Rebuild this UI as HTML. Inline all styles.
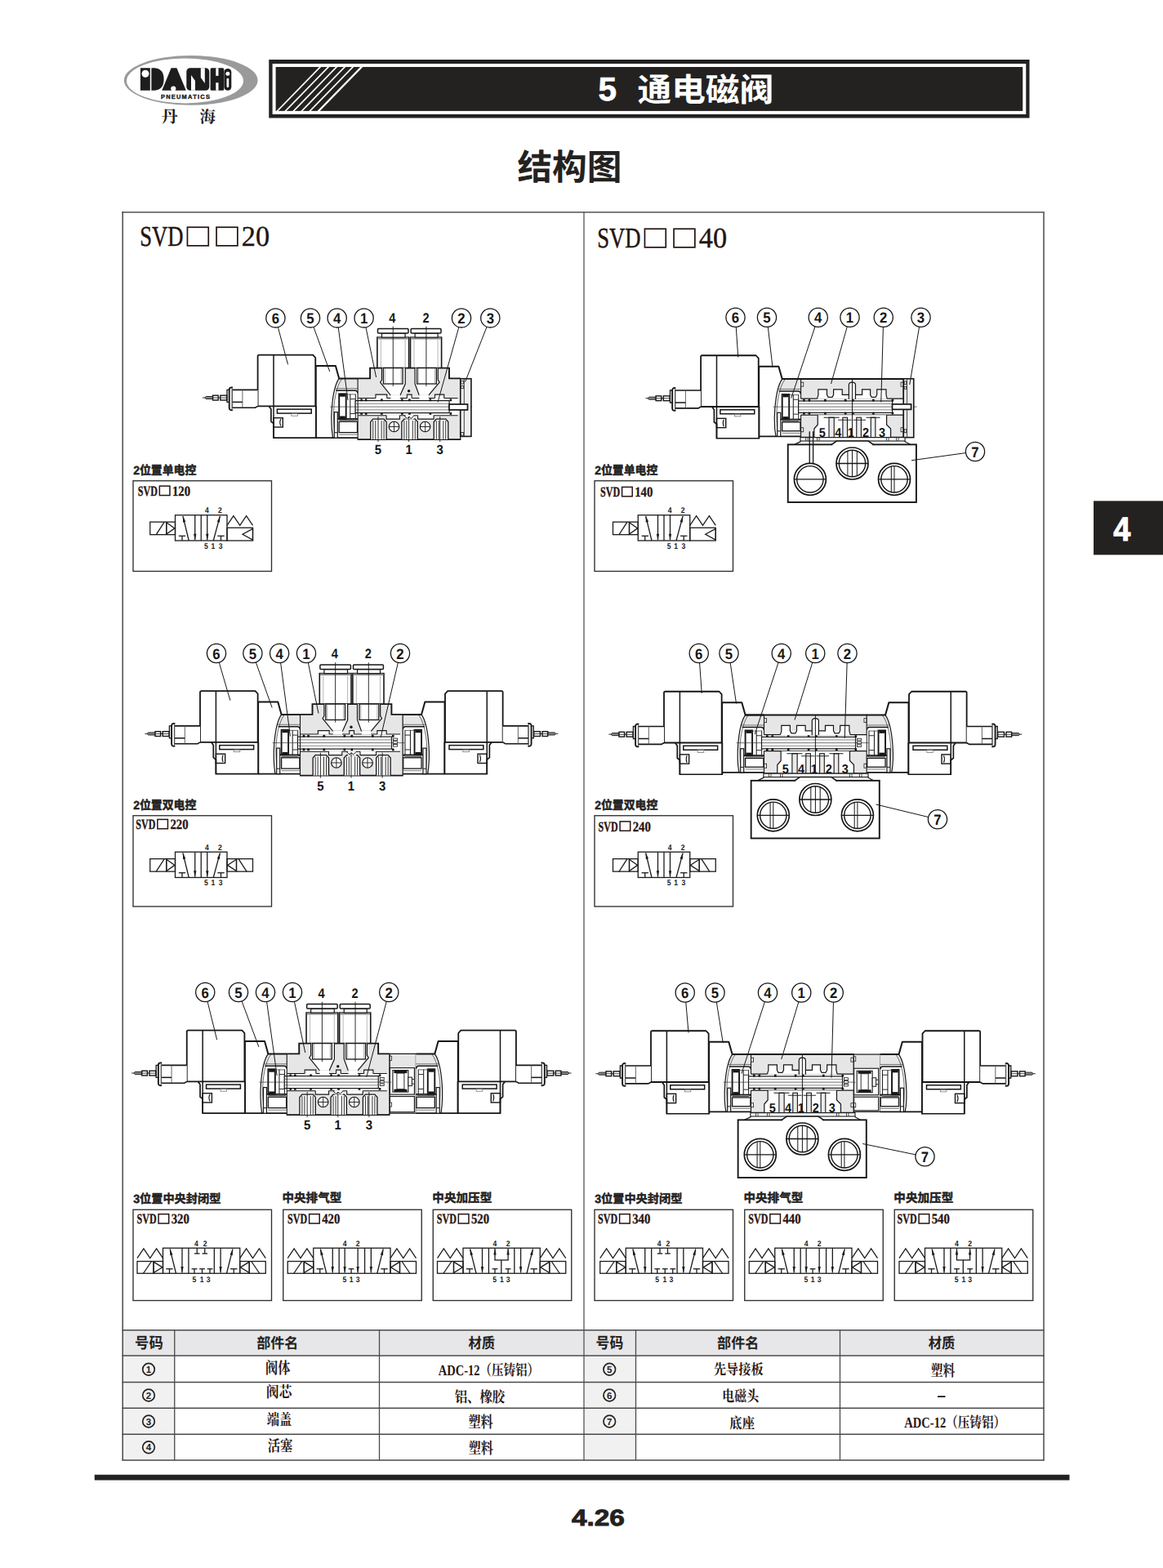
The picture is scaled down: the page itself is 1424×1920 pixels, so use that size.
<!DOCTYPE html>
<html lang="zh"><head><meta charset="utf-8"><title>5 通电磁阀 结构图</title>
<style>html,body{margin:0;padding:0;background:#fff}body{width:1424px;height:1920px;overflow:hidden;position:relative}svg{position:absolute;left:0;top:0;display:block}</style></head>
<body>
<svg width="1424" height="1920" viewBox="0 0 1424 1920" text-rendering="geometricPrecision">
<rect x="329.25" y="73" width="931.25" height="71.5" fill="#232221"/>
<clipPath id="hc"><rect x="337.6" y="82" width="914.6" height="53.9"/></clipPath>
<g clip-path="url(#hc)" stroke="#fff" fill="none">
<line x1="336.5" y1="139" x2="395" y2="79" stroke-width="1.7"/>
<line x1="346.5" y1="139" x2="405" y2="79" stroke-width="1.7"/>
<line x1="356.5" y1="139" x2="415" y2="79" stroke-width="1.7"/>
<line x1="366.5" y1="139" x2="425" y2="79" stroke-width="1.7"/>
<line x1="376.5" y1="139" x2="435" y2="79" stroke-width="1.7"/>
<line x1="387.1" y1="139" x2="445.6" y2="79" stroke-width="2.3"/>
</g>
<rect x="335.6" y="80" width="918.65" height="57.9" fill="none" stroke="#fff" stroke-width="4"/>
<text x="732.5" y="122.5" font-family="'Liberation Sans',sans-serif" font-size="40.5" font-weight="bold" text-anchor="start" fill="#fff" stroke="#fff" stroke-width="0.7">5</text>
<text transform="translate(780.54 123.57) scale(1.049 1)" font-family="'Liberation Sans','Noto Sans CJK SC',sans-serif" font-size="39.7" font-weight="bold" fill="#fff">通电磁阀</text>
<text transform="translate(633.41 219.61) scale(0.989 1)" font-family="'Liberation Sans','Noto Sans CJK SC',sans-serif" font-size="43.15" font-weight="bold" fill="#232221">结构图</text>
<ellipse cx="233.7" cy="98.4" rx="81.9" ry="30.4" fill="#9a9a9a"/>
<ellipse cx="226.5" cy="98.9" rx="71.5" ry="27.5" fill="#fff"/>
<g fill="#1d1d1d">
<rect x="171.9" y="83.25" width="11.9" height="27.5"/>
<path d="M185.4 83.25L189.5 83.25Q200.6 84.2 200.6 97Q200.6 109.8 189.5 110.75L185.4 110.75Z"/>
<path d="M198.3 110.75L209.6 83.25L216.4 83.25L227.8 110.75Z"/>
<rect x="228.3" y="83.25" width="28" height="27.5" rx="4.5"/>
<rect x="257.6" y="83.25" width="16.6" height="27.5" rx="1.5"/>
<rect x="274.4" y="84" width="8.9" height="26.75" rx="4.2"/>
</g>
<g fill="#fff">
<circle cx="178" cy="90.2" r="4.5"/>
<circle cx="212.3" cy="108.6" r="3.1"/>
<path d="M234 110.75L234 92L239 99L239 110.75Z"/>
<path d="M245.8 83.25L250.8 83.25L250.8 102L245.8 95Z"/>
<rect x="264.3" y="83.25" width="3.2" height="9.6"/>
<rect x="264.3" y="101.2" width="3.2" height="9.55"/>
<circle cx="278.85" cy="90.3" r="2.5"/>
<rect x="277.5" y="95.8" width="2.7" height="11.4" rx="1.35"/>
</g>
<text x="196.9" y="120.5" font-family="'Liberation Sans',sans-serif" font-weight="bold" font-size="7.4" textLength="60" lengthAdjust="spacing" fill="#1d1d1d" stroke="#1d1d1d" stroke-width="0.4">PNEUMATICS</text>
<text transform="translate(197.51 150.19) scale(0.987 1)" font-family="'Liberation Serif','Noto Serif CJK SC',serif" font-size="20.5" font-weight="bold" fill="#1d1d1d">丹</text>
<text transform="translate(244.51 150.2) scale(0.976 1)" font-family="'Liberation Serif','Noto Serif CJK SC',serif" font-size="20" font-weight="bold" fill="#1d1d1d">海</text>
<rect x="150" y="1628.75" width="1128" height="31.25" fill="#e7e6e8"/>
<rect x="150" y="1660" width="63.75" height="128" fill="#f1f1f2"/>
<rect x="715" y="1660" width="63.5" height="128" fill="#f1f1f2"/>
<line x1="149.5" y1="259.8" x2="1279" y2="259.8" stroke="#6a6a6a" stroke-width="1.7"/>
<line x1="150.2" y1="259" x2="150.2" y2="1788.5" stroke="#3c3c3c" stroke-width="1.4"/>
<line x1="1278" y1="259" x2="1278" y2="1788.5" stroke="#707070" stroke-width="1.9"/>
<line x1="715" y1="259" x2="715" y2="1788.5" stroke="#555" stroke-width="1.3"/>
<line x1="149.5" y1="1628.75" x2="1278.5" y2="1628.75" stroke="#4a4a4a" stroke-width="1.3"/>
<line x1="149.5" y1="1660" x2="1278.5" y2="1660" stroke="#4a4a4a" stroke-width="1.3"/>
<line x1="149.5" y1="1692.5" x2="1278.5" y2="1692.5" stroke="#4a4a4a" stroke-width="1.3"/>
<line x1="149.5" y1="1724.25" x2="1278.5" y2="1724.25" stroke="#4a4a4a" stroke-width="1.3"/>
<line x1="149.5" y1="1756.25" x2="1278.5" y2="1756.25" stroke="#4a4a4a" stroke-width="1.3"/>
<line x1="149.5" y1="1788" x2="1278.5" y2="1788" stroke="#4a4a4a" stroke-width="1.3"/>
<line x1="213.75" y1="1628.75" x2="213.75" y2="1788" stroke="#4a4a4a" stroke-width="1.3"/>
<line x1="464.5" y1="1628.75" x2="464.5" y2="1788" stroke="#4a4a4a" stroke-width="1.3"/>
<line x1="778.5" y1="1628.75" x2="778.5" y2="1788" stroke="#4a4a4a" stroke-width="1.3"/>
<line x1="1028.5" y1="1628.75" x2="1028.5" y2="1788" stroke="#4a4a4a" stroke-width="1.3"/>
<rect x="115.75" y="1805.75" width="1193.75" height="6.75" fill="#232221"/>
<text transform="translate(165.08 1651.36) scale(0.923 1)" font-family="'Liberation Sans','Noto Sans CJK SC',sans-serif" font-size="18.85" font-weight="bold" fill="#232221">号码</text>
<text transform="translate(314.28 1651.4) scale(0.949 1)" font-family="'Liberation Sans','Noto Sans CJK SC',sans-serif" font-size="17.95" font-weight="bold" fill="#232221">部件名</text>
<text transform="translate(573.49 1651.4) scale(0.9055 1)" font-family="'Liberation Sans','Noto Sans CJK SC',sans-serif" font-size="18" font-weight="bold" fill="#232221">材质</text>
<text transform="translate(729.61 1651.36) scale(0.895 1)" font-family="'Liberation Sans','Noto Sans CJK SC',sans-serif" font-size="18.85" font-weight="bold" fill="#232221">号码</text>
<text transform="translate(878.03 1651.4) scale(0.954 1)" font-family="'Liberation Sans','Noto Sans CJK SC',sans-serif" font-size="17.95" font-weight="bold" fill="#232221">部件名</text>
<text transform="translate(1136.74 1651.4) scale(0.9055 1)" font-family="'Liberation Sans','Noto Sans CJK SC',sans-serif" font-size="18" font-weight="bold" fill="#232221">材质</text>
<text transform="translate(325.04 1682) scale(0.7736 1)" font-family="'Liberation Serif','Noto Serif CJK SC',serif" font-size="19.8" font-weight="bold" fill="#2a1512">阀体</text>
<text transform="translate(326.02 1710.72) scale(0.827 1)" font-family="'Liberation Serif','Noto Serif CJK SC',serif" font-size="18.9" font-weight="bold" fill="#2a1512">阀芯</text>
<text transform="translate(326.72 1745.3) scale(0.805 1)" font-family="'Liberation Serif','Noto Serif CJK SC',serif" font-size="19.1" font-weight="bold" fill="#2a1512">端盖</text>
<text transform="translate(327.69 1776.69) scale(0.809 1)" font-family="'Liberation Serif','Noto Serif CJK SC',serif" font-size="18.9" font-weight="bold" fill="#2a1512">活塞</text>
<text transform="translate(536.8 1683.75) scale(0.7666 1)" font-family="'Liberation Serif','Noto Serif CJK SC',serif" font-size="18.4" font-weight="bold" fill="#2a1512" textLength="160.7" lengthAdjust="spacingAndGlyphs">ADC-12（压铸铝）</text>
<text transform="translate(556.69 1716.93) scale(0.827 1)" font-family="'Liberation Serif','Noto Serif CJK SC',serif" font-size="18.6" font-weight="bold" fill="#2a1512">铝、橡胶</text>
<text transform="translate(573.42 1747.65) scale(0.78 1)" font-family="'Liberation Serif','Noto Serif CJK SC',serif" font-size="19.45" font-weight="bold" fill="#2a1512">塑料</text>
<text transform="translate(573.67 1780.18) scale(0.7905 1)" font-family="'Liberation Serif','Noto Serif CJK SC',serif" font-size="19.2" font-weight="bold" fill="#2a1512">塑料</text>
<text transform="translate(873.92 1682.78) scale(0.854 1)" font-family="'Liberation Serif','Noto Serif CJK SC',serif" font-size="17.75" font-weight="bold" fill="#2a1512">先导接板</text>
<text transform="translate(884.3 1715.96) scale(0.803 1)" font-family="'Liberation Serif','Noto Serif CJK SC',serif" font-size="18.6" font-weight="bold" fill="#2a1512">电磁头</text>
<text transform="translate(893.37 1749.23) scale(0.8476 1)" font-family="'Liberation Serif','Noto Serif CJK SC',serif" font-size="18" font-weight="bold" fill="#2a1512">底座</text>
<text transform="translate(1139.67 1685.18) scale(0.771 1)" font-family="'Liberation Serif','Noto Serif CJK SC',serif" font-size="19.2" font-weight="bold" fill="#2a1512">塑料</text>
<rect x="1148" y="1709.2" width="9.5" height="1.8" fill="#2a1512"/>
<text transform="translate(1107.3 1748.25) scale(0.77 1)" font-family="'Liberation Serif','Noto Serif CJK SC',serif" font-size="18.4" font-weight="bold" fill="#2a1512" textLength="160.7" lengthAdjust="spacingAndGlyphs">ADC-12（压铸铝）</text>
<circle cx="182" cy="1676.75" r="7.3" fill="none" stroke="#232221" stroke-width="1.7"/>
<text x="182" y="1680.95" font-family="'Liberation Sans',sans-serif" font-size="11.5" font-weight="bold" text-anchor="middle" fill="#232221">1</text>
<circle cx="182" cy="1708.5" r="7.3" fill="none" stroke="#232221" stroke-width="1.7"/>
<text x="182" y="1712.7" font-family="'Liberation Sans',sans-serif" font-size="11.5" font-weight="bold" text-anchor="middle" fill="#232221">2</text>
<circle cx="182" cy="1740.5" r="7.3" fill="none" stroke="#232221" stroke-width="1.7"/>
<text x="182" y="1744.7" font-family="'Liberation Sans',sans-serif" font-size="11.5" font-weight="bold" text-anchor="middle" fill="#232221">3</text>
<circle cx="182" cy="1772.25" r="7.3" fill="none" stroke="#232221" stroke-width="1.7"/>
<text x="182" y="1776.45" font-family="'Liberation Sans',sans-serif" font-size="11.5" font-weight="bold" text-anchor="middle" fill="#232221">4</text>
<circle cx="746.25" cy="1676.75" r="7.3" fill="none" stroke="#232221" stroke-width="1.7"/>
<text x="746.25" y="1680.95" font-family="'Liberation Sans',sans-serif" font-size="11.5" font-weight="bold" text-anchor="middle" fill="#232221">5</text>
<circle cx="746.25" cy="1708.5" r="7.3" fill="none" stroke="#232221" stroke-width="1.7"/>
<text x="746.25" y="1712.7" font-family="'Liberation Sans',sans-serif" font-size="11.5" font-weight="bold" text-anchor="middle" fill="#232221">6</text>
<circle cx="746.25" cy="1740.5" r="7.3" fill="none" stroke="#232221" stroke-width="1.7"/>
<text x="746.25" y="1744.7" font-family="'Liberation Sans',sans-serif" font-size="11.5" font-weight="bold" text-anchor="middle" fill="#232221">7</text>
<rect x="1339" y="613.4" width="90" height="66" fill="#232221"/>
<text x="1373.8" y="661.8" font-family="'Liberation Sans',sans-serif" font-size="41" font-weight="bold" text-anchor="middle" fill="#fff" stroke="#fff" stroke-width="1" transform="translate(1373.8 0) scale(0.92 1) translate(-1373.8 0)">4</text>
<text x="0" y="0" transform="translate(700 1868) scale(1.19 1)" font-family="'Liberation Sans',sans-serif" font-weight="bold" font-size="28" fill="#232221" stroke="#232221" stroke-width="0.9">4.26</text>
<rect x="163" y="588.75" width="169.5" height="110.75" fill="none" stroke="#2e2e2e" stroke-width="1.35"/>
<rect x="163" y="998.75" width="169.5" height="111.25" fill="none" stroke="#2e2e2e" stroke-width="1.35"/>
<g transform="translate(214.5 630.75)">
<rect x="0" y="0" width="63.5" height="31.25" fill="none" stroke="#1c1c1c" stroke-width="1.3"/>
<line x1="31.75" y1="0" x2="31.75" y2="31.25" stroke="#1c1c1c" stroke-width="1.3"/>
<line x1="16.75" y1="31.25" x2="9.4" y2="1.2" stroke="#1c1c1c" stroke-width="1.3"/>
<path d="M9.4 1.2L12.83 8.08L9.53 8.89Z" fill="#1c1c1c"/>
<line x1="24.25" y1="0" x2="24.25" y2="30.45" stroke="#1c1c1c" stroke-width="1.3"/>
<path d="M24.25 30.45L22.55 22.95L25.95 22.95Z" fill="#1c1c1c"/>
<line x1="4.3" y1="25.5" x2="12.7" y2="25.5" stroke="#1c1c1c" stroke-width="1.3"/>
<line x1="8.5" y1="25.5" x2="8.5" y2="31.25" stroke="#1c1c1c" stroke-width="1.3"/>
<line x1="39.25" y1="0" x2="39.25" y2="30.45" stroke="#1c1c1c" stroke-width="1.3"/>
<path d="M39.25 30.45L37.55 22.95L40.95 22.95Z" fill="#1c1c1c"/>
<line x1="46.75" y1="31.25" x2="54.9" y2="1.2" stroke="#1c1c1c" stroke-width="1.3"/>
<path d="M54.9 1.2L54.58 8.88L51.3 7.99Z" fill="#1c1c1c"/>
<line x1="51.8" y1="25.5" x2="60.2" y2="25.5" stroke="#1c1c1c" stroke-width="1.3"/>
<line x1="56" y1="25.5" x2="56" y2="31.25" stroke="#1c1c1c" stroke-width="1.3"/>
<rect x="-30.75" y="8.4" width="30.75" height="15.5" fill="none" stroke="#1c1c1c" stroke-width="1.3"/>
<line x1="-23.25" y1="23.9" x2="-13.25" y2="8.4" stroke="#1c1c1c" stroke-width="1.3"/>
<line x1="-10.75" y1="8.4" x2="-10.75" y2="23.9" stroke="#1c1c1c" stroke-width="1.3"/>
<path d="M-10.75 9L-0.6 16.15L-10.75 23.3Z" fill="none" stroke="#1c1c1c" stroke-width="1.3"/>
<path d="M63.5 12.6L71.38 0.8L79.25 12.6L87.12 0.8L95 12.6" fill="none" stroke="#1c1c1c" stroke-width="1.3" stroke-linejoin="miter"/>
<rect x="63.5" y="15.5" width="31.5" height="15.75" fill="none" stroke="#1c1c1c" stroke-width="1.3"/>
<path d="M95 16.6L95 30.4L82.5 23.5Z" fill="none" stroke="#1c1c1c" stroke-width="1.3"/>
<text transform="translate(38.9 -2.6) scale(0.88 1)" font-family="'Liberation Sans',sans-serif" font-weight="bold" font-size="9.8" text-anchor="middle" fill="#1c1c1c">4</text>
<text transform="translate(55 -2.6) scale(0.88 1)" font-family="'Liberation Sans',sans-serif" font-weight="bold" font-size="9.8" text-anchor="middle" fill="#1c1c1c">2</text>
<text transform="translate(38 41.1) scale(0.88 1)" font-family="'Liberation Sans',sans-serif" font-weight="bold" font-size="9.8" text-anchor="middle" fill="#1c1c1c">5</text>
<text transform="translate(46.4 41.1) scale(0.88 1)" font-family="'Liberation Sans',sans-serif" font-weight="bold" font-size="9.8" text-anchor="middle" fill="#1c1c1c">1</text>
<text transform="translate(55.6 41.1) scale(0.88 1)" font-family="'Liberation Sans',sans-serif" font-weight="bold" font-size="9.8" text-anchor="middle" fill="#1c1c1c">3</text>
</g>
<g transform="translate(214.5 1043.25)">
<rect x="0" y="0" width="63.5" height="31.25" fill="none" stroke="#1c1c1c" stroke-width="1.3"/>
<line x1="31.75" y1="0" x2="31.75" y2="31.25" stroke="#1c1c1c" stroke-width="1.3"/>
<line x1="16.75" y1="31.25" x2="9.4" y2="1.2" stroke="#1c1c1c" stroke-width="1.3"/>
<path d="M9.4 1.2L12.83 8.08L9.53 8.89Z" fill="#1c1c1c"/>
<line x1="24.25" y1="0" x2="24.25" y2="30.45" stroke="#1c1c1c" stroke-width="1.3"/>
<path d="M24.25 30.45L22.55 22.95L25.95 22.95Z" fill="#1c1c1c"/>
<line x1="4.3" y1="25.5" x2="12.7" y2="25.5" stroke="#1c1c1c" stroke-width="1.3"/>
<line x1="8.5" y1="25.5" x2="8.5" y2="31.25" stroke="#1c1c1c" stroke-width="1.3"/>
<line x1="39.25" y1="0" x2="39.25" y2="30.45" stroke="#1c1c1c" stroke-width="1.3"/>
<path d="M39.25 30.45L37.55 22.95L40.95 22.95Z" fill="#1c1c1c"/>
<line x1="46.75" y1="31.25" x2="54.9" y2="1.2" stroke="#1c1c1c" stroke-width="1.3"/>
<path d="M54.9 1.2L54.58 8.88L51.3 7.99Z" fill="#1c1c1c"/>
<line x1="51.8" y1="25.5" x2="60.2" y2="25.5" stroke="#1c1c1c" stroke-width="1.3"/>
<line x1="56" y1="25.5" x2="56" y2="31.25" stroke="#1c1c1c" stroke-width="1.3"/>
<rect x="-30.75" y="8.4" width="30.75" height="15.5" fill="none" stroke="#1c1c1c" stroke-width="1.3"/>
<line x1="-23.25" y1="23.9" x2="-13.25" y2="8.4" stroke="#1c1c1c" stroke-width="1.3"/>
<line x1="-10.75" y1="8.4" x2="-10.75" y2="23.9" stroke="#1c1c1c" stroke-width="1.3"/>
<path d="M-10.75 9L-0.6 16.15L-10.75 23.3Z" fill="none" stroke="#1c1c1c" stroke-width="1.3"/>
<rect x="63.5" y="8.4" width="31.5" height="15.5" fill="none" stroke="#1c1c1c" stroke-width="1.3"/>
<line x1="87.5" y1="23.9" x2="77.5" y2="8.4" stroke="#1c1c1c" stroke-width="1.3"/>
<line x1="75" y1="8.4" x2="75" y2="23.9" stroke="#1c1c1c" stroke-width="1.3"/>
<path d="M75 9L64.1 16.15L75 23.3Z" fill="none" stroke="#1c1c1c" stroke-width="1.3"/>
<text transform="translate(38.9 -2.6) scale(0.88 1)" font-family="'Liberation Sans',sans-serif" font-weight="bold" font-size="9.8" text-anchor="middle" fill="#1c1c1c">4</text>
<text transform="translate(55 -2.6) scale(0.88 1)" font-family="'Liberation Sans',sans-serif" font-weight="bold" font-size="9.8" text-anchor="middle" fill="#1c1c1c">2</text>
<text transform="translate(38 41.1) scale(0.88 1)" font-family="'Liberation Sans',sans-serif" font-weight="bold" font-size="9.8" text-anchor="middle" fill="#1c1c1c">5</text>
<text transform="translate(46.4 41.1) scale(0.88 1)" font-family="'Liberation Sans',sans-serif" font-weight="bold" font-size="9.8" text-anchor="middle" fill="#1c1c1c">1</text>
<text transform="translate(55.6 41.1) scale(0.88 1)" font-family="'Liberation Sans',sans-serif" font-weight="bold" font-size="9.8" text-anchor="middle" fill="#1c1c1c">3</text>
</g>
<text transform="translate(163.14 581.11) scale(0.9404 1)" font-family="'Liberation Sans','Noto Sans CJK SC',sans-serif" font-size="14.8" font-weight="bold" fill="#232221" stroke="#232221" stroke-width="0.5" stroke-linejoin="round">2位置单电控</text>
<text transform="translate(163.14 991.1) scale(0.9404 1)" font-family="'Liberation Sans','Noto Sans CJK SC',sans-serif" font-size="14.8" font-weight="bold" fill="#232221" stroke="#232221" stroke-width="0.5" stroke-linejoin="round">2位置双电控</text>
<rect x="728" y="588.75" width="169.5" height="110.75" fill="none" stroke="#2e2e2e" stroke-width="1.35"/>
<rect x="728" y="998.75" width="169.5" height="111.25" fill="none" stroke="#2e2e2e" stroke-width="1.35"/>
<g transform="translate(781.25 630.75)">
<rect x="0" y="0" width="63.5" height="31.25" fill="none" stroke="#1c1c1c" stroke-width="1.3"/>
<line x1="31.75" y1="0" x2="31.75" y2="31.25" stroke="#1c1c1c" stroke-width="1.3"/>
<line x1="16.75" y1="31.25" x2="9.4" y2="1.2" stroke="#1c1c1c" stroke-width="1.3"/>
<path d="M9.4 1.2L12.83 8.08L9.53 8.89Z" fill="#1c1c1c"/>
<line x1="24.25" y1="0" x2="24.25" y2="30.45" stroke="#1c1c1c" stroke-width="1.3"/>
<path d="M24.25 30.45L22.55 22.95L25.95 22.95Z" fill="#1c1c1c"/>
<line x1="4.3" y1="25.5" x2="12.7" y2="25.5" stroke="#1c1c1c" stroke-width="1.3"/>
<line x1="8.5" y1="25.5" x2="8.5" y2="31.25" stroke="#1c1c1c" stroke-width="1.3"/>
<line x1="39.25" y1="0" x2="39.25" y2="30.45" stroke="#1c1c1c" stroke-width="1.3"/>
<path d="M39.25 30.45L37.55 22.95L40.95 22.95Z" fill="#1c1c1c"/>
<line x1="46.75" y1="31.25" x2="54.9" y2="1.2" stroke="#1c1c1c" stroke-width="1.3"/>
<path d="M54.9 1.2L54.58 8.88L51.3 7.99Z" fill="#1c1c1c"/>
<line x1="51.8" y1="25.5" x2="60.2" y2="25.5" stroke="#1c1c1c" stroke-width="1.3"/>
<line x1="56" y1="25.5" x2="56" y2="31.25" stroke="#1c1c1c" stroke-width="1.3"/>
<rect x="-30.75" y="8.4" width="30.75" height="15.5" fill="none" stroke="#1c1c1c" stroke-width="1.3"/>
<line x1="-23.25" y1="23.9" x2="-13.25" y2="8.4" stroke="#1c1c1c" stroke-width="1.3"/>
<line x1="-10.75" y1="8.4" x2="-10.75" y2="23.9" stroke="#1c1c1c" stroke-width="1.3"/>
<path d="M-10.75 9L-0.6 16.15L-10.75 23.3Z" fill="none" stroke="#1c1c1c" stroke-width="1.3"/>
<path d="M63.5 12.6L71.38 0.8L79.25 12.6L87.12 0.8L95 12.6" fill="none" stroke="#1c1c1c" stroke-width="1.3" stroke-linejoin="miter"/>
<rect x="63.5" y="15.5" width="31.5" height="15.75" fill="none" stroke="#1c1c1c" stroke-width="1.3"/>
<path d="M95 16.6L95 30.4L82.5 23.5Z" fill="none" stroke="#1c1c1c" stroke-width="1.3"/>
<text transform="translate(38.9 -2.6) scale(0.88 1)" font-family="'Liberation Sans',sans-serif" font-weight="bold" font-size="9.8" text-anchor="middle" fill="#1c1c1c">4</text>
<text transform="translate(55 -2.6) scale(0.88 1)" font-family="'Liberation Sans',sans-serif" font-weight="bold" font-size="9.8" text-anchor="middle" fill="#1c1c1c">2</text>
<text transform="translate(38 41.1) scale(0.88 1)" font-family="'Liberation Sans',sans-serif" font-weight="bold" font-size="9.8" text-anchor="middle" fill="#1c1c1c">5</text>
<text transform="translate(46.4 41.1) scale(0.88 1)" font-family="'Liberation Sans',sans-serif" font-weight="bold" font-size="9.8" text-anchor="middle" fill="#1c1c1c">1</text>
<text transform="translate(55.6 41.1) scale(0.88 1)" font-family="'Liberation Sans',sans-serif" font-weight="bold" font-size="9.8" text-anchor="middle" fill="#1c1c1c">3</text>
</g>
<g transform="translate(781.25 1043.25)">
<rect x="0" y="0" width="63.5" height="31.25" fill="none" stroke="#1c1c1c" stroke-width="1.3"/>
<line x1="31.75" y1="0" x2="31.75" y2="31.25" stroke="#1c1c1c" stroke-width="1.3"/>
<line x1="16.75" y1="31.25" x2="9.4" y2="1.2" stroke="#1c1c1c" stroke-width="1.3"/>
<path d="M9.4 1.2L12.83 8.08L9.53 8.89Z" fill="#1c1c1c"/>
<line x1="24.25" y1="0" x2="24.25" y2="30.45" stroke="#1c1c1c" stroke-width="1.3"/>
<path d="M24.25 30.45L22.55 22.95L25.95 22.95Z" fill="#1c1c1c"/>
<line x1="4.3" y1="25.5" x2="12.7" y2="25.5" stroke="#1c1c1c" stroke-width="1.3"/>
<line x1="8.5" y1="25.5" x2="8.5" y2="31.25" stroke="#1c1c1c" stroke-width="1.3"/>
<line x1="39.25" y1="0" x2="39.25" y2="30.45" stroke="#1c1c1c" stroke-width="1.3"/>
<path d="M39.25 30.45L37.55 22.95L40.95 22.95Z" fill="#1c1c1c"/>
<line x1="46.75" y1="31.25" x2="54.9" y2="1.2" stroke="#1c1c1c" stroke-width="1.3"/>
<path d="M54.9 1.2L54.58 8.88L51.3 7.99Z" fill="#1c1c1c"/>
<line x1="51.8" y1="25.5" x2="60.2" y2="25.5" stroke="#1c1c1c" stroke-width="1.3"/>
<line x1="56" y1="25.5" x2="56" y2="31.25" stroke="#1c1c1c" stroke-width="1.3"/>
<rect x="-30.75" y="8.4" width="30.75" height="15.5" fill="none" stroke="#1c1c1c" stroke-width="1.3"/>
<line x1="-23.25" y1="23.9" x2="-13.25" y2="8.4" stroke="#1c1c1c" stroke-width="1.3"/>
<line x1="-10.75" y1="8.4" x2="-10.75" y2="23.9" stroke="#1c1c1c" stroke-width="1.3"/>
<path d="M-10.75 9L-0.6 16.15L-10.75 23.3Z" fill="none" stroke="#1c1c1c" stroke-width="1.3"/>
<rect x="63.5" y="8.4" width="31.5" height="15.5" fill="none" stroke="#1c1c1c" stroke-width="1.3"/>
<line x1="87.5" y1="23.9" x2="77.5" y2="8.4" stroke="#1c1c1c" stroke-width="1.3"/>
<line x1="75" y1="8.4" x2="75" y2="23.9" stroke="#1c1c1c" stroke-width="1.3"/>
<path d="M75 9L64.1 16.15L75 23.3Z" fill="none" stroke="#1c1c1c" stroke-width="1.3"/>
<text transform="translate(38.9 -2.6) scale(0.88 1)" font-family="'Liberation Sans',sans-serif" font-weight="bold" font-size="9.8" text-anchor="middle" fill="#1c1c1c">4</text>
<text transform="translate(55 -2.6) scale(0.88 1)" font-family="'Liberation Sans',sans-serif" font-weight="bold" font-size="9.8" text-anchor="middle" fill="#1c1c1c">2</text>
<text transform="translate(38 41.1) scale(0.88 1)" font-family="'Liberation Sans',sans-serif" font-weight="bold" font-size="9.8" text-anchor="middle" fill="#1c1c1c">5</text>
<text transform="translate(46.4 41.1) scale(0.88 1)" font-family="'Liberation Sans',sans-serif" font-weight="bold" font-size="9.8" text-anchor="middle" fill="#1c1c1c">1</text>
<text transform="translate(55.6 41.1) scale(0.88 1)" font-family="'Liberation Sans',sans-serif" font-weight="bold" font-size="9.8" text-anchor="middle" fill="#1c1c1c">3</text>
</g>
<text transform="translate(728.14 581.11) scale(0.9404 1)" font-family="'Liberation Sans','Noto Sans CJK SC',sans-serif" font-size="14.8" font-weight="bold" fill="#232221" stroke="#232221" stroke-width="0.5" stroke-linejoin="round">2位置单电控</text>
<text transform="translate(728.14 991.1) scale(0.9404 1)" font-family="'Liberation Sans','Noto Sans CJK SC',sans-serif" font-size="14.8" font-weight="bold" fill="#232221" stroke="#232221" stroke-width="0.5" stroke-linejoin="round">2位置双电控</text>
<text transform="translate(168.75 606.75) scale(0.70 1)" font-family="'Liberation Serif',serif" font-weight="bold" font-size="17.2" fill="#2a1512" stroke="#2a1512" stroke-width="0.35">SVD</text>
<rect x="195.35" y="595.15" width="12.6" height="11.4" fill="none" stroke="#2a1512" stroke-width="1.5"/>
<text transform="translate(210.95 606.75) scale(0.86 1)" font-family="'Liberation Serif',serif" font-weight="bold" font-size="17.2" fill="#2a1512" stroke="#2a1512" stroke-width="0.3">120</text>
<text transform="translate(166.25 1015) scale(0.70 1)" font-family="'Liberation Serif',serif" font-weight="bold" font-size="17.2" fill="#2a1512" stroke="#2a1512" stroke-width="0.35">SVD</text>
<rect x="192.85" y="1003.4" width="12.6" height="11.4" fill="none" stroke="#2a1512" stroke-width="1.5"/>
<text transform="translate(208.45 1015) scale(0.86 1)" font-family="'Liberation Serif',serif" font-weight="bold" font-size="17.2" fill="#2a1512" stroke="#2a1512" stroke-width="0.3">220</text>
<text transform="translate(735 608) scale(0.70 1)" font-family="'Liberation Serif',serif" font-weight="bold" font-size="17.2" fill="#2a1512" stroke="#2a1512" stroke-width="0.35">SVD</text>
<rect x="761.6" y="596.4" width="12.6" height="11.4" fill="none" stroke="#2a1512" stroke-width="1.5"/>
<text transform="translate(777.2 608) scale(0.86 1)" font-family="'Liberation Serif',serif" font-weight="bold" font-size="17.2" fill="#2a1512" stroke="#2a1512" stroke-width="0.3">140</text>
<text transform="translate(732.5 1017.5) scale(0.70 1)" font-family="'Liberation Serif',serif" font-weight="bold" font-size="17.2" fill="#2a1512" stroke="#2a1512" stroke-width="0.35">SVD</text>
<rect x="759.1" y="1005.9" width="12.6" height="11.4" fill="none" stroke="#2a1512" stroke-width="1.5"/>
<text transform="translate(774.7 1017.5) scale(0.86 1)" font-family="'Liberation Serif',serif" font-weight="bold" font-size="17.2" fill="#2a1512" stroke="#2a1512" stroke-width="0.3">240</text>
<rect x="163" y="1481.25" width="169.5" height="111.25" fill="none" stroke="#2e2e2e" stroke-width="1.35"/>
<g transform="translate(199.5 1528.25)">
<rect x="0" y="0" width="94.25" height="31" fill="none" stroke="#1c1c1c" stroke-width="1.3"/>
<line x1="31.42" y1="0" x2="31.42" y2="31" stroke="#1c1c1c" stroke-width="1.3"/>
<line x1="62.83" y1="0" x2="62.83" y2="31" stroke="#1c1c1c" stroke-width="1.3"/>
<line x1="16" y1="31" x2="8.6" y2="1.2" stroke="#1c1c1c" stroke-width="1.3"/>
<path d="M8.6 1.2L12.06 8.07L8.76 8.89Z" fill="#1c1c1c"/>
<line x1="23.5" y1="0" x2="23.5" y2="30.2" stroke="#1c1c1c" stroke-width="1.3"/>
<path d="M23.5 30.2L21.8 22.7L25.2 22.7Z" fill="#1c1c1c"/>
<line x1="3.8" y1="25.5" x2="12.2" y2="25.5" stroke="#1c1c1c" stroke-width="1.3"/>
<line x1="8" y1="25.5" x2="8" y2="31" stroke="#1c1c1c" stroke-width="1.3"/>
<line x1="70.6" y1="0" x2="70.6" y2="30.2" stroke="#1c1c1c" stroke-width="1.3"/>
<path d="M70.6 30.2L68.9 22.7L72.3 22.7Z" fill="#1c1c1c"/>
<line x1="78" y1="31" x2="85.5" y2="1.2" stroke="#1c1c1c" stroke-width="1.3"/>
<path d="M85.5 1.2L85.32 8.89L82.02 8.06Z" fill="#1c1c1c"/>
<line x1="82.55" y1="25.5" x2="90.95" y2="25.5" stroke="#1c1c1c" stroke-width="1.3"/>
<line x1="86.75" y1="25.5" x2="86.75" y2="31" stroke="#1c1c1c" stroke-width="1.3"/>
<path d="M-31.5 12.4L-23.62 0.6L-15.75 12.4L-7.88 0.6L0 12.4" fill="none" stroke="#1c1c1c" stroke-width="1.3" stroke-linejoin="miter"/>
<rect x="-31.5" y="16.25" width="31.5" height="14.75" fill="none" stroke="#1c1c1c" stroke-width="1.3"/>
<line x1="-24" y1="31" x2="-14" y2="16.25" stroke="#1c1c1c" stroke-width="1.3"/>
<line x1="-11.5" y1="16.25" x2="-11.5" y2="31" stroke="#1c1c1c" stroke-width="1.3"/>
<path d="M-11.5 16.85L-0.6 23.62L-11.5 30.4Z" fill="none" stroke="#1c1c1c" stroke-width="1.3"/>
<path d="M94.25 12.4L102.12 0.6L110 12.4L117.88 0.6L125.75 12.4" fill="none" stroke="#1c1c1c" stroke-width="1.3" stroke-linejoin="miter"/>
<rect x="94.25" y="16.25" width="31.5" height="14.75" fill="none" stroke="#1c1c1c" stroke-width="1.3"/>
<line x1="118.25" y1="31" x2="108.25" y2="16.25" stroke="#1c1c1c" stroke-width="1.3"/>
<line x1="105.75" y1="16.25" x2="105.75" y2="31" stroke="#1c1c1c" stroke-width="1.3"/>
<path d="M105.75 16.85L94.85 23.62L105.75 30.4Z" fill="none" stroke="#1c1c1c" stroke-width="1.3"/>
<line x1="41.75" y1="0" x2="41.75" y2="6.75" stroke="#1c1c1c" stroke-width="1.3"/>
<line x1="38.45" y1="6.75" x2="45.05" y2="6.75" stroke="#1c1c1c" stroke-width="1.3"/>
<line x1="51.25" y1="0" x2="51.25" y2="6.75" stroke="#1c1c1c" stroke-width="1.3"/>
<line x1="47.95" y1="6.75" x2="54.55" y2="6.75" stroke="#1c1c1c" stroke-width="1.3"/>
<line x1="35.1" y1="25.5" x2="41.9" y2="25.5" stroke="#1c1c1c" stroke-width="1.3"/>
<line x1="38.5" y1="25.5" x2="38.5" y2="31" stroke="#1c1c1c" stroke-width="1.3"/>
<line x1="44.6" y1="25.5" x2="51.4" y2="25.5" stroke="#1c1c1c" stroke-width="1.3"/>
<line x1="48" y1="25.5" x2="48" y2="31" stroke="#1c1c1c" stroke-width="1.3"/>
<line x1="54.1" y1="25.5" x2="60.9" y2="25.5" stroke="#1c1c1c" stroke-width="1.3"/>
<line x1="57.5" y1="25.5" x2="57.5" y2="31" stroke="#1c1c1c" stroke-width="1.3"/>
<text transform="translate(41 -2) scale(0.88 1)" font-family="'Liberation Sans',sans-serif" font-weight="bold" font-size="9.8" text-anchor="middle" fill="#1c1c1c">4</text>
<text transform="translate(51.75 -2) scale(0.88 1)" font-family="'Liberation Sans',sans-serif" font-weight="bold" font-size="9.8" text-anchor="middle" fill="#1c1c1c">2</text>
<text transform="translate(38.5 41.6) scale(0.88 1)" font-family="'Liberation Sans',sans-serif" font-weight="bold" font-size="9.8" text-anchor="middle" fill="#1c1c1c">5</text>
<text transform="translate(47.6 41.6) scale(0.88 1)" font-family="'Liberation Sans',sans-serif" font-weight="bold" font-size="9.8" text-anchor="middle" fill="#1c1c1c">1</text>
<text transform="translate(55.6 41.6) scale(0.88 1)" font-family="'Liberation Sans',sans-serif" font-weight="bold" font-size="9.8" text-anchor="middle" fill="#1c1c1c">3</text>
</g>
<text transform="translate(167.5 1498.25) scale(0.70 1)" font-family="'Liberation Serif',serif" font-weight="bold" font-size="17.2" fill="#2a1512" stroke="#2a1512" stroke-width="0.35">SVD</text>
<rect x="194.1" y="1486.65" width="12.6" height="11.4" fill="none" stroke="#2a1512" stroke-width="1.5"/>
<text transform="translate(209.7 1498.25) scale(0.86 1)" font-family="'Liberation Serif',serif" font-weight="bold" font-size="17.2" fill="#2a1512" stroke="#2a1512" stroke-width="0.3">320</text>
<rect x="346.75" y="1481.25" width="169.5" height="111.25" fill="none" stroke="#2e2e2e" stroke-width="1.35"/>
<g transform="translate(383.75 1528.25)">
<rect x="0" y="0" width="94.25" height="31" fill="none" stroke="#1c1c1c" stroke-width="1.3"/>
<line x1="31.42" y1="0" x2="31.42" y2="31" stroke="#1c1c1c" stroke-width="1.3"/>
<line x1="62.83" y1="0" x2="62.83" y2="31" stroke="#1c1c1c" stroke-width="1.3"/>
<line x1="16" y1="31" x2="8.6" y2="1.2" stroke="#1c1c1c" stroke-width="1.3"/>
<path d="M8.6 1.2L12.06 8.07L8.76 8.89Z" fill="#1c1c1c"/>
<line x1="23.5" y1="0" x2="23.5" y2="30.2" stroke="#1c1c1c" stroke-width="1.3"/>
<path d="M23.5 30.2L21.8 22.7L25.2 22.7Z" fill="#1c1c1c"/>
<line x1="3.8" y1="25.5" x2="12.2" y2="25.5" stroke="#1c1c1c" stroke-width="1.3"/>
<line x1="8" y1="25.5" x2="8" y2="31" stroke="#1c1c1c" stroke-width="1.3"/>
<line x1="70.6" y1="0" x2="70.6" y2="30.2" stroke="#1c1c1c" stroke-width="1.3"/>
<path d="M70.6 30.2L68.9 22.7L72.3 22.7Z" fill="#1c1c1c"/>
<line x1="78" y1="31" x2="85.5" y2="1.2" stroke="#1c1c1c" stroke-width="1.3"/>
<path d="M85.5 1.2L85.32 8.89L82.02 8.06Z" fill="#1c1c1c"/>
<line x1="82.55" y1="25.5" x2="90.95" y2="25.5" stroke="#1c1c1c" stroke-width="1.3"/>
<line x1="86.75" y1="25.5" x2="86.75" y2="31" stroke="#1c1c1c" stroke-width="1.3"/>
<path d="M-31.5 12.4L-23.62 0.6L-15.75 12.4L-7.88 0.6L0 12.4" fill="none" stroke="#1c1c1c" stroke-width="1.3" stroke-linejoin="miter"/>
<rect x="-31.5" y="16.25" width="31.5" height="14.75" fill="none" stroke="#1c1c1c" stroke-width="1.3"/>
<line x1="-24" y1="31" x2="-14" y2="16.25" stroke="#1c1c1c" stroke-width="1.3"/>
<line x1="-11.5" y1="16.25" x2="-11.5" y2="31" stroke="#1c1c1c" stroke-width="1.3"/>
<path d="M-11.5 16.85L-0.6 23.62L-11.5 30.4Z" fill="none" stroke="#1c1c1c" stroke-width="1.3"/>
<path d="M94.25 12.4L102.12 0.6L110 12.4L117.88 0.6L125.75 12.4" fill="none" stroke="#1c1c1c" stroke-width="1.3" stroke-linejoin="miter"/>
<rect x="94.25" y="16.25" width="31.5" height="14.75" fill="none" stroke="#1c1c1c" stroke-width="1.3"/>
<line x1="118.25" y1="31" x2="108.25" y2="16.25" stroke="#1c1c1c" stroke-width="1.3"/>
<line x1="105.75" y1="16.25" x2="105.75" y2="31" stroke="#1c1c1c" stroke-width="1.3"/>
<path d="M105.75 16.85L94.85 23.62L105.75 30.4Z" fill="none" stroke="#1c1c1c" stroke-width="1.3"/>
<line x1="38.4" y1="0" x2="38.4" y2="30.2" stroke="#1c1c1c" stroke-width="1.3"/>
<path d="M38.4 30.2L36.7 22.7L40.1 22.7Z" fill="#1c1c1c"/>
<line x1="54.4" y1="0" x2="54.4" y2="30.2" stroke="#1c1c1c" stroke-width="1.3"/>
<path d="M54.4 30.2L52.7 22.7L56.1 22.7Z" fill="#1c1c1c"/>
<line x1="42.9" y1="25.5" x2="49.7" y2="25.5" stroke="#1c1c1c" stroke-width="1.3"/>
<line x1="46.3" y1="25.5" x2="46.3" y2="31" stroke="#1c1c1c" stroke-width="1.3"/>
<text transform="translate(38.3 -2) scale(0.88 1)" font-family="'Liberation Sans',sans-serif" font-weight="bold" font-size="9.8" text-anchor="middle" fill="#1c1c1c">4</text>
<text transform="translate(54.5 -2) scale(0.88 1)" font-family="'Liberation Sans',sans-serif" font-weight="bold" font-size="9.8" text-anchor="middle" fill="#1c1c1c">2</text>
<text transform="translate(38.2 41.6) scale(0.88 1)" font-family="'Liberation Sans',sans-serif" font-weight="bold" font-size="9.8" text-anchor="middle" fill="#1c1c1c">5</text>
<text transform="translate(46.3 41.6) scale(0.88 1)" font-family="'Liberation Sans',sans-serif" font-weight="bold" font-size="9.8" text-anchor="middle" fill="#1c1c1c">1</text>
<text transform="translate(54.4 41.6) scale(0.88 1)" font-family="'Liberation Sans',sans-serif" font-weight="bold" font-size="9.8" text-anchor="middle" fill="#1c1c1c">3</text>
</g>
<text transform="translate(352 1498.25) scale(0.70 1)" font-family="'Liberation Serif',serif" font-weight="bold" font-size="17.2" fill="#2a1512" stroke="#2a1512" stroke-width="0.35">SVD</text>
<rect x="378.6" y="1486.65" width="12.6" height="11.4" fill="none" stroke="#2a1512" stroke-width="1.5"/>
<text transform="translate(394.2 1498.25) scale(0.86 1)" font-family="'Liberation Serif',serif" font-weight="bold" font-size="17.2" fill="#2a1512" stroke="#2a1512" stroke-width="0.3">420</text>
<rect x="530.25" y="1481.25" width="169.5" height="111.25" fill="none" stroke="#2e2e2e" stroke-width="1.35"/>
<g transform="translate(567 1528.25)">
<rect x="0" y="0" width="94.25" height="31" fill="none" stroke="#1c1c1c" stroke-width="1.3"/>
<line x1="31.42" y1="0" x2="31.42" y2="31" stroke="#1c1c1c" stroke-width="1.3"/>
<line x1="62.83" y1="0" x2="62.83" y2="31" stroke="#1c1c1c" stroke-width="1.3"/>
<line x1="16" y1="31" x2="8.6" y2="1.2" stroke="#1c1c1c" stroke-width="1.3"/>
<path d="M8.6 1.2L12.06 8.07L8.76 8.89Z" fill="#1c1c1c"/>
<line x1="23.5" y1="0" x2="23.5" y2="30.2" stroke="#1c1c1c" stroke-width="1.3"/>
<path d="M23.5 30.2L21.8 22.7L25.2 22.7Z" fill="#1c1c1c"/>
<line x1="3.8" y1="25.5" x2="12.2" y2="25.5" stroke="#1c1c1c" stroke-width="1.3"/>
<line x1="8" y1="25.5" x2="8" y2="31" stroke="#1c1c1c" stroke-width="1.3"/>
<line x1="70.6" y1="0" x2="70.6" y2="30.2" stroke="#1c1c1c" stroke-width="1.3"/>
<path d="M70.6 30.2L68.9 22.7L72.3 22.7Z" fill="#1c1c1c"/>
<line x1="78" y1="31" x2="85.5" y2="1.2" stroke="#1c1c1c" stroke-width="1.3"/>
<path d="M85.5 1.2L85.32 8.89L82.02 8.06Z" fill="#1c1c1c"/>
<line x1="82.55" y1="25.5" x2="90.95" y2="25.5" stroke="#1c1c1c" stroke-width="1.3"/>
<line x1="86.75" y1="25.5" x2="86.75" y2="31" stroke="#1c1c1c" stroke-width="1.3"/>
<path d="M-31.5 12.4L-23.62 0.6L-15.75 12.4L-7.88 0.6L0 12.4" fill="none" stroke="#1c1c1c" stroke-width="1.3" stroke-linejoin="miter"/>
<rect x="-31.5" y="16.25" width="31.5" height="14.75" fill="none" stroke="#1c1c1c" stroke-width="1.3"/>
<line x1="-24" y1="31" x2="-14" y2="16.25" stroke="#1c1c1c" stroke-width="1.3"/>
<line x1="-11.5" y1="16.25" x2="-11.5" y2="31" stroke="#1c1c1c" stroke-width="1.3"/>
<path d="M-11.5 16.85L-0.6 23.62L-11.5 30.4Z" fill="none" stroke="#1c1c1c" stroke-width="1.3"/>
<path d="M94.25 12.4L102.12 0.6L110 12.4L117.88 0.6L125.75 12.4" fill="none" stroke="#1c1c1c" stroke-width="1.3" stroke-linejoin="miter"/>
<rect x="94.25" y="16.25" width="31.5" height="14.75" fill="none" stroke="#1c1c1c" stroke-width="1.3"/>
<line x1="118.25" y1="31" x2="108.25" y2="16.25" stroke="#1c1c1c" stroke-width="1.3"/>
<line x1="105.75" y1="16.25" x2="105.75" y2="31" stroke="#1c1c1c" stroke-width="1.3"/>
<path d="M105.75 16.85L94.85 23.62L105.75 30.4Z" fill="none" stroke="#1c1c1c" stroke-width="1.3"/>
<line x1="39" y1="14.7" x2="39" y2="0.8" stroke="#1c1c1c" stroke-width="1.3"/>
<path d="M39 0.8L40.7 8.3L37.3 8.3Z" fill="#1c1c1c"/>
<line x1="55.1" y1="14.7" x2="55.1" y2="0.8" stroke="#1c1c1c" stroke-width="1.3"/>
<path d="M55.1 0.8L56.8 8.3L53.4 8.3Z" fill="#1c1c1c"/>
<line x1="38.4" y1="14.7" x2="55.7" y2="14.7" stroke="#1c1c1c" stroke-width="1.3"/>
<line x1="46.8" y1="14.7" x2="46.8" y2="31" stroke="#1c1c1c" stroke-width="1.3"/>
<line x1="35.6" y1="25.5" x2="42.4" y2="25.5" stroke="#1c1c1c" stroke-width="1.3"/>
<line x1="39" y1="25.5" x2="39" y2="31" stroke="#1c1c1c" stroke-width="1.3"/>
<line x1="51.7" y1="25.5" x2="58.5" y2="25.5" stroke="#1c1c1c" stroke-width="1.3"/>
<line x1="55.1" y1="25.5" x2="55.1" y2="31" stroke="#1c1c1c" stroke-width="1.3"/>
<text transform="translate(39 -2) scale(0.88 1)" font-family="'Liberation Sans',sans-serif" font-weight="bold" font-size="9.8" text-anchor="middle" fill="#1c1c1c">4</text>
<text transform="translate(55.1 -2) scale(0.88 1)" font-family="'Liberation Sans',sans-serif" font-weight="bold" font-size="9.8" text-anchor="middle" fill="#1c1c1c">2</text>
<text transform="translate(38.7 41.6) scale(0.88 1)" font-family="'Liberation Sans',sans-serif" font-weight="bold" font-size="9.8" text-anchor="middle" fill="#1c1c1c">5</text>
<text transform="translate(47.4 41.6) scale(0.88 1)" font-family="'Liberation Sans',sans-serif" font-weight="bold" font-size="9.8" text-anchor="middle" fill="#1c1c1c">1</text>
<text transform="translate(55.1 41.6) scale(0.88 1)" font-family="'Liberation Sans',sans-serif" font-weight="bold" font-size="9.8" text-anchor="middle" fill="#1c1c1c">3</text>
</g>
<text transform="translate(534.75 1498.25) scale(0.70 1)" font-family="'Liberation Serif',serif" font-weight="bold" font-size="17.2" fill="#2a1512" stroke="#2a1512" stroke-width="0.35">SVD</text>
<rect x="561.35" y="1486.65" width="12.6" height="11.4" fill="none" stroke="#2a1512" stroke-width="1.5"/>
<text transform="translate(576.95 1498.25) scale(0.86 1)" font-family="'Liberation Serif',serif" font-weight="bold" font-size="17.2" fill="#2a1512" stroke="#2a1512" stroke-width="0.3">520</text>
<rect x="728" y="1481.25" width="169.5" height="111.25" fill="none" stroke="#2e2e2e" stroke-width="1.35"/>
<g transform="translate(766.25 1528.25)">
<rect x="0" y="0" width="94.25" height="31" fill="none" stroke="#1c1c1c" stroke-width="1.3"/>
<line x1="31.42" y1="0" x2="31.42" y2="31" stroke="#1c1c1c" stroke-width="1.3"/>
<line x1="62.83" y1="0" x2="62.83" y2="31" stroke="#1c1c1c" stroke-width="1.3"/>
<line x1="16" y1="31" x2="8.6" y2="1.2" stroke="#1c1c1c" stroke-width="1.3"/>
<path d="M8.6 1.2L12.06 8.07L8.76 8.89Z" fill="#1c1c1c"/>
<line x1="23.5" y1="0" x2="23.5" y2="30.2" stroke="#1c1c1c" stroke-width="1.3"/>
<path d="M23.5 30.2L21.8 22.7L25.2 22.7Z" fill="#1c1c1c"/>
<line x1="3.8" y1="25.5" x2="12.2" y2="25.5" stroke="#1c1c1c" stroke-width="1.3"/>
<line x1="8" y1="25.5" x2="8" y2="31" stroke="#1c1c1c" stroke-width="1.3"/>
<line x1="70.6" y1="0" x2="70.6" y2="30.2" stroke="#1c1c1c" stroke-width="1.3"/>
<path d="M70.6 30.2L68.9 22.7L72.3 22.7Z" fill="#1c1c1c"/>
<line x1="78" y1="31" x2="85.5" y2="1.2" stroke="#1c1c1c" stroke-width="1.3"/>
<path d="M85.5 1.2L85.32 8.89L82.02 8.06Z" fill="#1c1c1c"/>
<line x1="82.55" y1="25.5" x2="90.95" y2="25.5" stroke="#1c1c1c" stroke-width="1.3"/>
<line x1="86.75" y1="25.5" x2="86.75" y2="31" stroke="#1c1c1c" stroke-width="1.3"/>
<path d="M-31.5 12.4L-23.62 0.6L-15.75 12.4L-7.88 0.6L0 12.4" fill="none" stroke="#1c1c1c" stroke-width="1.3" stroke-linejoin="miter"/>
<rect x="-31.5" y="16.25" width="31.5" height="14.75" fill="none" stroke="#1c1c1c" stroke-width="1.3"/>
<line x1="-24" y1="31" x2="-14" y2="16.25" stroke="#1c1c1c" stroke-width="1.3"/>
<line x1="-11.5" y1="16.25" x2="-11.5" y2="31" stroke="#1c1c1c" stroke-width="1.3"/>
<path d="M-11.5 16.85L-0.6 23.62L-11.5 30.4Z" fill="none" stroke="#1c1c1c" stroke-width="1.3"/>
<path d="M94.25 12.4L102.12 0.6L110 12.4L117.88 0.6L125.75 12.4" fill="none" stroke="#1c1c1c" stroke-width="1.3" stroke-linejoin="miter"/>
<rect x="94.25" y="16.25" width="31.5" height="14.75" fill="none" stroke="#1c1c1c" stroke-width="1.3"/>
<line x1="118.25" y1="31" x2="108.25" y2="16.25" stroke="#1c1c1c" stroke-width="1.3"/>
<line x1="105.75" y1="16.25" x2="105.75" y2="31" stroke="#1c1c1c" stroke-width="1.3"/>
<path d="M105.75 16.85L94.85 23.62L105.75 30.4Z" fill="none" stroke="#1c1c1c" stroke-width="1.3"/>
<line x1="41.75" y1="0" x2="41.75" y2="6.75" stroke="#1c1c1c" stroke-width="1.3"/>
<line x1="38.45" y1="6.75" x2="45.05" y2="6.75" stroke="#1c1c1c" stroke-width="1.3"/>
<line x1="51.25" y1="0" x2="51.25" y2="6.75" stroke="#1c1c1c" stroke-width="1.3"/>
<line x1="47.95" y1="6.75" x2="54.55" y2="6.75" stroke="#1c1c1c" stroke-width="1.3"/>
<line x1="35.1" y1="25.5" x2="41.9" y2="25.5" stroke="#1c1c1c" stroke-width="1.3"/>
<line x1="38.5" y1="25.5" x2="38.5" y2="31" stroke="#1c1c1c" stroke-width="1.3"/>
<line x1="44.6" y1="25.5" x2="51.4" y2="25.5" stroke="#1c1c1c" stroke-width="1.3"/>
<line x1="48" y1="25.5" x2="48" y2="31" stroke="#1c1c1c" stroke-width="1.3"/>
<line x1="54.1" y1="25.5" x2="60.9" y2="25.5" stroke="#1c1c1c" stroke-width="1.3"/>
<line x1="57.5" y1="25.5" x2="57.5" y2="31" stroke="#1c1c1c" stroke-width="1.3"/>
<text transform="translate(41 -2) scale(0.88 1)" font-family="'Liberation Sans',sans-serif" font-weight="bold" font-size="9.8" text-anchor="middle" fill="#1c1c1c">4</text>
<text transform="translate(51.75 -2) scale(0.88 1)" font-family="'Liberation Sans',sans-serif" font-weight="bold" font-size="9.8" text-anchor="middle" fill="#1c1c1c">2</text>
<text transform="translate(38.5 41.6) scale(0.88 1)" font-family="'Liberation Sans',sans-serif" font-weight="bold" font-size="9.8" text-anchor="middle" fill="#1c1c1c">5</text>
<text transform="translate(47.6 41.6) scale(0.88 1)" font-family="'Liberation Sans',sans-serif" font-weight="bold" font-size="9.8" text-anchor="middle" fill="#1c1c1c">1</text>
<text transform="translate(55.6 41.6) scale(0.88 1)" font-family="'Liberation Sans',sans-serif" font-weight="bold" font-size="9.8" text-anchor="middle" fill="#1c1c1c">3</text>
</g>
<text transform="translate(732 1498.25) scale(0.70 1)" font-family="'Liberation Serif',serif" font-weight="bold" font-size="17.2" fill="#2a1512" stroke="#2a1512" stroke-width="0.35">SVD</text>
<rect x="758.6" y="1486.65" width="12.6" height="11.4" fill="none" stroke="#2a1512" stroke-width="1.5"/>
<text transform="translate(774.2 1498.25) scale(0.86 1)" font-family="'Liberation Serif',serif" font-weight="bold" font-size="17.2" fill="#2a1512" stroke="#2a1512" stroke-width="0.3">340</text>
<rect x="911.75" y="1481.25" width="169.5" height="111.25" fill="none" stroke="#2e2e2e" stroke-width="1.35"/>
<g transform="translate(948.75 1528.25)">
<rect x="0" y="0" width="94.25" height="31" fill="none" stroke="#1c1c1c" stroke-width="1.3"/>
<line x1="31.42" y1="0" x2="31.42" y2="31" stroke="#1c1c1c" stroke-width="1.3"/>
<line x1="62.83" y1="0" x2="62.83" y2="31" stroke="#1c1c1c" stroke-width="1.3"/>
<line x1="16" y1="31" x2="8.6" y2="1.2" stroke="#1c1c1c" stroke-width="1.3"/>
<path d="M8.6 1.2L12.06 8.07L8.76 8.89Z" fill="#1c1c1c"/>
<line x1="23.5" y1="0" x2="23.5" y2="30.2" stroke="#1c1c1c" stroke-width="1.3"/>
<path d="M23.5 30.2L21.8 22.7L25.2 22.7Z" fill="#1c1c1c"/>
<line x1="3.8" y1="25.5" x2="12.2" y2="25.5" stroke="#1c1c1c" stroke-width="1.3"/>
<line x1="8" y1="25.5" x2="8" y2="31" stroke="#1c1c1c" stroke-width="1.3"/>
<line x1="70.6" y1="0" x2="70.6" y2="30.2" stroke="#1c1c1c" stroke-width="1.3"/>
<path d="M70.6 30.2L68.9 22.7L72.3 22.7Z" fill="#1c1c1c"/>
<line x1="78" y1="31" x2="85.5" y2="1.2" stroke="#1c1c1c" stroke-width="1.3"/>
<path d="M85.5 1.2L85.32 8.89L82.02 8.06Z" fill="#1c1c1c"/>
<line x1="82.55" y1="25.5" x2="90.95" y2="25.5" stroke="#1c1c1c" stroke-width="1.3"/>
<line x1="86.75" y1="25.5" x2="86.75" y2="31" stroke="#1c1c1c" stroke-width="1.3"/>
<path d="M-31.5 12.4L-23.62 0.6L-15.75 12.4L-7.88 0.6L0 12.4" fill="none" stroke="#1c1c1c" stroke-width="1.3" stroke-linejoin="miter"/>
<rect x="-31.5" y="16.25" width="31.5" height="14.75" fill="none" stroke="#1c1c1c" stroke-width="1.3"/>
<line x1="-24" y1="31" x2="-14" y2="16.25" stroke="#1c1c1c" stroke-width="1.3"/>
<line x1="-11.5" y1="16.25" x2="-11.5" y2="31" stroke="#1c1c1c" stroke-width="1.3"/>
<path d="M-11.5 16.85L-0.6 23.62L-11.5 30.4Z" fill="none" stroke="#1c1c1c" stroke-width="1.3"/>
<path d="M94.25 12.4L102.12 0.6L110 12.4L117.88 0.6L125.75 12.4" fill="none" stroke="#1c1c1c" stroke-width="1.3" stroke-linejoin="miter"/>
<rect x="94.25" y="16.25" width="31.5" height="14.75" fill="none" stroke="#1c1c1c" stroke-width="1.3"/>
<line x1="118.25" y1="31" x2="108.25" y2="16.25" stroke="#1c1c1c" stroke-width="1.3"/>
<line x1="105.75" y1="16.25" x2="105.75" y2="31" stroke="#1c1c1c" stroke-width="1.3"/>
<path d="M105.75 16.85L94.85 23.62L105.75 30.4Z" fill="none" stroke="#1c1c1c" stroke-width="1.3"/>
<line x1="38.4" y1="0" x2="38.4" y2="30.2" stroke="#1c1c1c" stroke-width="1.3"/>
<path d="M38.4 30.2L36.7 22.7L40.1 22.7Z" fill="#1c1c1c"/>
<line x1="54.4" y1="0" x2="54.4" y2="30.2" stroke="#1c1c1c" stroke-width="1.3"/>
<path d="M54.4 30.2L52.7 22.7L56.1 22.7Z" fill="#1c1c1c"/>
<line x1="42.9" y1="25.5" x2="49.7" y2="25.5" stroke="#1c1c1c" stroke-width="1.3"/>
<line x1="46.3" y1="25.5" x2="46.3" y2="31" stroke="#1c1c1c" stroke-width="1.3"/>
<text transform="translate(38.3 -2) scale(0.88 1)" font-family="'Liberation Sans',sans-serif" font-weight="bold" font-size="9.8" text-anchor="middle" fill="#1c1c1c">4</text>
<text transform="translate(54.5 -2) scale(0.88 1)" font-family="'Liberation Sans',sans-serif" font-weight="bold" font-size="9.8" text-anchor="middle" fill="#1c1c1c">2</text>
<text transform="translate(38.2 41.6) scale(0.88 1)" font-family="'Liberation Sans',sans-serif" font-weight="bold" font-size="9.8" text-anchor="middle" fill="#1c1c1c">5</text>
<text transform="translate(46.3 41.6) scale(0.88 1)" font-family="'Liberation Sans',sans-serif" font-weight="bold" font-size="9.8" text-anchor="middle" fill="#1c1c1c">1</text>
<text transform="translate(54.4 41.6) scale(0.88 1)" font-family="'Liberation Sans',sans-serif" font-weight="bold" font-size="9.8" text-anchor="middle" fill="#1c1c1c">3</text>
</g>
<text transform="translate(916.25 1498.25) scale(0.70 1)" font-family="'Liberation Serif',serif" font-weight="bold" font-size="17.2" fill="#2a1512" stroke="#2a1512" stroke-width="0.35">SVD</text>
<rect x="942.85" y="1486.65" width="12.6" height="11.4" fill="none" stroke="#2a1512" stroke-width="1.5"/>
<text transform="translate(958.45 1498.25) scale(0.86 1)" font-family="'Liberation Serif',serif" font-weight="bold" font-size="17.2" fill="#2a1512" stroke="#2a1512" stroke-width="0.3">440</text>
<rect x="1095.25" y="1481.25" width="169.5" height="111.25" fill="none" stroke="#2e2e2e" stroke-width="1.35"/>
<g transform="translate(1132.5 1528.25)">
<rect x="0" y="0" width="94.25" height="31" fill="none" stroke="#1c1c1c" stroke-width="1.3"/>
<line x1="31.42" y1="0" x2="31.42" y2="31" stroke="#1c1c1c" stroke-width="1.3"/>
<line x1="62.83" y1="0" x2="62.83" y2="31" stroke="#1c1c1c" stroke-width="1.3"/>
<line x1="16" y1="31" x2="8.6" y2="1.2" stroke="#1c1c1c" stroke-width="1.3"/>
<path d="M8.6 1.2L12.06 8.07L8.76 8.89Z" fill="#1c1c1c"/>
<line x1="23.5" y1="0" x2="23.5" y2="30.2" stroke="#1c1c1c" stroke-width="1.3"/>
<path d="M23.5 30.2L21.8 22.7L25.2 22.7Z" fill="#1c1c1c"/>
<line x1="3.8" y1="25.5" x2="12.2" y2="25.5" stroke="#1c1c1c" stroke-width="1.3"/>
<line x1="8" y1="25.5" x2="8" y2="31" stroke="#1c1c1c" stroke-width="1.3"/>
<line x1="70.6" y1="0" x2="70.6" y2="30.2" stroke="#1c1c1c" stroke-width="1.3"/>
<path d="M70.6 30.2L68.9 22.7L72.3 22.7Z" fill="#1c1c1c"/>
<line x1="78" y1="31" x2="85.5" y2="1.2" stroke="#1c1c1c" stroke-width="1.3"/>
<path d="M85.5 1.2L85.32 8.89L82.02 8.06Z" fill="#1c1c1c"/>
<line x1="82.55" y1="25.5" x2="90.95" y2="25.5" stroke="#1c1c1c" stroke-width="1.3"/>
<line x1="86.75" y1="25.5" x2="86.75" y2="31" stroke="#1c1c1c" stroke-width="1.3"/>
<path d="M-31.5 12.4L-23.62 0.6L-15.75 12.4L-7.88 0.6L0 12.4" fill="none" stroke="#1c1c1c" stroke-width="1.3" stroke-linejoin="miter"/>
<rect x="-31.5" y="16.25" width="31.5" height="14.75" fill="none" stroke="#1c1c1c" stroke-width="1.3"/>
<line x1="-24" y1="31" x2="-14" y2="16.25" stroke="#1c1c1c" stroke-width="1.3"/>
<line x1="-11.5" y1="16.25" x2="-11.5" y2="31" stroke="#1c1c1c" stroke-width="1.3"/>
<path d="M-11.5 16.85L-0.6 23.62L-11.5 30.4Z" fill="none" stroke="#1c1c1c" stroke-width="1.3"/>
<path d="M94.25 12.4L102.12 0.6L110 12.4L117.88 0.6L125.75 12.4" fill="none" stroke="#1c1c1c" stroke-width="1.3" stroke-linejoin="miter"/>
<rect x="94.25" y="16.25" width="31.5" height="14.75" fill="none" stroke="#1c1c1c" stroke-width="1.3"/>
<line x1="118.25" y1="31" x2="108.25" y2="16.25" stroke="#1c1c1c" stroke-width="1.3"/>
<line x1="105.75" y1="16.25" x2="105.75" y2="31" stroke="#1c1c1c" stroke-width="1.3"/>
<path d="M105.75 16.85L94.85 23.62L105.75 30.4Z" fill="none" stroke="#1c1c1c" stroke-width="1.3"/>
<line x1="39" y1="14.7" x2="39" y2="0.8" stroke="#1c1c1c" stroke-width="1.3"/>
<path d="M39 0.8L40.7 8.3L37.3 8.3Z" fill="#1c1c1c"/>
<line x1="55.1" y1="14.7" x2="55.1" y2="0.8" stroke="#1c1c1c" stroke-width="1.3"/>
<path d="M55.1 0.8L56.8 8.3L53.4 8.3Z" fill="#1c1c1c"/>
<line x1="38.4" y1="14.7" x2="55.7" y2="14.7" stroke="#1c1c1c" stroke-width="1.3"/>
<line x1="46.8" y1="14.7" x2="46.8" y2="31" stroke="#1c1c1c" stroke-width="1.3"/>
<line x1="35.6" y1="25.5" x2="42.4" y2="25.5" stroke="#1c1c1c" stroke-width="1.3"/>
<line x1="39" y1="25.5" x2="39" y2="31" stroke="#1c1c1c" stroke-width="1.3"/>
<line x1="51.7" y1="25.5" x2="58.5" y2="25.5" stroke="#1c1c1c" stroke-width="1.3"/>
<line x1="55.1" y1="25.5" x2="55.1" y2="31" stroke="#1c1c1c" stroke-width="1.3"/>
<text transform="translate(39 -2) scale(0.88 1)" font-family="'Liberation Sans',sans-serif" font-weight="bold" font-size="9.8" text-anchor="middle" fill="#1c1c1c">4</text>
<text transform="translate(55.1 -2) scale(0.88 1)" font-family="'Liberation Sans',sans-serif" font-weight="bold" font-size="9.8" text-anchor="middle" fill="#1c1c1c">2</text>
<text transform="translate(38.7 41.6) scale(0.88 1)" font-family="'Liberation Sans',sans-serif" font-weight="bold" font-size="9.8" text-anchor="middle" fill="#1c1c1c">5</text>
<text transform="translate(47.4 41.6) scale(0.88 1)" font-family="'Liberation Sans',sans-serif" font-weight="bold" font-size="9.8" text-anchor="middle" fill="#1c1c1c">1</text>
<text transform="translate(55.1 41.6) scale(0.88 1)" font-family="'Liberation Sans',sans-serif" font-weight="bold" font-size="9.8" text-anchor="middle" fill="#1c1c1c">3</text>
</g>
<text transform="translate(1098.5 1498.25) scale(0.70 1)" font-family="'Liberation Serif',serif" font-weight="bold" font-size="17.2" fill="#2a1512" stroke="#2a1512" stroke-width="0.35">SVD</text>
<rect x="1125.1" y="1486.65" width="12.6" height="11.4" fill="none" stroke="#2a1512" stroke-width="1.5"/>
<text transform="translate(1140.7 1498.25) scale(0.86 1)" font-family="'Liberation Serif',serif" font-weight="bold" font-size="17.2" fill="#2a1512" stroke="#2a1512" stroke-width="0.3">540</text>
<text transform="translate(163.16 1472.5) scale(0.959 1)" font-family="'Liberation Sans','Noto Sans CJK SC',sans-serif" font-size="14.8" font-weight="bold" fill="#232221" stroke="#232221" stroke-width="0.5" stroke-linejoin="round">3位置中央封闭型</text>
<text transform="translate(345.54 1472.46) scale(0.969 1)" font-family="'Liberation Sans','Noto Sans CJK SC',sans-serif" font-size="15" font-weight="bold" fill="#232221" stroke="#232221" stroke-width="0.5" stroke-linejoin="round">中央排气型</text>
<text transform="translate(529.29 1472.4) scale(0.9726 1)" font-family="'Liberation Sans','Noto Sans CJK SC',sans-serif" font-size="15" font-weight="bold" fill="#232221" stroke="#232221" stroke-width="0.5" stroke-linejoin="round">中央加压型</text>
<text transform="translate(728.16 1472.5) scale(0.959 1)" font-family="'Liberation Sans','Noto Sans CJK SC',sans-serif" font-size="14.8" font-weight="bold" fill="#232221" stroke="#232221" stroke-width="0.5" stroke-linejoin="round">3位置中央封闭型</text>
<text transform="translate(910.54 1472.46) scale(0.969 1)" font-family="'Liberation Sans','Noto Sans CJK SC',sans-serif" font-size="15" font-weight="bold" fill="#232221" stroke="#232221" stroke-width="0.5" stroke-linejoin="round">中央排气型</text>
<text transform="translate(1094.29 1472.4) scale(0.9726 1)" font-family="'Liberation Sans','Noto Sans CJK SC',sans-serif" font-size="15" font-weight="bold" fill="#232221" stroke="#232221" stroke-width="0.5" stroke-linejoin="round">中央加压型</text>
<text transform="translate(171.25 301.25) scale(0.76 1)" font-family="'Liberation Serif',serif" font-size="35" fill="#241410" stroke="#241410" stroke-width="0.5">SVD</text>
<rect x="229.45" y="278.25" width="25.8" height="22.6" fill="none" stroke="#241410" stroke-width="1.7"/>
<rect x="265.05" y="278.25" width="25.8" height="22.6" fill="none" stroke="#241410" stroke-width="1.7"/>
<text transform="translate(295.75 301.25) scale(0.98 1)" font-family="'Liberation Serif',serif" font-size="35" fill="#241410" stroke="#241410" stroke-width="0.4">20</text>
<text transform="translate(731.25 303.25) scale(0.76 1)" font-family="'Liberation Serif',serif" font-size="35" fill="#241410" stroke="#241410" stroke-width="0.5">SVD</text>
<rect x="789.45" y="280.25" width="25.8" height="22.6" fill="none" stroke="#241410" stroke-width="1.7"/>
<rect x="825.05" y="280.25" width="25.8" height="22.6" fill="none" stroke="#241410" stroke-width="1.7"/>
<text transform="translate(855.75 303.25) scale(0.98 1)" font-family="'Liberation Serif',serif" font-size="35" fill="#241410" stroke="#241410" stroke-width="0.4">40</text>
<g transform="translate(438.1 463.1)">
<g transform="translate(-122.5 -28.5)">
<path d="M13.6 62.75L16.3 66.5L16.3 81.5L19.4 84L19.4 101.5L71.3 101.5L71.3 62.75" fill="#fff" stroke="#161616" stroke-width="1.7"/>
<path d="M1.6 0L67.5 0L70.65 3.4L70.65 62.75L0 62.75L0 1.6Q0 0 1.6 0Z" fill="#fff" stroke="#161616" stroke-width="1.8" stroke-linejoin="round"/>
<line x1="19.4" y1="0" x2="19.4" y2="101.5" stroke="#161616" stroke-width="1.5"/>
<line x1="71.3" y1="13" x2="71.3" y2="101.5" stroke="#161616" stroke-width="1.6"/>
<rect x="19.4" y="77.1" width="11.25" height="11.3" fill="none" stroke="#161616" stroke-width="1.4"/>
<path d="M28.2 78.5Q26.2 82.7 28.2 87" fill="none" stroke="#161616" stroke-width="1.2"/>
<rect x="23.8" y="66.5" width="41.85" height="5" fill="#fff" stroke="#161616" stroke-width="1.5"/>
<rect x="41.3" y="71.8" width="7.5" height="2.8" fill="none" stroke="#777" stroke-width="0.8"/>
<path d="M0 42.75L-31.6 42.75L-31.6 64.6L-3.1 64.6L0 62.75" fill="#fff" stroke="#161616" stroke-width="1.6"/>
<line x1="-18.7" y1="42.75" x2="-18.7" y2="64.6" stroke="#555" stroke-width="0.9"/>
<line x1="-31.6" y1="57.75" x2="-18.7" y2="57.75" stroke="#161616" stroke-width="1.5"/>
<path d="M-31.4 39.9Q-34.9 39.3 -34.9 43L-34.9 64.4Q-34.9 68.1 -31.4 67.5" fill="#fff" stroke="#161616" stroke-width="1.9" stroke-linecap="round"/>
<line x1="-31.6" y1="40" x2="-31.6" y2="67.4" stroke="#444" stroke-width="0.9"/>
<path d="M-34.6 42.75L-37.6 42.75L-37.6 57.75L-34.6 57.75" fill="none" stroke="#161616" stroke-width="1.3"/>
<line x1="-67.7" y1="52.4" x2="-63" y2="52.4" stroke="#555" stroke-width="1.2"/>
<path d="M-64.8 52.4L-63.6 50.9L-55 50.9L-55 53.9L-63.6 53.9Z" fill="#8a8a8a" stroke="#222" stroke-width="1"/>
<rect x="-55" y="49.6" width="6.6" height="5.8" fill="#fff" stroke="#161616" stroke-width="1.4"/>
<line x1="-55" y1="52.5" x2="-48.4" y2="52.5" stroke="#333" stroke-width="0.9"/>
<line x1="-48.4" y1="52.4" x2="-45.8" y2="52.4" stroke="#161616" stroke-width="1"/>
<rect x="-45.8" y="49.6" width="7.8" height="5.8" fill="#fff" stroke="#161616" stroke-width="1.4"/>
<line x1="-45.8" y1="52.5" x2="-38" y2="52.5" stroke="#333" stroke-width="0.9"/>
</g>
<path d="M-22.9 0.3C-27 6 -30.5 20 -31.8 36.9C-32.8 50 -32.2 62 -30.6 73.1 L0 73.1 L0 0.3Z" fill="#fff" stroke="none"/>
<path d="M-22.9 0.3C-25 3.5 -27.3 9 -28.6 14.6L0 14.6L0 0.3Z" fill="#e7e6e7" stroke="none"/>
<path d="M-22.9 0.3C-27 6 -30.5 20 -31.8 36.9C-32.8 50 -32.2 62 -30.6 73.1" fill="none" stroke="#161616" stroke-width="1.2"/>
<path d="M-19.5 0.8C-26.5 10 -30 30 -29.6 48C-29.4 56 -29 62 -28.4 67.1" fill="none" stroke="#444" stroke-width="0.8"/>
<path d="M-51.2 -15.1L-27.2 -15.1L-22.9 0.3L0 0.3" fill="none" stroke="#161616" stroke-width="2" stroke-linejoin="round"/>
<line x1="-51.2" y1="73.1" x2="0" y2="73.1" stroke="#161616" stroke-width="1.8"/>
<path d="M-26.8 15.2L-3 15.2Q-0.6 15.2 0 18.5" fill="none" stroke="#161616" stroke-width="1.5"/>
<line x1="-27.5" y1="12.7" x2="0" y2="12.7" stroke="#555" stroke-width="0.8"/>
<rect x="-22.9" y="19.2" width="8.5" height="30.4" fill="#fff" stroke="#161616" stroke-width="1.9"/>
<rect x="-22" y="19.8" width="6.7" height="2.8" fill="#161616" stroke="none" stroke-width="1"/>
<rect x="-22" y="46.4" width="6.7" height="2.8" fill="#161616" stroke="none" stroke-width="1"/>
<line x1="-9.3" y1="19.4" x2="-9.3" y2="49.6" stroke="#161616" stroke-width="1"/>
<line x1="-2.8" y1="19.4" x2="-2.8" y2="49.6" stroke="#161616" stroke-width="1"/>
<line x1="-14.4" y1="19.8" x2="-2.8" y2="19.8" stroke="#444" stroke-width="0.8"/>
<line x1="-9.3" y1="25.5" x2="-2.8" y2="25.5" stroke="#161616" stroke-width="0.9"/>
<line x1="-9.3" y1="43.4" x2="-2.8" y2="43.4" stroke="#161616" stroke-width="0.9"/>
<line x1="-26.5" y1="49.8" x2="0" y2="49.8" stroke="#161616" stroke-width="1.7"/>
<path d="M-22.9 51.6L-3.5 51.6Q-1 51.4 0 49.8" fill="none" stroke="#161616" stroke-width="0.9"/>
<rect x="-22.9" y="53.2" width="22.3" height="13.3" fill="#fff" stroke="#161616" stroke-width="1.3"/>
<line x1="-22.9" y1="69.1" x2="-0.6" y2="69.1" stroke="#555" stroke-width="0.8"/>
<rect x="-28.8" y="41.5" width="4" height="31.6" fill="#fff" stroke="#161616" stroke-width="1.2"/>
<line x1="-28.8" y1="66.6" x2="-24.8" y2="66.6" stroke="#161616" stroke-width="1"/>
<rect x="23.8" y="-50" width="38.7" height="38" fill="#fff" stroke="#161616" stroke-width="1.6"/>
<rect x="24.5" y="-50" width="37.3" height="2.4" fill="#8a8a8a" stroke="none" stroke-width="1"/>
<rect x="29.4" y="-55" width="28.6" height="5" fill="#fff" stroke="#161616" stroke-width="1.2"/>
<rect x="24.4" y="-60.6" width="37.5" height="5.6" fill="#fff" stroke="#161616" stroke-width="1.5" rx="1"/>
<line x1="28.3" y1="-47" x2="28.3" y2="-13" stroke="#888" stroke-width="0.6"/>
<line x1="58" y1="-47" x2="58" y2="-13" stroke="#888" stroke-width="0.6"/>
<rect x="64.4" y="-50" width="38.1" height="38" fill="#fff" stroke="#161616" stroke-width="1.6"/>
<rect x="65.1" y="-50" width="36.7" height="2.4" fill="#8a8a8a" stroke="none" stroke-width="1"/>
<rect x="70" y="-55" width="28" height="5" fill="#fff" stroke="#161616" stroke-width="1.2"/>
<rect x="65" y="-60.6" width="36.9" height="5.6" fill="#fff" stroke="#161616" stroke-width="1.5" rx="1"/>
<line x1="68.9" y1="-47" x2="68.9" y2="-13" stroke="#888" stroke-width="0.6"/>
<line x1="98" y1="-47" x2="98" y2="-13" stroke="#888" stroke-width="0.6"/>
<path d="M0 0L15 0L15 -12.5L111.9 -12.5L111.9 0L125.65 0L125.65 75L0 75Z" fill="#e7e6e7" stroke="none" stroke-width="1"/>
<path d="M0 0.3L15 0.3L15 -12.5L111.9 -12.5L111.9 0.3L125.65 0.3" fill="none" stroke="#161616" stroke-width="1.9"/>
<line x1="-0.5" y1="75" x2="126.2" y2="75" stroke="#161616" stroke-width="1.9"/>
<line x1="125.65" y1="0" x2="125.65" y2="75" stroke="#161616" stroke-width="1.2"/>
<path d="M29.4 -12.5L29.4 2L27.5 5L40 20.65L52 20.65L58.15 6.9L58.15 -12.5" fill="#fff" stroke="#161616" stroke-width="1.2"/>
<path d="M70 -12.5L70 6.9L75 20.65L87 20.65L100 5L98.15 2L98.15 -12.5" fill="#fff" stroke="#161616" stroke-width="1.2"/>
<rect x="31.3" y="-12.5" width="23.7" height="19.4" fill="#fff" stroke="#161616" stroke-width="1.3"/>
<rect x="72.5" y="-12.5" width="23.8" height="19.4" fill="#fff" stroke="#161616" stroke-width="1.3"/>
<line x1="33.2" y1="-12" x2="33.2" y2="6.5" stroke="#777" stroke-width="0.6"/>
<line x1="53.1" y1="-12" x2="53.1" y2="6.5" stroke="#777" stroke-width="0.6"/>
<line x1="74.4" y1="-12" x2="74.4" y2="6.5" stroke="#777" stroke-width="0.6"/>
<line x1="94.4" y1="-12" x2="94.4" y2="6.5" stroke="#777" stroke-width="0.6"/>
<circle cx="62.5" cy="15.65" r="1.7" fill="#161616"/>
<rect x="-0.5" y="24.4" width="123" height="21.25" fill="#fff" stroke="none" stroke-width="1"/>
<line x1="0" y1="24.4" x2="122.5" y2="24.4" stroke="#161616" stroke-width="1.1"/>
<line x1="0" y1="45.65" x2="122.5" y2="45.65" stroke="#161616" stroke-width="1.1"/>
<rect x="21.9" y="20" width="13.75" height="5" fill="#fff" stroke="none" stroke-width="1"/>
<path d="M21.9 24.4L21.9 20L35.65 20L35.65 24.4" fill="none" stroke="#161616" stroke-width="1.1"/>
<rect x="60.3" y="20" width="5.7" height="5" fill="#fff" stroke="none" stroke-width="1"/>
<path d="M60.3 24.4L60.3 20L66 20L66 24.4" fill="none" stroke="#161616" stroke-width="1.1"/>
<rect x="94.4" y="20" width="11.25" height="5" fill="#fff" stroke="none" stroke-width="1"/>
<path d="M94.4 24.4L94.4 20L105.65 20L105.65 24.4" fill="none" stroke="#161616" stroke-width="1.1"/>
<rect x="40.3" y="20" width="11.4" height="5" fill="#fff" stroke="none" stroke-width="1"/>
<rect x="75.3" y="20" width="11.4" height="5" fill="#fff" stroke="none" stroke-width="1"/>
<rect x="35" y="45" width="16.3" height="5" fill="#fff" stroke="none" stroke-width="1"/>
<path d="M35 45.65L35 50L51.3 50L51.3 45.65" fill="none" stroke="#161616" stroke-width="1.1"/>
<rect x="73.5" y="45" width="19.5" height="5" fill="#fff" stroke="none" stroke-width="1"/>
<path d="M73.5 45.65L73.5 50L93 50L93 45.65" fill="none" stroke="#161616" stroke-width="1.1"/>
<path d="M15.65 75L15.65 53.5L18.65 50L32 50L35 53.5L35 75" fill="#fff" stroke="#161616" stroke-width="1.3"/>
<line x1="18.65" y1="52" x2="18.65" y2="75" stroke="#161616" stroke-width="0.9"/>
<line x1="32" y1="52" x2="32" y2="75" stroke="#161616" stroke-width="0.9"/>
<line x1="21.65" y1="52" x2="21.65" y2="75" stroke="#161616" stroke-width="0.9"/>
<line x1="29" y1="52" x2="29" y2="75" stroke="#161616" stroke-width="0.9"/>
<path d="M53.8 75L53.8 53.5L56.8 50L70.15 50L73.15 53.5L73.15 75" fill="#fff" stroke="#161616" stroke-width="1.3"/>
<line x1="56.8" y1="52" x2="56.8" y2="75" stroke="#161616" stroke-width="0.9"/>
<line x1="70.15" y1="52" x2="70.15" y2="75" stroke="#161616" stroke-width="0.9"/>
<line x1="59.8" y1="52" x2="59.8" y2="75" stroke="#161616" stroke-width="0.9"/>
<line x1="67.15" y1="52" x2="67.15" y2="75" stroke="#161616" stroke-width="0.9"/>
<path d="M93.15 75L93.15 53.5L96.15 50L107.65 50L110.65 53.5L110.65 75" fill="#fff" stroke="#161616" stroke-width="1.3"/>
<line x1="96.15" y1="52" x2="96.15" y2="75" stroke="#161616" stroke-width="0.9"/>
<line x1="107.65" y1="52" x2="107.65" y2="75" stroke="#161616" stroke-width="0.9"/>
<line x1="99.15" y1="52" x2="99.15" y2="75" stroke="#161616" stroke-width="0.9"/>
<line x1="104.65" y1="52" x2="104.65" y2="75" stroke="#161616" stroke-width="0.9"/>
<rect x="58.5" y="45" width="10" height="5.5" fill="#fff" stroke="none" stroke-width="1"/>
<path d="M56.5 45.65L60.5 49.5L62 47.5L63.5 47.5L65 49.5L69 45.65" fill="none" stroke="#161616" stroke-width="1"/>
<circle cx="44.4" cy="59.4" r="6.25" fill="#fff" stroke="#161616" stroke-width="1.2"/>
<line x1="38.15" y1="59.4" x2="50.65" y2="59.4" stroke="#161616" stroke-width="0.9"/>
<line x1="44.4" y1="53.2" x2="44.4" y2="65.6" stroke="#161616" stroke-width="0.9"/>
<circle cx="82.5" cy="59.4" r="6.25" fill="#fff" stroke="#161616" stroke-width="1.2"/>
<line x1="76.25" y1="59.4" x2="88.75" y2="59.4" stroke="#161616" stroke-width="0.9"/>
<line x1="82.5" y1="53.2" x2="82.5" y2="65.6" stroke="#161616" stroke-width="0.9"/>
<rect x="-3" y="27.5" width="115" height="15" fill="#fff" stroke="#161616" stroke-width="1.2"/>
<line x1="-3" y1="31.3" x2="112" y2="31.3" stroke="#555" stroke-width="0.7"/>
<line x1="-3" y1="38.7" x2="112" y2="38.7" stroke="#555" stroke-width="0.7"/>
<rect x="3.2" y="25.3" width="2.6" height="2.8" fill="#161616" stroke="none" stroke-width="1"/>
<rect x="3.2" y="41.9" width="2.6" height="2.8" fill="#161616" stroke="none" stroke-width="1"/>
<rect x="8.8" y="25.3" width="2.6" height="2.8" fill="#161616" stroke="none" stroke-width="1"/>
<rect x="8.8" y="41.9" width="2.6" height="2.8" fill="#161616" stroke="none" stroke-width="1"/>
<rect x="28" y="25.3" width="2.6" height="2.8" fill="#161616" stroke="none" stroke-width="1"/>
<rect x="28" y="41.9" width="2.6" height="2.8" fill="#161616" stroke="none" stroke-width="1"/>
<rect x="53" y="25.3" width="2.6" height="2.8" fill="#161616" stroke="none" stroke-width="1"/>
<rect x="53" y="41.9" width="2.6" height="2.8" fill="#161616" stroke="none" stroke-width="1"/>
<rect x="62" y="25.3" width="2.6" height="2.8" fill="#161616" stroke="none" stroke-width="1"/>
<rect x="62" y="41.9" width="2.6" height="2.8" fill="#161616" stroke="none" stroke-width="1"/>
<rect x="87.5" y="25.3" width="2.6" height="2.8" fill="#161616" stroke="none" stroke-width="1"/>
<rect x="87.5" y="41.9" width="2.6" height="2.8" fill="#161616" stroke="none" stroke-width="1"/>
<rect x="112.5" y="25.3" width="2.6" height="2.8" fill="#161616" stroke="none" stroke-width="1"/>
<rect x="112.5" y="41.9" width="2.6" height="2.8" fill="#161616" stroke="none" stroke-width="1"/>
<line x1="-34" y1="35" x2="140" y2="35" stroke="#333" stroke-width="0.7"/>
<line x1="0" y1="0" x2="0" y2="75" stroke="#161616" stroke-width="1.1"/>
<rect x="125.65" y="0.6" width="13.15" height="70.7" fill="#efefef" stroke="#161616" stroke-width="1.6"/>
<line x1="130.2" y1="1" x2="130.2" y2="71" stroke="#161616" stroke-width="0.8"/>
<rect x="126.6" y="3.2" width="2.8" height="3.7" fill="#fff" stroke="#161616" stroke-width="0.8"/>
<rect x="126.6" y="9.4" width="2.8" height="3.1" fill="#fff" stroke="#161616" stroke-width="0.8"/>
<rect x="126.6" y="66.3" width="2.8" height="3.7" fill="#fff" stroke="#161616" stroke-width="0.8"/>
<rect x="111.9" y="31.9" width="22.5" height="6.9" fill="#fff" stroke="#161616" stroke-width="1.7"/>
<line x1="43.15" y1="-63.4" x2="43.15" y2="10" stroke="#161616" stroke-width="0.9"/>
<line x1="83.8" y1="-63.4" x2="83.8" y2="10" stroke="#161616" stroke-width="0.9"/>
<line x1="24.9" y1="47" x2="24.9" y2="78" stroke="#161616" stroke-width="0.9"/>
<line x1="62.5" y1="47" x2="62.5" y2="78" stroke="#161616" stroke-width="0.9"/>
<line x1="100.65" y1="47" x2="100.65" y2="78" stroke="#161616" stroke-width="0.9"/>
<text transform="translate(42.2 -68.2) scale(0.87 1)" font-family="'Liberation Sans',sans-serif" font-weight="bold" font-size="16.8" text-anchor="middle" fill="#161616">4</text>
<text transform="translate(83.4 -68.2) scale(0.87 1)" font-family="'Liberation Sans',sans-serif" font-weight="bold" font-size="16.8" text-anchor="middle" fill="#161616">2</text>
<text transform="translate(24.9 93.3) scale(0.92 1)" font-family="'Liberation Sans',sans-serif" font-weight="bold" font-size="16.2" text-anchor="middle" fill="#161616">5</text>
<text transform="translate(62.5 93.3) scale(0.92 1)" font-family="'Liberation Sans',sans-serif" font-weight="bold" font-size="16.2" text-anchor="middle" fill="#161616">1</text>
<text transform="translate(100.65 93.3) scale(0.92 1)" font-family="'Liberation Sans',sans-serif" font-weight="bold" font-size="16.2" text-anchor="middle" fill="#161616">3</text>
</g>
<line x1="340.38" y1="400.61" x2="352.5" y2="446.25" stroke="#161616" stroke-width="1"/>
<circle cx="337.4" cy="389.4" r="11.6" fill="#fff" stroke="#161616" stroke-width="1.3"/>
<text transform="translate(337.4 395.9) scale(0.93 1)" font-family="'Liberation Sans',sans-serif" font-weight="bold" font-size="18" text-anchor="middle" fill="#161616">6</text>
<line x1="383.95" y1="400.31" x2="403.75" y2="455" stroke="#161616" stroke-width="1"/>
<circle cx="380" cy="389.4" r="11.6" fill="#fff" stroke="#161616" stroke-width="1.3"/>
<text transform="translate(380 395.9) scale(0.93 1)" font-family="'Liberation Sans',sans-serif" font-weight="bold" font-size="18" text-anchor="middle" fill="#161616">5</text>
<line x1="414.22" y1="400.9" x2="426" y2="490" stroke="#161616" stroke-width="1"/>
<circle cx="412.7" cy="389.4" r="11.6" fill="#fff" stroke="#161616" stroke-width="1.3"/>
<text transform="translate(412.7 395.9) scale(0.93 1)" font-family="'Liberation Sans',sans-serif" font-weight="bold" font-size="18" text-anchor="middle" fill="#161616">4</text>
<line x1="447.95" y1="400.76" x2="460.6" y2="462" stroke="#161616" stroke-width="1"/>
<circle cx="445.6" cy="389.4" r="11.6" fill="#fff" stroke="#161616" stroke-width="1.3"/>
<text transform="translate(445.6 395.9) scale(0.93 1)" font-family="'Liberation Sans',sans-serif" font-weight="bold" font-size="18" text-anchor="middle" fill="#161616">1</text>
<line x1="561.86" y1="400.57" x2="536" y2="492.5" stroke="#161616" stroke-width="1"/>
<circle cx="565" cy="389.4" r="11.6" fill="#fff" stroke="#161616" stroke-width="1.3"/>
<text transform="translate(565 395.9) scale(0.93 1)" font-family="'Liberation Sans',sans-serif" font-weight="bold" font-size="18" text-anchor="middle" fill="#161616">2</text>
<line x1="596.06" y1="400.2" x2="569.6" y2="467.5" stroke="#161616" stroke-width="1"/>
<circle cx="600.3" cy="389.4" r="11.6" fill="#fff" stroke="#161616" stroke-width="1.3"/>
<text transform="translate(600.3 395.9) scale(0.93 1)" font-family="'Liberation Sans',sans-serif" font-weight="bold" font-size="18" text-anchor="middle" fill="#161616">3</text>
<g transform="translate(367.5 874.6)">
<g transform="translate(-122.5 -28.5)">
<path d="M13.6 62.75L16.3 66.5L16.3 81.5L19.4 84L19.4 101.5L71.3 101.5L71.3 62.75" fill="#fff" stroke="#161616" stroke-width="1.7"/>
<path d="M1.6 0L67.5 0L70.65 3.4L70.65 62.75L0 62.75L0 1.6Q0 0 1.6 0Z" fill="#fff" stroke="#161616" stroke-width="1.8" stroke-linejoin="round"/>
<line x1="19.4" y1="0" x2="19.4" y2="101.5" stroke="#161616" stroke-width="1.5"/>
<line x1="71.3" y1="13" x2="71.3" y2="101.5" stroke="#161616" stroke-width="1.6"/>
<rect x="19.4" y="77.1" width="11.25" height="11.3" fill="none" stroke="#161616" stroke-width="1.4"/>
<path d="M28.2 78.5Q26.2 82.7 28.2 87" fill="none" stroke="#161616" stroke-width="1.2"/>
<rect x="23.8" y="66.5" width="41.85" height="5" fill="#fff" stroke="#161616" stroke-width="1.5"/>
<rect x="41.3" y="71.8" width="7.5" height="2.8" fill="none" stroke="#777" stroke-width="0.8"/>
<path d="M0 42.75L-31.6 42.75L-31.6 64.6L-3.1 64.6L0 62.75" fill="#fff" stroke="#161616" stroke-width="1.6"/>
<line x1="-18.7" y1="42.75" x2="-18.7" y2="64.6" stroke="#555" stroke-width="0.9"/>
<line x1="-31.6" y1="57.75" x2="-18.7" y2="57.75" stroke="#161616" stroke-width="1.5"/>
<path d="M-31.4 39.9Q-34.9 39.3 -34.9 43L-34.9 64.4Q-34.9 68.1 -31.4 67.5" fill="#fff" stroke="#161616" stroke-width="1.9" stroke-linecap="round"/>
<line x1="-31.6" y1="40" x2="-31.6" y2="67.4" stroke="#444" stroke-width="0.9"/>
<path d="M-34.6 42.75L-37.6 42.75L-37.6 57.75L-34.6 57.75" fill="none" stroke="#161616" stroke-width="1.3"/>
<line x1="-67.7" y1="52.4" x2="-63" y2="52.4" stroke="#555" stroke-width="1.2"/>
<path d="M-64.8 52.4L-63.6 50.9L-55 50.9L-55 53.9L-63.6 53.9Z" fill="#8a8a8a" stroke="#222" stroke-width="1"/>
<rect x="-55" y="49.6" width="6.6" height="5.8" fill="#fff" stroke="#161616" stroke-width="1.4"/>
<line x1="-55" y1="52.5" x2="-48.4" y2="52.5" stroke="#333" stroke-width="0.9"/>
<line x1="-48.4" y1="52.4" x2="-45.8" y2="52.4" stroke="#161616" stroke-width="1"/>
<rect x="-45.8" y="49.6" width="7.8" height="5.8" fill="#fff" stroke="#161616" stroke-width="1.4"/>
<line x1="-45.8" y1="52.5" x2="-38" y2="52.5" stroke="#333" stroke-width="0.9"/>
</g>
<path d="M-22.9 0.3C-27 6 -30.5 20 -31.8 36.9C-32.8 50 -32.2 62 -30.6 73.1 L0 73.1 L0 0.3Z" fill="#fff" stroke="none"/>
<path d="M-22.9 0.3C-25 3.5 -27.3 9 -28.6 14.6L0 14.6L0 0.3Z" fill="#e7e6e7" stroke="none"/>
<path d="M-22.9 0.3C-27 6 -30.5 20 -31.8 36.9C-32.8 50 -32.2 62 -30.6 73.1" fill="none" stroke="#161616" stroke-width="1.2"/>
<path d="M-19.5 0.8C-26.5 10 -30 30 -29.6 48C-29.4 56 -29 62 -28.4 67.1" fill="none" stroke="#444" stroke-width="0.8"/>
<path d="M-51.2 -15.1L-27.2 -15.1L-22.9 0.3L0 0.3" fill="none" stroke="#161616" stroke-width="2" stroke-linejoin="round"/>
<line x1="-51.2" y1="73.1" x2="0" y2="73.1" stroke="#161616" stroke-width="1.8"/>
<path d="M-26.8 15.2L-3 15.2Q-0.6 15.2 0 18.5" fill="none" stroke="#161616" stroke-width="1.5"/>
<line x1="-27.5" y1="12.7" x2="0" y2="12.7" stroke="#555" stroke-width="0.8"/>
<rect x="-22.9" y="19.2" width="8.5" height="30.4" fill="#fff" stroke="#161616" stroke-width="1.9"/>
<rect x="-22" y="19.8" width="6.7" height="2.8" fill="#161616" stroke="none" stroke-width="1"/>
<rect x="-22" y="46.4" width="6.7" height="2.8" fill="#161616" stroke="none" stroke-width="1"/>
<line x1="-9.3" y1="19.4" x2="-9.3" y2="49.6" stroke="#161616" stroke-width="1"/>
<line x1="-2.8" y1="19.4" x2="-2.8" y2="49.6" stroke="#161616" stroke-width="1"/>
<line x1="-14.4" y1="19.8" x2="-2.8" y2="19.8" stroke="#444" stroke-width="0.8"/>
<line x1="-9.3" y1="25.5" x2="-2.8" y2="25.5" stroke="#161616" stroke-width="0.9"/>
<line x1="-9.3" y1="43.4" x2="-2.8" y2="43.4" stroke="#161616" stroke-width="0.9"/>
<line x1="-26.5" y1="49.8" x2="0" y2="49.8" stroke="#161616" stroke-width="1.7"/>
<path d="M-22.9 51.6L-3.5 51.6Q-1 51.4 0 49.8" fill="none" stroke="#161616" stroke-width="0.9"/>
<rect x="-22.9" y="53.2" width="22.3" height="13.3" fill="#fff" stroke="#161616" stroke-width="1.3"/>
<line x1="-22.9" y1="69.1" x2="-0.6" y2="69.1" stroke="#555" stroke-width="0.8"/>
<rect x="-28.8" y="41.5" width="4" height="31.6" fill="#fff" stroke="#161616" stroke-width="1.2"/>
<line x1="-28.8" y1="66.6" x2="-24.8" y2="66.6" stroke="#161616" stroke-width="1"/>
<g transform="translate(125.65 0)">
<g transform="scale(-1 1)">
<g transform="translate(-122.5 -28.5)">
<path d="M13.6 62.75L16.3 66.5L16.3 81.5L19.4 84L19.4 101.5L71.3 101.5L71.3 62.75" fill="#fff" stroke="#161616" stroke-width="1.7"/>
<path d="M1.6 0L67.5 0L70.65 3.4L70.65 62.75L0 62.75L0 1.6Q0 0 1.6 0Z" fill="#fff" stroke="#161616" stroke-width="1.8" stroke-linejoin="round"/>
<line x1="19.4" y1="0" x2="19.4" y2="101.5" stroke="#161616" stroke-width="1.5"/>
<line x1="71.3" y1="13" x2="71.3" y2="101.5" stroke="#161616" stroke-width="1.6"/>
<rect x="19.4" y="77.1" width="11.25" height="11.3" fill="none" stroke="#161616" stroke-width="1.4"/>
<path d="M28.2 78.5Q26.2 82.7 28.2 87" fill="none" stroke="#161616" stroke-width="1.2"/>
<rect x="23.8" y="66.5" width="41.85" height="5" fill="#fff" stroke="#161616" stroke-width="1.5"/>
<rect x="41.3" y="71.8" width="7.5" height="2.8" fill="none" stroke="#777" stroke-width="0.8"/>
<path d="M0 42.75L-31.6 42.75L-31.6 64.6L-3.1 64.6L0 62.75" fill="#fff" stroke="#161616" stroke-width="1.6"/>
<line x1="-18.7" y1="42.75" x2="-18.7" y2="64.6" stroke="#555" stroke-width="0.9"/>
<line x1="-31.6" y1="57.75" x2="-18.7" y2="57.75" stroke="#161616" stroke-width="1.5"/>
<path d="M-31.4 39.9Q-34.9 39.3 -34.9 43L-34.9 64.4Q-34.9 68.1 -31.4 67.5" fill="#fff" stroke="#161616" stroke-width="1.9" stroke-linecap="round"/>
<line x1="-31.6" y1="40" x2="-31.6" y2="67.4" stroke="#444" stroke-width="0.9"/>
<path d="M-34.6 42.75L-37.6 42.75L-37.6 57.75L-34.6 57.75" fill="none" stroke="#161616" stroke-width="1.3"/>
<line x1="-67.7" y1="52.4" x2="-63" y2="52.4" stroke="#555" stroke-width="1.2"/>
<path d="M-64.8 52.4L-63.6 50.9L-55 50.9L-55 53.9L-63.6 53.9Z" fill="#8a8a8a" stroke="#222" stroke-width="1"/>
<rect x="-55" y="49.6" width="6.6" height="5.8" fill="#fff" stroke="#161616" stroke-width="1.4"/>
<line x1="-55" y1="52.5" x2="-48.4" y2="52.5" stroke="#333" stroke-width="0.9"/>
<line x1="-48.4" y1="52.4" x2="-45.8" y2="52.4" stroke="#161616" stroke-width="1"/>
<rect x="-45.8" y="49.6" width="7.8" height="5.8" fill="#fff" stroke="#161616" stroke-width="1.4"/>
<line x1="-45.8" y1="52.5" x2="-38" y2="52.5" stroke="#333" stroke-width="0.9"/>
</g>
<path d="M-22.9 0.3C-27 6 -30.5 20 -31.8 36.9C-32.8 50 -32.2 62 -30.6 73.1 L0 73.1 L0 0.3Z" fill="#fff" stroke="none"/>
<path d="M-22.9 0.3C-25 3.5 -27.3 9 -28.6 14.6L0 14.6L0 0.3Z" fill="#e7e6e7" stroke="none"/>
<path d="M-22.9 0.3C-27 6 -30.5 20 -31.8 36.9C-32.8 50 -32.2 62 -30.6 73.1" fill="none" stroke="#161616" stroke-width="1.2"/>
<path d="M-19.5 0.8C-26.5 10 -30 30 -29.6 48C-29.4 56 -29 62 -28.4 67.1" fill="none" stroke="#444" stroke-width="0.8"/>
<path d="M-51.2 -15.1L-27.2 -15.1L-22.9 0.3L0 0.3" fill="none" stroke="#161616" stroke-width="2" stroke-linejoin="round"/>
<line x1="-51.2" y1="73.1" x2="0" y2="73.1" stroke="#161616" stroke-width="1.8"/>
<path d="M-26.8 15.2L-3 15.2Q-0.6 15.2 0 18.5" fill="none" stroke="#161616" stroke-width="1.5"/>
<line x1="-27.5" y1="12.7" x2="0" y2="12.7" stroke="#555" stroke-width="0.8"/>
<rect x="-22.9" y="19.2" width="8.5" height="30.4" fill="#fff" stroke="#161616" stroke-width="1.9"/>
<rect x="-22" y="19.8" width="6.7" height="2.8" fill="#161616" stroke="none" stroke-width="1"/>
<rect x="-22" y="46.4" width="6.7" height="2.8" fill="#161616" stroke="none" stroke-width="1"/>
<line x1="-9.3" y1="19.4" x2="-9.3" y2="49.6" stroke="#161616" stroke-width="1"/>
<line x1="-2.8" y1="19.4" x2="-2.8" y2="49.6" stroke="#161616" stroke-width="1"/>
<line x1="-14.4" y1="19.8" x2="-2.8" y2="19.8" stroke="#444" stroke-width="0.8"/>
<line x1="-9.3" y1="25.5" x2="-2.8" y2="25.5" stroke="#161616" stroke-width="0.9"/>
<line x1="-9.3" y1="43.4" x2="-2.8" y2="43.4" stroke="#161616" stroke-width="0.9"/>
<line x1="-26.5" y1="49.8" x2="0" y2="49.8" stroke="#161616" stroke-width="1.7"/>
<path d="M-22.9 51.6L-3.5 51.6Q-1 51.4 0 49.8" fill="none" stroke="#161616" stroke-width="0.9"/>
<rect x="-22.9" y="53.2" width="22.3" height="13.3" fill="#fff" stroke="#161616" stroke-width="1.3"/>
<line x1="-22.9" y1="69.1" x2="-0.6" y2="69.1" stroke="#555" stroke-width="0.8"/>
<rect x="-28.8" y="41.5" width="4" height="31.6" fill="#fff" stroke="#161616" stroke-width="1.2"/>
<line x1="-28.8" y1="66.6" x2="-24.8" y2="66.6" stroke="#161616" stroke-width="1"/>
</g>
</g>
<rect x="23.8" y="-50" width="38.7" height="38" fill="#fff" stroke="#161616" stroke-width="1.6"/>
<rect x="24.5" y="-50" width="37.3" height="2.4" fill="#8a8a8a" stroke="none" stroke-width="1"/>
<rect x="29.4" y="-55" width="28.6" height="5" fill="#fff" stroke="#161616" stroke-width="1.2"/>
<rect x="24.4" y="-60.6" width="37.5" height="5.6" fill="#fff" stroke="#161616" stroke-width="1.5" rx="1"/>
<line x1="28.3" y1="-47" x2="28.3" y2="-13" stroke="#888" stroke-width="0.6"/>
<line x1="58" y1="-47" x2="58" y2="-13" stroke="#888" stroke-width="0.6"/>
<rect x="64.4" y="-50" width="38.1" height="38" fill="#fff" stroke="#161616" stroke-width="1.6"/>
<rect x="65.1" y="-50" width="36.7" height="2.4" fill="#8a8a8a" stroke="none" stroke-width="1"/>
<rect x="70" y="-55" width="28" height="5" fill="#fff" stroke="#161616" stroke-width="1.2"/>
<rect x="65" y="-60.6" width="36.9" height="5.6" fill="#fff" stroke="#161616" stroke-width="1.5" rx="1"/>
<line x1="68.9" y1="-47" x2="68.9" y2="-13" stroke="#888" stroke-width="0.6"/>
<line x1="98" y1="-47" x2="98" y2="-13" stroke="#888" stroke-width="0.6"/>
<path d="M0 0L15 0L15 -12.5L111.9 -12.5L111.9 0L125.65 0L125.65 75L0 75Z" fill="#e7e6e7" stroke="none" stroke-width="1"/>
<path d="M0 0.3L15 0.3L15 -12.5L111.9 -12.5L111.9 0.3L125.65 0.3" fill="none" stroke="#161616" stroke-width="1.9"/>
<line x1="-0.5" y1="75" x2="126.2" y2="75" stroke="#161616" stroke-width="1.9"/>
<line x1="125.65" y1="0" x2="125.65" y2="75" stroke="#161616" stroke-width="1.2"/>
<path d="M29.4 -12.5L29.4 2L27.5 5L40 20.65L52 20.65L58.15 6.9L58.15 -12.5" fill="#fff" stroke="#161616" stroke-width="1.2"/>
<path d="M70 -12.5L70 6.9L75 20.65L87 20.65L100 5L98.15 2L98.15 -12.5" fill="#fff" stroke="#161616" stroke-width="1.2"/>
<rect x="31.3" y="-12.5" width="23.7" height="19.4" fill="#fff" stroke="#161616" stroke-width="1.3"/>
<rect x="72.5" y="-12.5" width="23.8" height="19.4" fill="#fff" stroke="#161616" stroke-width="1.3"/>
<line x1="33.2" y1="-12" x2="33.2" y2="6.5" stroke="#777" stroke-width="0.6"/>
<line x1="53.1" y1="-12" x2="53.1" y2="6.5" stroke="#777" stroke-width="0.6"/>
<line x1="74.4" y1="-12" x2="74.4" y2="6.5" stroke="#777" stroke-width="0.6"/>
<line x1="94.4" y1="-12" x2="94.4" y2="6.5" stroke="#777" stroke-width="0.6"/>
<circle cx="62.5" cy="15.65" r="1.7" fill="#161616"/>
<rect x="-0.5" y="24.4" width="123" height="21.25" fill="#fff" stroke="none" stroke-width="1"/>
<line x1="0" y1="24.4" x2="122.5" y2="24.4" stroke="#161616" stroke-width="1.1"/>
<line x1="0" y1="45.65" x2="122.5" y2="45.65" stroke="#161616" stroke-width="1.1"/>
<rect x="21.9" y="20" width="13.75" height="5" fill="#fff" stroke="none" stroke-width="1"/>
<path d="M21.9 24.4L21.9 20L35.65 20L35.65 24.4" fill="none" stroke="#161616" stroke-width="1.1"/>
<rect x="60.3" y="20" width="5.7" height="5" fill="#fff" stroke="none" stroke-width="1"/>
<path d="M60.3 24.4L60.3 20L66 20L66 24.4" fill="none" stroke="#161616" stroke-width="1.1"/>
<rect x="94.4" y="20" width="11.25" height="5" fill="#fff" stroke="none" stroke-width="1"/>
<path d="M94.4 24.4L94.4 20L105.65 20L105.65 24.4" fill="none" stroke="#161616" stroke-width="1.1"/>
<rect x="40.3" y="20" width="11.4" height="5" fill="#fff" stroke="none" stroke-width="1"/>
<rect x="75.3" y="20" width="11.4" height="5" fill="#fff" stroke="none" stroke-width="1"/>
<rect x="35" y="45" width="16.3" height="5" fill="#fff" stroke="none" stroke-width="1"/>
<path d="M35 45.65L35 50L51.3 50L51.3 45.65" fill="none" stroke="#161616" stroke-width="1.1"/>
<rect x="73.5" y="45" width="19.5" height="5" fill="#fff" stroke="none" stroke-width="1"/>
<path d="M73.5 45.65L73.5 50L93 50L93 45.65" fill="none" stroke="#161616" stroke-width="1.1"/>
<path d="M15.65 75L15.65 53.5L18.65 50L32 50L35 53.5L35 75" fill="#fff" stroke="#161616" stroke-width="1.3"/>
<line x1="18.65" y1="52" x2="18.65" y2="75" stroke="#161616" stroke-width="0.9"/>
<line x1="32" y1="52" x2="32" y2="75" stroke="#161616" stroke-width="0.9"/>
<line x1="21.65" y1="52" x2="21.65" y2="75" stroke="#161616" stroke-width="0.9"/>
<line x1="29" y1="52" x2="29" y2="75" stroke="#161616" stroke-width="0.9"/>
<path d="M53.8 75L53.8 53.5L56.8 50L70.15 50L73.15 53.5L73.15 75" fill="#fff" stroke="#161616" stroke-width="1.3"/>
<line x1="56.8" y1="52" x2="56.8" y2="75" stroke="#161616" stroke-width="0.9"/>
<line x1="70.15" y1="52" x2="70.15" y2="75" stroke="#161616" stroke-width="0.9"/>
<line x1="59.8" y1="52" x2="59.8" y2="75" stroke="#161616" stroke-width="0.9"/>
<line x1="67.15" y1="52" x2="67.15" y2="75" stroke="#161616" stroke-width="0.9"/>
<path d="M93.15 75L93.15 53.5L96.15 50L107.65 50L110.65 53.5L110.65 75" fill="#fff" stroke="#161616" stroke-width="1.3"/>
<line x1="96.15" y1="52" x2="96.15" y2="75" stroke="#161616" stroke-width="0.9"/>
<line x1="107.65" y1="52" x2="107.65" y2="75" stroke="#161616" stroke-width="0.9"/>
<line x1="99.15" y1="52" x2="99.15" y2="75" stroke="#161616" stroke-width="0.9"/>
<line x1="104.65" y1="52" x2="104.65" y2="75" stroke="#161616" stroke-width="0.9"/>
<rect x="58.5" y="45" width="10" height="5.5" fill="#fff" stroke="none" stroke-width="1"/>
<path d="M56.5 45.65L60.5 49.5L62 47.5L63.5 47.5L65 49.5L69 45.65" fill="none" stroke="#161616" stroke-width="1"/>
<circle cx="44.4" cy="59.4" r="6.25" fill="#fff" stroke="#161616" stroke-width="1.2"/>
<line x1="38.15" y1="59.4" x2="50.65" y2="59.4" stroke="#161616" stroke-width="0.9"/>
<line x1="44.4" y1="53.2" x2="44.4" y2="65.6" stroke="#161616" stroke-width="0.9"/>
<circle cx="82.5" cy="59.4" r="6.25" fill="#fff" stroke="#161616" stroke-width="1.2"/>
<line x1="76.25" y1="59.4" x2="88.75" y2="59.4" stroke="#161616" stroke-width="0.9"/>
<line x1="82.5" y1="53.2" x2="82.5" y2="65.6" stroke="#161616" stroke-width="0.9"/>
<rect x="-3" y="27.5" width="115" height="15" fill="#fff" stroke="#161616" stroke-width="1.2"/>
<line x1="-3" y1="31.3" x2="112" y2="31.3" stroke="#555" stroke-width="0.7"/>
<line x1="-3" y1="38.7" x2="112" y2="38.7" stroke="#555" stroke-width="0.7"/>
<rect x="3.2" y="25.3" width="2.6" height="2.8" fill="#161616" stroke="none" stroke-width="1"/>
<rect x="3.2" y="41.9" width="2.6" height="2.8" fill="#161616" stroke="none" stroke-width="1"/>
<rect x="8.8" y="25.3" width="2.6" height="2.8" fill="#161616" stroke="none" stroke-width="1"/>
<rect x="8.8" y="41.9" width="2.6" height="2.8" fill="#161616" stroke="none" stroke-width="1"/>
<rect x="28" y="25.3" width="2.6" height="2.8" fill="#161616" stroke="none" stroke-width="1"/>
<rect x="28" y="41.9" width="2.6" height="2.8" fill="#161616" stroke="none" stroke-width="1"/>
<rect x="53" y="25.3" width="2.6" height="2.8" fill="#161616" stroke="none" stroke-width="1"/>
<rect x="53" y="41.9" width="2.6" height="2.8" fill="#161616" stroke="none" stroke-width="1"/>
<rect x="62" y="25.3" width="2.6" height="2.8" fill="#161616" stroke="none" stroke-width="1"/>
<rect x="62" y="41.9" width="2.6" height="2.8" fill="#161616" stroke="none" stroke-width="1"/>
<rect x="87.5" y="25.3" width="2.6" height="2.8" fill="#161616" stroke="none" stroke-width="1"/>
<rect x="87.5" y="41.9" width="2.6" height="2.8" fill="#161616" stroke="none" stroke-width="1"/>
<rect x="112.5" y="25.3" width="2.6" height="2.8" fill="#161616" stroke="none" stroke-width="1"/>
<rect x="112.5" y="41.9" width="2.6" height="2.8" fill="#161616" stroke="none" stroke-width="1"/>
<line x1="-34" y1="35" x2="128" y2="35" stroke="#333" stroke-width="0.7"/>
<line x1="0" y1="0" x2="0" y2="75" stroke="#161616" stroke-width="1.1"/>
<rect x="114" y="29.5" width="5" height="2.6" fill="#fff" stroke="#161616" stroke-width="0.8"/>
<rect x="114" y="33.2" width="5" height="2.6" fill="#fff" stroke="#161616" stroke-width="0.8"/>
<rect x="114" y="36.9" width="5" height="2.6" fill="#fff" stroke="#161616" stroke-width="0.8"/>
<line x1="43.15" y1="-63.4" x2="43.15" y2="10" stroke="#161616" stroke-width="0.9"/>
<line x1="83.8" y1="-63.4" x2="83.8" y2="10" stroke="#161616" stroke-width="0.9"/>
<line x1="24.9" y1="47" x2="24.9" y2="78" stroke="#161616" stroke-width="0.9"/>
<line x1="62.5" y1="47" x2="62.5" y2="78" stroke="#161616" stroke-width="0.9"/>
<line x1="100.65" y1="47" x2="100.65" y2="78" stroke="#161616" stroke-width="0.9"/>
<text transform="translate(42.2 -68.2) scale(0.87 1)" font-family="'Liberation Sans',sans-serif" font-weight="bold" font-size="16.8" text-anchor="middle" fill="#161616">4</text>
<text transform="translate(83.4 -68.2) scale(0.87 1)" font-family="'Liberation Sans',sans-serif" font-weight="bold" font-size="16.8" text-anchor="middle" fill="#161616">2</text>
<text transform="translate(24.9 93.3) scale(0.92 1)" font-family="'Liberation Sans',sans-serif" font-weight="bold" font-size="16.2" text-anchor="middle" fill="#161616">5</text>
<text transform="translate(62.5 93.3) scale(0.92 1)" font-family="'Liberation Sans',sans-serif" font-weight="bold" font-size="16.2" text-anchor="middle" fill="#161616">1</text>
<text transform="translate(100.65 93.3) scale(0.92 1)" font-family="'Liberation Sans',sans-serif" font-weight="bold" font-size="16.2" text-anchor="middle" fill="#161616">3</text>
</g>
<line x1="268.26" y1="811.13" x2="281.9" y2="857.75" stroke="#161616" stroke-width="1"/>
<circle cx="265" cy="800" r="11.6" fill="#fff" stroke="#161616" stroke-width="1.3"/>
<text transform="translate(265 806.5) scale(0.93 1)" font-family="'Liberation Sans',sans-serif" font-weight="bold" font-size="18" text-anchor="middle" fill="#161616">6</text>
<line x1="313.3" y1="810.92" x2="333.15" y2="866.5" stroke="#161616" stroke-width="1"/>
<circle cx="309.4" cy="800" r="11.6" fill="#fff" stroke="#161616" stroke-width="1.3"/>
<text transform="translate(309.4 806.5) scale(0.93 1)" font-family="'Liberation Sans',sans-serif" font-weight="bold" font-size="18" text-anchor="middle" fill="#161616">5</text>
<line x1="343.61" y1="811.5" x2="355.4" y2="901.5" stroke="#161616" stroke-width="1"/>
<circle cx="342.1" cy="800" r="11.6" fill="#fff" stroke="#161616" stroke-width="1.3"/>
<text transform="translate(342.1 806.5) scale(0.93 1)" font-family="'Liberation Sans',sans-serif" font-weight="bold" font-size="18" text-anchor="middle" fill="#161616">4</text>
<line x1="377.32" y1="811.37" x2="390" y2="873.5" stroke="#161616" stroke-width="1"/>
<circle cx="375" cy="800" r="11.6" fill="#fff" stroke="#161616" stroke-width="1.3"/>
<text transform="translate(375 806.5) scale(0.93 1)" font-family="'Liberation Sans',sans-serif" font-weight="bold" font-size="18" text-anchor="middle" fill="#161616">1</text>
<line x1="487.38" y1="811.3" x2="466.25" y2="902.5" stroke="#161616" stroke-width="1"/>
<circle cx="490" cy="800" r="11.6" fill="#fff" stroke="#161616" stroke-width="1.3"/>
<text transform="translate(490 806.5) scale(0.93 1)" font-family="'Liberation Sans',sans-serif" font-weight="bold" font-size="18" text-anchor="middle" fill="#161616">2</text>
<g transform="translate(351.25 1290.1)">
<g transform="translate(-122.5 -28.5)">
<path d="M13.6 62.75L16.3 66.5L16.3 81.5L19.4 84L19.4 101.5L71.3 101.5L71.3 62.75" fill="#fff" stroke="#161616" stroke-width="1.7"/>
<path d="M1.6 0L67.5 0L70.65 3.4L70.65 62.75L0 62.75L0 1.6Q0 0 1.6 0Z" fill="#fff" stroke="#161616" stroke-width="1.8" stroke-linejoin="round"/>
<line x1="19.4" y1="0" x2="19.4" y2="101.5" stroke="#161616" stroke-width="1.5"/>
<line x1="71.3" y1="13" x2="71.3" y2="101.5" stroke="#161616" stroke-width="1.6"/>
<rect x="19.4" y="77.1" width="11.25" height="11.3" fill="none" stroke="#161616" stroke-width="1.4"/>
<path d="M28.2 78.5Q26.2 82.7 28.2 87" fill="none" stroke="#161616" stroke-width="1.2"/>
<rect x="23.8" y="66.5" width="41.85" height="5" fill="#fff" stroke="#161616" stroke-width="1.5"/>
<rect x="41.3" y="71.8" width="7.5" height="2.8" fill="none" stroke="#777" stroke-width="0.8"/>
<path d="M0 42.75L-31.6 42.75L-31.6 64.6L-3.1 64.6L0 62.75" fill="#fff" stroke="#161616" stroke-width="1.6"/>
<line x1="-18.7" y1="42.75" x2="-18.7" y2="64.6" stroke="#555" stroke-width="0.9"/>
<line x1="-31.6" y1="57.75" x2="-18.7" y2="57.75" stroke="#161616" stroke-width="1.5"/>
<path d="M-31.4 39.9Q-34.9 39.3 -34.9 43L-34.9 64.4Q-34.9 68.1 -31.4 67.5" fill="#fff" stroke="#161616" stroke-width="1.9" stroke-linecap="round"/>
<line x1="-31.6" y1="40" x2="-31.6" y2="67.4" stroke="#444" stroke-width="0.9"/>
<path d="M-34.6 42.75L-37.6 42.75L-37.6 57.75L-34.6 57.75" fill="none" stroke="#161616" stroke-width="1.3"/>
<line x1="-67.7" y1="52.4" x2="-63" y2="52.4" stroke="#555" stroke-width="1.2"/>
<path d="M-64.8 52.4L-63.6 50.9L-55 50.9L-55 53.9L-63.6 53.9Z" fill="#8a8a8a" stroke="#222" stroke-width="1"/>
<rect x="-55" y="49.6" width="6.6" height="5.8" fill="#fff" stroke="#161616" stroke-width="1.4"/>
<line x1="-55" y1="52.5" x2="-48.4" y2="52.5" stroke="#333" stroke-width="0.9"/>
<line x1="-48.4" y1="52.4" x2="-45.8" y2="52.4" stroke="#161616" stroke-width="1"/>
<rect x="-45.8" y="49.6" width="7.8" height="5.8" fill="#fff" stroke="#161616" stroke-width="1.4"/>
<line x1="-45.8" y1="52.5" x2="-38" y2="52.5" stroke="#333" stroke-width="0.9"/>
</g>
<path d="M-22.9 0.3C-27 6 -30.5 20 -31.8 36.9C-32.8 50 -32.2 62 -30.6 73.1 L0 73.1 L0 0.3Z" fill="#fff" stroke="none"/>
<path d="M-22.9 0.3C-25 3.5 -27.3 9 -28.6 14.6L0 14.6L0 0.3Z" fill="#e7e6e7" stroke="none"/>
<path d="M-22.9 0.3C-27 6 -30.5 20 -31.8 36.9C-32.8 50 -32.2 62 -30.6 73.1" fill="none" stroke="#161616" stroke-width="1.2"/>
<path d="M-19.5 0.8C-26.5 10 -30 30 -29.6 48C-29.4 56 -29 62 -28.4 67.1" fill="none" stroke="#444" stroke-width="0.8"/>
<path d="M-51.2 -15.1L-27.2 -15.1L-22.9 0.3L0 0.3" fill="none" stroke="#161616" stroke-width="2" stroke-linejoin="round"/>
<line x1="-51.2" y1="73.1" x2="0" y2="73.1" stroke="#161616" stroke-width="1.8"/>
<path d="M-26.8 15.2L-3 15.2Q-0.6 15.2 0 18.5" fill="none" stroke="#161616" stroke-width="1.5"/>
<line x1="-27.5" y1="12.7" x2="0" y2="12.7" stroke="#555" stroke-width="0.8"/>
<rect x="-22.9" y="19.2" width="8.5" height="30.4" fill="#fff" stroke="#161616" stroke-width="1.9"/>
<rect x="-22" y="19.8" width="6.7" height="2.8" fill="#161616" stroke="none" stroke-width="1"/>
<rect x="-22" y="46.4" width="6.7" height="2.8" fill="#161616" stroke="none" stroke-width="1"/>
<line x1="-9.3" y1="19.4" x2="-9.3" y2="49.6" stroke="#161616" stroke-width="1"/>
<line x1="-2.8" y1="19.4" x2="-2.8" y2="49.6" stroke="#161616" stroke-width="1"/>
<line x1="-14.4" y1="19.8" x2="-2.8" y2="19.8" stroke="#444" stroke-width="0.8"/>
<line x1="-9.3" y1="25.5" x2="-2.8" y2="25.5" stroke="#161616" stroke-width="0.9"/>
<line x1="-9.3" y1="43.4" x2="-2.8" y2="43.4" stroke="#161616" stroke-width="0.9"/>
<line x1="-26.5" y1="49.8" x2="0" y2="49.8" stroke="#161616" stroke-width="1.7"/>
<path d="M-22.9 51.6L-3.5 51.6Q-1 51.4 0 49.8" fill="none" stroke="#161616" stroke-width="0.9"/>
<rect x="-22.9" y="53.2" width="22.3" height="13.3" fill="#fff" stroke="#161616" stroke-width="1.3"/>
<line x1="-22.9" y1="69.1" x2="-0.6" y2="69.1" stroke="#555" stroke-width="0.8"/>
<rect x="-28.8" y="41.5" width="4" height="31.6" fill="#fff" stroke="#161616" stroke-width="1.2"/>
<line x1="-28.8" y1="66.6" x2="-24.8" y2="66.6" stroke="#161616" stroke-width="1"/>
<g transform="translate(125.65 0)">
<rect x="0" y="0.3" width="32.5" height="72.8" fill="#e7e6e7" stroke="#161616" stroke-width="1.2"/>
<rect x="0.5" y="17.5" width="30" height="32.5" fill="#fff" stroke="#161616" stroke-width="1.1"/>
<rect x="4" y="20.5" width="19" height="26.5" fill="#fff" stroke="#161616" stroke-width="1.1"/>
<rect x="5.5" y="20.8" width="16" height="3.2" fill="#161616" stroke="none" stroke-width="1"/>
<rect x="5.5" y="43.6" width="16" height="3.2" fill="#161616" stroke="none" stroke-width="1"/>
<rect x="9" y="24" width="9" height="19.6" fill="#fff" stroke="#161616" stroke-width="0.9"/>
<rect x="23" y="29" width="4.5" height="10.5" fill="#fff" stroke="#161616" stroke-width="1"/>
<rect x="27.5" y="31.5" width="3" height="5.5" fill="#fff" stroke="#161616" stroke-width="0.9"/>
<rect x="0.5" y="52.5" width="30" height="19.1" fill="#fff" stroke="#161616" stroke-width="1.1"/>
<rect x="0.3" y="3" width="2.3" height="5.5" fill="#fff" stroke="#161616" stroke-width="0.8"/>
<rect x="0.3" y="60" width="2.3" height="5" fill="#fff" stroke="#161616" stroke-width="0.8"/>
</g>
<g transform="translate(158.15 0)">
<g transform="scale(-1 1)">
<g transform="translate(-122.5 -28.5)">
<path d="M13.6 62.75L16.3 66.5L16.3 81.5L19.4 84L19.4 101.5L71.3 101.5L71.3 62.75" fill="#fff" stroke="#161616" stroke-width="1.7"/>
<path d="M1.6 0L67.5 0L70.65 3.4L70.65 62.75L0 62.75L0 1.6Q0 0 1.6 0Z" fill="#fff" stroke="#161616" stroke-width="1.8" stroke-linejoin="round"/>
<line x1="19.4" y1="0" x2="19.4" y2="101.5" stroke="#161616" stroke-width="1.5"/>
<line x1="71.3" y1="13" x2="71.3" y2="101.5" stroke="#161616" stroke-width="1.6"/>
<rect x="19.4" y="77.1" width="11.25" height="11.3" fill="none" stroke="#161616" stroke-width="1.4"/>
<path d="M28.2 78.5Q26.2 82.7 28.2 87" fill="none" stroke="#161616" stroke-width="1.2"/>
<rect x="23.8" y="66.5" width="41.85" height="5" fill="#fff" stroke="#161616" stroke-width="1.5"/>
<rect x="41.3" y="71.8" width="7.5" height="2.8" fill="none" stroke="#777" stroke-width="0.8"/>
<path d="M0 42.75L-31.6 42.75L-31.6 64.6L-3.1 64.6L0 62.75" fill="#fff" stroke="#161616" stroke-width="1.6"/>
<line x1="-18.7" y1="42.75" x2="-18.7" y2="64.6" stroke="#555" stroke-width="0.9"/>
<line x1="-31.6" y1="57.75" x2="-18.7" y2="57.75" stroke="#161616" stroke-width="1.5"/>
<path d="M-31.4 39.9Q-34.9 39.3 -34.9 43L-34.9 64.4Q-34.9 68.1 -31.4 67.5" fill="#fff" stroke="#161616" stroke-width="1.9" stroke-linecap="round"/>
<line x1="-31.6" y1="40" x2="-31.6" y2="67.4" stroke="#444" stroke-width="0.9"/>
<path d="M-34.6 42.75L-37.6 42.75L-37.6 57.75L-34.6 57.75" fill="none" stroke="#161616" stroke-width="1.3"/>
<line x1="-67.7" y1="52.4" x2="-63" y2="52.4" stroke="#555" stroke-width="1.2"/>
<path d="M-64.8 52.4L-63.6 50.9L-55 50.9L-55 53.9L-63.6 53.9Z" fill="#8a8a8a" stroke="#222" stroke-width="1"/>
<rect x="-55" y="49.6" width="6.6" height="5.8" fill="#fff" stroke="#161616" stroke-width="1.4"/>
<line x1="-55" y1="52.5" x2="-48.4" y2="52.5" stroke="#333" stroke-width="0.9"/>
<line x1="-48.4" y1="52.4" x2="-45.8" y2="52.4" stroke="#161616" stroke-width="1"/>
<rect x="-45.8" y="49.6" width="7.8" height="5.8" fill="#fff" stroke="#161616" stroke-width="1.4"/>
<line x1="-45.8" y1="52.5" x2="-38" y2="52.5" stroke="#333" stroke-width="0.9"/>
</g>
<path d="M-22.9 0.3C-27 6 -30.5 20 -31.8 36.9C-32.8 50 -32.2 62 -30.6 73.1 L0 73.1 L0 0.3Z" fill="#fff" stroke="none"/>
<path d="M-22.9 0.3C-25 3.5 -27.3 9 -28.6 14.6L0 14.6L0 0.3Z" fill="#e7e6e7" stroke="none"/>
<path d="M-22.9 0.3C-27 6 -30.5 20 -31.8 36.9C-32.8 50 -32.2 62 -30.6 73.1" fill="none" stroke="#161616" stroke-width="1.2"/>
<path d="M-19.5 0.8C-26.5 10 -30 30 -29.6 48C-29.4 56 -29 62 -28.4 67.1" fill="none" stroke="#444" stroke-width="0.8"/>
<path d="M-51.2 -15.1L-27.2 -15.1L-22.9 0.3L0 0.3" fill="none" stroke="#161616" stroke-width="2" stroke-linejoin="round"/>
<line x1="-51.2" y1="73.1" x2="0" y2="73.1" stroke="#161616" stroke-width="1.8"/>
<path d="M-26.8 15.2L-3 15.2Q-0.6 15.2 0 18.5" fill="none" stroke="#161616" stroke-width="1.5"/>
<line x1="-27.5" y1="12.7" x2="0" y2="12.7" stroke="#555" stroke-width="0.8"/>
<rect x="-22.9" y="19.2" width="8.5" height="30.4" fill="#fff" stroke="#161616" stroke-width="1.9"/>
<rect x="-22" y="19.8" width="6.7" height="2.8" fill="#161616" stroke="none" stroke-width="1"/>
<rect x="-22" y="46.4" width="6.7" height="2.8" fill="#161616" stroke="none" stroke-width="1"/>
<line x1="-9.3" y1="19.4" x2="-9.3" y2="49.6" stroke="#161616" stroke-width="1"/>
<line x1="-2.8" y1="19.4" x2="-2.8" y2="49.6" stroke="#161616" stroke-width="1"/>
<line x1="-14.4" y1="19.8" x2="-2.8" y2="19.8" stroke="#444" stroke-width="0.8"/>
<line x1="-9.3" y1="25.5" x2="-2.8" y2="25.5" stroke="#161616" stroke-width="0.9"/>
<line x1="-9.3" y1="43.4" x2="-2.8" y2="43.4" stroke="#161616" stroke-width="0.9"/>
<line x1="-26.5" y1="49.8" x2="0" y2="49.8" stroke="#161616" stroke-width="1.7"/>
<path d="M-22.9 51.6L-3.5 51.6Q-1 51.4 0 49.8" fill="none" stroke="#161616" stroke-width="0.9"/>
<rect x="-22.9" y="53.2" width="22.3" height="13.3" fill="#fff" stroke="#161616" stroke-width="1.3"/>
<line x1="-22.9" y1="69.1" x2="-0.6" y2="69.1" stroke="#555" stroke-width="0.8"/>
<rect x="-28.8" y="41.5" width="4" height="31.6" fill="#fff" stroke="#161616" stroke-width="1.2"/>
<line x1="-28.8" y1="66.6" x2="-24.8" y2="66.6" stroke="#161616" stroke-width="1"/>
</g>
</g>
<rect x="23.8" y="-50" width="38.7" height="38" fill="#fff" stroke="#161616" stroke-width="1.6"/>
<rect x="24.5" y="-50" width="37.3" height="2.4" fill="#8a8a8a" stroke="none" stroke-width="1"/>
<rect x="29.4" y="-55" width="28.6" height="5" fill="#fff" stroke="#161616" stroke-width="1.2"/>
<rect x="24.4" y="-60.6" width="37.5" height="5.6" fill="#fff" stroke="#161616" stroke-width="1.5" rx="1"/>
<line x1="28.3" y1="-47" x2="28.3" y2="-13" stroke="#888" stroke-width="0.6"/>
<line x1="58" y1="-47" x2="58" y2="-13" stroke="#888" stroke-width="0.6"/>
<rect x="64.4" y="-50" width="38.1" height="38" fill="#fff" stroke="#161616" stroke-width="1.6"/>
<rect x="65.1" y="-50" width="36.7" height="2.4" fill="#8a8a8a" stroke="none" stroke-width="1"/>
<rect x="70" y="-55" width="28" height="5" fill="#fff" stroke="#161616" stroke-width="1.2"/>
<rect x="65" y="-60.6" width="36.9" height="5.6" fill="#fff" stroke="#161616" stroke-width="1.5" rx="1"/>
<line x1="68.9" y1="-47" x2="68.9" y2="-13" stroke="#888" stroke-width="0.6"/>
<line x1="98" y1="-47" x2="98" y2="-13" stroke="#888" stroke-width="0.6"/>
<path d="M0 0L15 0L15 -12.5L111.9 -12.5L111.9 0L125.65 0L125.65 75L0 75Z" fill="#e7e6e7" stroke="none" stroke-width="1"/>
<path d="M0 0.3L15 0.3L15 -12.5L111.9 -12.5L111.9 0.3L125.65 0.3" fill="none" stroke="#161616" stroke-width="1.9"/>
<line x1="-0.5" y1="75" x2="126.2" y2="75" stroke="#161616" stroke-width="1.9"/>
<line x1="125.65" y1="0" x2="125.65" y2="75" stroke="#161616" stroke-width="1.2"/>
<path d="M29.4 -12.5L29.4 2L27.5 5L40 20.65L52 20.65L58.15 6.9L58.15 -12.5" fill="#fff" stroke="#161616" stroke-width="1.2"/>
<path d="M70 -12.5L70 6.9L75 20.65L87 20.65L100 5L98.15 2L98.15 -12.5" fill="#fff" stroke="#161616" stroke-width="1.2"/>
<rect x="31.3" y="-12.5" width="23.7" height="19.4" fill="#fff" stroke="#161616" stroke-width="1.3"/>
<rect x="72.5" y="-12.5" width="23.8" height="19.4" fill="#fff" stroke="#161616" stroke-width="1.3"/>
<line x1="33.2" y1="-12" x2="33.2" y2="6.5" stroke="#777" stroke-width="0.6"/>
<line x1="53.1" y1="-12" x2="53.1" y2="6.5" stroke="#777" stroke-width="0.6"/>
<line x1="74.4" y1="-12" x2="74.4" y2="6.5" stroke="#777" stroke-width="0.6"/>
<line x1="94.4" y1="-12" x2="94.4" y2="6.5" stroke="#777" stroke-width="0.6"/>
<circle cx="62.5" cy="15.65" r="1.7" fill="#161616"/>
<rect x="-0.5" y="24.4" width="123" height="21.25" fill="#fff" stroke="none" stroke-width="1"/>
<line x1="0" y1="24.4" x2="122.5" y2="24.4" stroke="#161616" stroke-width="1.1"/>
<line x1="0" y1="45.65" x2="122.5" y2="45.65" stroke="#161616" stroke-width="1.1"/>
<rect x="21.9" y="20" width="13.75" height="5" fill="#fff" stroke="none" stroke-width="1"/>
<path d="M21.9 24.4L21.9 20L35.65 20L35.65 24.4" fill="none" stroke="#161616" stroke-width="1.1"/>
<rect x="60.3" y="20" width="5.7" height="5" fill="#fff" stroke="none" stroke-width="1"/>
<path d="M60.3 24.4L60.3 20L66 20L66 24.4" fill="none" stroke="#161616" stroke-width="1.1"/>
<rect x="94.4" y="20" width="11.25" height="5" fill="#fff" stroke="none" stroke-width="1"/>
<path d="M94.4 24.4L94.4 20L105.65 20L105.65 24.4" fill="none" stroke="#161616" stroke-width="1.1"/>
<rect x="40.3" y="20" width="11.4" height="5" fill="#fff" stroke="none" stroke-width="1"/>
<rect x="75.3" y="20" width="11.4" height="5" fill="#fff" stroke="none" stroke-width="1"/>
<rect x="35" y="45" width="16.3" height="5" fill="#fff" stroke="none" stroke-width="1"/>
<path d="M35 45.65L35 50L51.3 50L51.3 45.65" fill="none" stroke="#161616" stroke-width="1.1"/>
<rect x="73.5" y="45" width="19.5" height="5" fill="#fff" stroke="none" stroke-width="1"/>
<path d="M73.5 45.65L73.5 50L93 50L93 45.65" fill="none" stroke="#161616" stroke-width="1.1"/>
<path d="M15.65 75L15.65 53.5L18.65 50L32 50L35 53.5L35 75" fill="#fff" stroke="#161616" stroke-width="1.3"/>
<line x1="18.65" y1="52" x2="18.65" y2="75" stroke="#161616" stroke-width="0.9"/>
<line x1="32" y1="52" x2="32" y2="75" stroke="#161616" stroke-width="0.9"/>
<line x1="21.65" y1="52" x2="21.65" y2="75" stroke="#161616" stroke-width="0.9"/>
<line x1="29" y1="52" x2="29" y2="75" stroke="#161616" stroke-width="0.9"/>
<path d="M53.8 75L53.8 53.5L56.8 50L70.15 50L73.15 53.5L73.15 75" fill="#fff" stroke="#161616" stroke-width="1.3"/>
<line x1="56.8" y1="52" x2="56.8" y2="75" stroke="#161616" stroke-width="0.9"/>
<line x1="70.15" y1="52" x2="70.15" y2="75" stroke="#161616" stroke-width="0.9"/>
<line x1="59.8" y1="52" x2="59.8" y2="75" stroke="#161616" stroke-width="0.9"/>
<line x1="67.15" y1="52" x2="67.15" y2="75" stroke="#161616" stroke-width="0.9"/>
<path d="M93.15 75L93.15 53.5L96.15 50L107.65 50L110.65 53.5L110.65 75" fill="#fff" stroke="#161616" stroke-width="1.3"/>
<line x1="96.15" y1="52" x2="96.15" y2="75" stroke="#161616" stroke-width="0.9"/>
<line x1="107.65" y1="52" x2="107.65" y2="75" stroke="#161616" stroke-width="0.9"/>
<line x1="99.15" y1="52" x2="99.15" y2="75" stroke="#161616" stroke-width="0.9"/>
<line x1="104.65" y1="52" x2="104.65" y2="75" stroke="#161616" stroke-width="0.9"/>
<rect x="58.5" y="45" width="10" height="5.5" fill="#fff" stroke="none" stroke-width="1"/>
<path d="M56.5 45.65L60.5 49.5L62 47.5L63.5 47.5L65 49.5L69 45.65" fill="none" stroke="#161616" stroke-width="1"/>
<circle cx="44.4" cy="59.4" r="6.25" fill="#fff" stroke="#161616" stroke-width="1.2"/>
<line x1="38.15" y1="59.4" x2="50.65" y2="59.4" stroke="#161616" stroke-width="0.9"/>
<line x1="44.4" y1="53.2" x2="44.4" y2="65.6" stroke="#161616" stroke-width="0.9"/>
<circle cx="82.5" cy="59.4" r="6.25" fill="#fff" stroke="#161616" stroke-width="1.2"/>
<line x1="76.25" y1="59.4" x2="88.75" y2="59.4" stroke="#161616" stroke-width="0.9"/>
<line x1="82.5" y1="53.2" x2="82.5" y2="65.6" stroke="#161616" stroke-width="0.9"/>
<rect x="-3" y="27.5" width="115" height="15" fill="#fff" stroke="#161616" stroke-width="1.2"/>
<line x1="-3" y1="31.3" x2="112" y2="31.3" stroke="#555" stroke-width="0.7"/>
<line x1="-3" y1="38.7" x2="112" y2="38.7" stroke="#555" stroke-width="0.7"/>
<rect x="3.2" y="25.3" width="2.6" height="2.8" fill="#161616" stroke="none" stroke-width="1"/>
<rect x="3.2" y="41.9" width="2.6" height="2.8" fill="#161616" stroke="none" stroke-width="1"/>
<rect x="8.8" y="25.3" width="2.6" height="2.8" fill="#161616" stroke="none" stroke-width="1"/>
<rect x="8.8" y="41.9" width="2.6" height="2.8" fill="#161616" stroke="none" stroke-width="1"/>
<rect x="28" y="25.3" width="2.6" height="2.8" fill="#161616" stroke="none" stroke-width="1"/>
<rect x="28" y="41.9" width="2.6" height="2.8" fill="#161616" stroke="none" stroke-width="1"/>
<rect x="53" y="25.3" width="2.6" height="2.8" fill="#161616" stroke="none" stroke-width="1"/>
<rect x="53" y="41.9" width="2.6" height="2.8" fill="#161616" stroke="none" stroke-width="1"/>
<rect x="62" y="25.3" width="2.6" height="2.8" fill="#161616" stroke="none" stroke-width="1"/>
<rect x="62" y="41.9" width="2.6" height="2.8" fill="#161616" stroke="none" stroke-width="1"/>
<rect x="87.5" y="25.3" width="2.6" height="2.8" fill="#161616" stroke="none" stroke-width="1"/>
<rect x="87.5" y="41.9" width="2.6" height="2.8" fill="#161616" stroke="none" stroke-width="1"/>
<rect x="112.5" y="25.3" width="2.6" height="2.8" fill="#161616" stroke="none" stroke-width="1"/>
<rect x="112.5" y="41.9" width="2.6" height="2.8" fill="#161616" stroke="none" stroke-width="1"/>
<line x1="-34" y1="35" x2="128" y2="35" stroke="#333" stroke-width="0.7"/>
<line x1="0" y1="0" x2="0" y2="75" stroke="#161616" stroke-width="1.1"/>
<rect x="114" y="29.5" width="5" height="2.6" fill="#fff" stroke="#161616" stroke-width="0.8"/>
<rect x="114" y="33.2" width="5" height="2.6" fill="#fff" stroke="#161616" stroke-width="0.8"/>
<rect x="114" y="36.9" width="5" height="2.6" fill="#fff" stroke="#161616" stroke-width="0.8"/>
<line x1="43.15" y1="-63.4" x2="43.15" y2="10" stroke="#161616" stroke-width="0.9"/>
<line x1="83.8" y1="-63.4" x2="83.8" y2="10" stroke="#161616" stroke-width="0.9"/>
<line x1="24.9" y1="47" x2="24.9" y2="78" stroke="#161616" stroke-width="0.9"/>
<line x1="62.5" y1="47" x2="62.5" y2="78" stroke="#161616" stroke-width="0.9"/>
<line x1="100.65" y1="47" x2="100.65" y2="78" stroke="#161616" stroke-width="0.9"/>
<text transform="translate(42.2 -68.2) scale(0.87 1)" font-family="'Liberation Sans',sans-serif" font-weight="bold" font-size="16.8" text-anchor="middle" fill="#161616">4</text>
<text transform="translate(83.4 -68.2) scale(0.87 1)" font-family="'Liberation Sans',sans-serif" font-weight="bold" font-size="16.8" text-anchor="middle" fill="#161616">2</text>
<text transform="translate(24.9 93.3) scale(0.92 1)" font-family="'Liberation Sans',sans-serif" font-weight="bold" font-size="16.2" text-anchor="middle" fill="#161616">5</text>
<text transform="translate(62.5 93.3) scale(0.92 1)" font-family="'Liberation Sans',sans-serif" font-weight="bold" font-size="16.2" text-anchor="middle" fill="#161616">1</text>
<text transform="translate(100.65 93.3) scale(0.92 1)" font-family="'Liberation Sans',sans-serif" font-weight="bold" font-size="16.2" text-anchor="middle" fill="#161616">3</text>
</g>
<line x1="254.03" y1="1226.26" x2="265.65" y2="1273.25" stroke="#161616" stroke-width="1"/>
<circle cx="251.25" cy="1215" r="11.6" fill="#fff" stroke="#161616" stroke-width="1.3"/>
<text transform="translate(251.25 1221.5) scale(0.93 1)" font-family="'Liberation Sans',sans-serif" font-weight="bold" font-size="18" text-anchor="middle" fill="#161616">6</text>
<line x1="296.04" y1="1225.87" x2="316.9" y2="1282" stroke="#161616" stroke-width="1"/>
<circle cx="292" cy="1215" r="11.6" fill="#fff" stroke="#161616" stroke-width="1.3"/>
<text transform="translate(292 1221.5) scale(0.93 1)" font-family="'Liberation Sans',sans-serif" font-weight="bold" font-size="18" text-anchor="middle" fill="#161616">5</text>
<line x1="326.59" y1="1226.49" x2="339.15" y2="1317" stroke="#161616" stroke-width="1"/>
<circle cx="325" cy="1215" r="11.6" fill="#fff" stroke="#161616" stroke-width="1.3"/>
<text transform="translate(325 1221.5) scale(0.93 1)" font-family="'Liberation Sans',sans-serif" font-weight="bold" font-size="18" text-anchor="middle" fill="#161616">4</text>
<line x1="360.41" y1="1226.35" x2="373.75" y2="1289" stroke="#161616" stroke-width="1"/>
<circle cx="358" cy="1215" r="11.6" fill="#fff" stroke="#161616" stroke-width="1.3"/>
<text transform="translate(358 1221.5) scale(0.93 1)" font-family="'Liberation Sans',sans-serif" font-weight="bold" font-size="18" text-anchor="middle" fill="#161616">1</text>
<line x1="473.28" y1="1226.21" x2="448.75" y2="1318.75" stroke="#161616" stroke-width="1"/>
<circle cx="476.25" cy="1215" r="11.6" fill="#fff" stroke="#161616" stroke-width="1.3"/>
<text transform="translate(476.25 1221.5) scale(0.93 1)" font-family="'Liberation Sans',sans-serif" font-weight="bold" font-size="18" text-anchor="middle" fill="#161616">2</text>
<g transform="translate(980.6 463.75)">
<g transform="translate(-122.5 -28.5)">
<path d="M13.6 62.75L16.3 66.5L16.3 81.5L19.4 84L19.4 101.5L71.3 101.5L71.3 62.75" fill="#fff" stroke="#161616" stroke-width="1.7"/>
<path d="M1.6 0L67.5 0L70.65 3.4L70.65 62.75L0 62.75L0 1.6Q0 0 1.6 0Z" fill="#fff" stroke="#161616" stroke-width="1.8" stroke-linejoin="round"/>
<line x1="19.4" y1="0" x2="19.4" y2="101.5" stroke="#161616" stroke-width="1.5"/>
<line x1="71.3" y1="13" x2="71.3" y2="101.5" stroke="#161616" stroke-width="1.6"/>
<rect x="19.4" y="77.1" width="11.25" height="11.3" fill="none" stroke="#161616" stroke-width="1.4"/>
<path d="M28.2 78.5Q26.2 82.7 28.2 87" fill="none" stroke="#161616" stroke-width="1.2"/>
<rect x="23.8" y="66.5" width="41.85" height="5" fill="#fff" stroke="#161616" stroke-width="1.5"/>
<rect x="41.3" y="71.8" width="7.5" height="2.8" fill="none" stroke="#777" stroke-width="0.8"/>
<path d="M0 42.75L-31.6 42.75L-31.6 64.6L-3.1 64.6L0 62.75" fill="#fff" stroke="#161616" stroke-width="1.6"/>
<line x1="-18.7" y1="42.75" x2="-18.7" y2="64.6" stroke="#555" stroke-width="0.9"/>
<line x1="-31.6" y1="57.75" x2="-18.7" y2="57.75" stroke="#161616" stroke-width="1.5"/>
<path d="M-31.4 39.9Q-34.9 39.3 -34.9 43L-34.9 64.4Q-34.9 68.1 -31.4 67.5" fill="#fff" stroke="#161616" stroke-width="1.9" stroke-linecap="round"/>
<line x1="-31.6" y1="40" x2="-31.6" y2="67.4" stroke="#444" stroke-width="0.9"/>
<path d="M-34.6 42.75L-37.6 42.75L-37.6 57.75L-34.6 57.75" fill="none" stroke="#161616" stroke-width="1.3"/>
<line x1="-67.7" y1="52.4" x2="-63" y2="52.4" stroke="#555" stroke-width="1.2"/>
<path d="M-64.8 52.4L-63.6 50.9L-55 50.9L-55 53.9L-63.6 53.9Z" fill="#8a8a8a" stroke="#222" stroke-width="1"/>
<rect x="-55" y="49.6" width="6.6" height="5.8" fill="#fff" stroke="#161616" stroke-width="1.4"/>
<line x1="-55" y1="52.5" x2="-48.4" y2="52.5" stroke="#333" stroke-width="0.9"/>
<line x1="-48.4" y1="52.4" x2="-45.8" y2="52.4" stroke="#161616" stroke-width="1"/>
<rect x="-45.8" y="49.6" width="7.8" height="5.8" fill="#fff" stroke="#161616" stroke-width="1.4"/>
<line x1="-45.8" y1="52.5" x2="-38" y2="52.5" stroke="#333" stroke-width="0.9"/>
</g>
<path d="M-22.9 0.3C-27 6 -30.5 20 -31.8 36.9C-32.8 50 -32.2 62 -30.6 70.6 L0 70.6 L0 0.3Z" fill="#fff" stroke="none"/>
<path d="M-22.9 0.3C-25 3.5 -27.3 9 -28.6 14.6L0 14.6L0 0.3Z" fill="#e7e6e7" stroke="none"/>
<path d="M-22.9 0.3C-27 6 -30.5 20 -31.8 36.9C-32.8 50 -32.2 62 -30.6 70.6" fill="none" stroke="#161616" stroke-width="1.2"/>
<path d="M-19.5 0.8C-26.5 10 -30 30 -29.6 48C-29.4 56 -29 62 -28.4 64.6" fill="none" stroke="#444" stroke-width="0.8"/>
<path d="M-51.2 -15.1L-27.2 -15.1L-22.9 0.3L0 0.3" fill="none" stroke="#161616" stroke-width="2" stroke-linejoin="round"/>
<line x1="-51.2" y1="70.6" x2="0" y2="70.6" stroke="#161616" stroke-width="1.8"/>
<path d="M-26.8 15.2L-3 15.2Q-0.6 15.2 0 18.5" fill="none" stroke="#161616" stroke-width="1.5"/>
<line x1="-27.5" y1="12.7" x2="0" y2="12.7" stroke="#555" stroke-width="0.8"/>
<rect x="-22.9" y="19.2" width="8.5" height="30.4" fill="#fff" stroke="#161616" stroke-width="1.9"/>
<rect x="-22" y="19.8" width="6.7" height="2.8" fill="#161616" stroke="none" stroke-width="1"/>
<rect x="-22" y="46.4" width="6.7" height="2.8" fill="#161616" stroke="none" stroke-width="1"/>
<line x1="-9.3" y1="19.4" x2="-9.3" y2="49.6" stroke="#161616" stroke-width="1"/>
<line x1="-2.8" y1="19.4" x2="-2.8" y2="49.6" stroke="#161616" stroke-width="1"/>
<line x1="-14.4" y1="19.8" x2="-2.8" y2="19.8" stroke="#444" stroke-width="0.8"/>
<line x1="-9.3" y1="25.5" x2="-2.8" y2="25.5" stroke="#161616" stroke-width="0.9"/>
<line x1="-9.3" y1="43.4" x2="-2.8" y2="43.4" stroke="#161616" stroke-width="0.9"/>
<line x1="-26.5" y1="49.8" x2="0" y2="49.8" stroke="#161616" stroke-width="1.7"/>
<path d="M-22.9 51.6L-3.5 51.6Q-1 51.4 0 49.8" fill="none" stroke="#161616" stroke-width="0.9"/>
<rect x="-22.9" y="53.2" width="22.3" height="10.8" fill="#fff" stroke="#161616" stroke-width="1.3"/>
<line x1="-22.9" y1="66.6" x2="-0.6" y2="66.6" stroke="#555" stroke-width="0.8"/>
<rect x="-28.8" y="41.5" width="4" height="29.1" fill="#fff" stroke="#161616" stroke-width="1.2"/>
<line x1="-28.8" y1="64.1" x2="-24.8" y2="64.1" stroke="#161616" stroke-width="1"/>
<rect x="0" y="0" width="125.65" height="71.9" fill="#e7e6e7" stroke="none" stroke-width="1"/>
<line x1="-22.9" y1="0.3" x2="126.2" y2="0.3" stroke="#161616" stroke-width="1.9"/>
<line x1="-0.5" y1="71.9" x2="126.2" y2="71.9" stroke="#161616" stroke-width="1.7"/>
<line x1="0" y1="0" x2="0" y2="71.9" stroke="#161616" stroke-width="1.1"/>
<line x1="125.65" y1="0" x2="125.65" y2="71.9" stroke="#161616" stroke-width="1.1"/>
<rect x="-0.5" y="24.4" width="125.5" height="20" fill="#fff" stroke="none" stroke-width="1"/>
<line x1="0" y1="24.4" x2="125.65" y2="24.4" stroke="#161616" stroke-width="1.1"/>
<line x1="0" y1="44.4" x2="125.65" y2="44.4" stroke="#161616" stroke-width="1.1"/>
<rect x="20" y="19.6" width="38.8" height="5.4" fill="#fff" stroke="none" stroke-width="1"/>
<rect x="66.9" y="19.6" width="38.6" height="5.4" fill="#fff" stroke="none" stroke-width="1"/>
<path d="M20 24.4L21.3 19.6L21.3 13.1L31.9 13.1L31.9 19.6L33.5 22.6L38.4 22.6L40 19.6L40 13.1L50.65 13.1L50.65 19.6L58.8 19.6" fill="#fff" stroke="#161616" stroke-width="1.2"/>
<path d="M66.9 19.6L75 19.6L75 13.1L85 13.1L85 19.6L86.6 22.6L91.5 22.6L93.15 19.6L93.15 13.1L104.4 13.1L104.4 19.6L105.6 24.4" fill="#fff" stroke="#161616" stroke-width="1.2"/>
<path d="M58.8 25L58.8 7.6Q58.8 4.4 62.85 4.4Q66.9 4.4 66.9 7.6L66.9 25" fill="#fff" stroke="#161616" stroke-width="1.2"/>
<path d="M20.65 44.4L20.65 56.25L16.3 61.25L16.3 71.9L110 71.9L110 61.25L105 56.25L105 44.4" fill="#fff" stroke="#161616" stroke-width="1.2"/>
<rect x="34.4" y="47.5" width="6.25" height="24.4" fill="#ebebeb" stroke="#161616" stroke-width="1.1"/>
<rect x="51.3" y="47.5" width="5.6" height="24.4" fill="#ebebeb" stroke="#161616" stroke-width="1.1"/>
<rect x="68.15" y="47.5" width="5.65" height="24.4" fill="#ebebeb" stroke="#161616" stroke-width="1.1"/>
<rect x="85.65" y="47.5" width="5.65" height="24.4" fill="#ebebeb" stroke="#161616" stroke-width="1.1"/>
<line x1="28" y1="47.5" x2="47" y2="47.5" stroke="#161616" stroke-width="1"/>
<line x1="80" y1="47.5" x2="97" y2="47.5" stroke="#161616" stroke-width="1"/>
<line x1="45.5" y1="50.5" x2="62" y2="50.5" stroke="#161616" stroke-width="0.9"/>
<line x1="64" y1="50.5" x2="79.5" y2="50.5" stroke="#161616" stroke-width="0.9"/>
<rect x="0.3" y="4.4" width="2.8" height="5" fill="#fff" stroke="#161616" stroke-width="0.8"/>
<rect x="122.5" y="4.4" width="2.8" height="5" fill="#fff" stroke="#161616" stroke-width="0.8"/>
<rect x="0.3" y="60" width="2.8" height="5" fill="#fff" stroke="#161616" stroke-width="0.8"/>
<rect x="122.5" y="60" width="2.8" height="5" fill="#fff" stroke="#161616" stroke-width="0.8"/>
<rect x="-3" y="27.2" width="115" height="14.4" fill="#fff" stroke="#161616" stroke-width="1.2"/>
<line x1="-3" y1="30.7" x2="112" y2="30.7" stroke="#555" stroke-width="0.7"/>
<line x1="-3" y1="38.1" x2="112" y2="38.1" stroke="#555" stroke-width="0.7"/>
<rect x="2.5" y="25" width="2.6" height="2.8" fill="#161616" stroke="none" stroke-width="1"/>
<rect x="2.5" y="41" width="2.6" height="2.8" fill="#161616" stroke="none" stroke-width="1"/>
<rect x="9" y="25" width="2.6" height="2.8" fill="#161616" stroke="none" stroke-width="1"/>
<rect x="9" y="41" width="2.6" height="2.8" fill="#161616" stroke="none" stroke-width="1"/>
<rect x="28.5" y="25" width="2.6" height="2.8" fill="#161616" stroke="none" stroke-width="1"/>
<rect x="28.5" y="41" width="2.6" height="2.8" fill="#161616" stroke="none" stroke-width="1"/>
<rect x="53.3" y="25" width="2.6" height="2.8" fill="#161616" stroke="none" stroke-width="1"/>
<rect x="53.3" y="41" width="2.6" height="2.8" fill="#161616" stroke="none" stroke-width="1"/>
<rect x="62.5" y="25" width="2.6" height="2.8" fill="#161616" stroke="none" stroke-width="1"/>
<rect x="62.5" y="41" width="2.6" height="2.8" fill="#161616" stroke="none" stroke-width="1"/>
<rect x="87.5" y="25" width="2.6" height="2.8" fill="#161616" stroke="none" stroke-width="1"/>
<rect x="87.5" y="41" width="2.6" height="2.8" fill="#161616" stroke="none" stroke-width="1"/>
<rect x="111" y="25" width="2.6" height="2.8" fill="#161616" stroke="none" stroke-width="1"/>
<rect x="111" y="41" width="2.6" height="2.8" fill="#161616" stroke="none" stroke-width="1"/>
<line x1="62.9" y1="0" x2="62.9" y2="71.9" stroke="#161616" stroke-width="1"/>
<line x1="-34" y1="34.4" x2="142" y2="34.4" stroke="#333" stroke-width="0.7"/>
<text transform="translate(26.3 71.6) scale(0.92 1)" font-family="'Liberation Sans',sans-serif" font-weight="bold" font-size="15.8" text-anchor="middle" fill="#161616">5</text>
<text transform="translate(45.65 71.6) scale(0.92 1)" font-family="'Liberation Sans',sans-serif" font-weight="bold" font-size="15.8" text-anchor="middle" fill="#161616">4</text>
<text transform="translate(61.3 71.6) scale(0.92 1)" font-family="'Liberation Sans',sans-serif" font-weight="bold" font-size="15.8" text-anchor="middle" fill="#161616">1</text>
<text transform="translate(79.4 71.6) scale(0.92 1)" font-family="'Liberation Sans',sans-serif" font-weight="bold" font-size="15.8" text-anchor="middle" fill="#161616">2</text>
<text transform="translate(99.4 71.6) scale(0.92 1)" font-family="'Liberation Sans',sans-serif" font-weight="bold" font-size="15.8" text-anchor="middle" fill="#161616">3</text>
<rect x="125.65" y="0" width="12.5" height="71.9" fill="#efefef" stroke="#161616" stroke-width="1.6"/>
<line x1="130" y1="0.5" x2="130" y2="71.4" stroke="#161616" stroke-width="0.8"/>
<rect x="126.6" y="3.2" width="2.6" height="3.7" fill="#fff" stroke="#161616" stroke-width="0.8"/>
<rect x="126.6" y="9.4" width="2.6" height="3.1" fill="#fff" stroke="#161616" stroke-width="0.8"/>
<rect x="126.6" y="62" width="2.6" height="4" fill="#fff" stroke="#161616" stroke-width="0.8"/>
<rect x="111.9" y="31.2" width="23.1" height="6.4" fill="#fff" stroke="#161616" stroke-width="1.7"/>
<rect x="-0.6" y="71.9" width="128.1" height="4.35" fill="#fff" stroke="#161616" stroke-width="1.1"/>
<line x1="6" y1="72.4" x2="6" y2="76" stroke="#161616" stroke-width="0.8"/>
<line x1="8.5" y1="72.4" x2="8.5" y2="76" stroke="#161616" stroke-width="0.8"/>
<line x1="20" y1="72.4" x2="20" y2="76" stroke="#161616" stroke-width="0.8"/>
<line x1="22.5" y1="72.4" x2="22.5" y2="76" stroke="#161616" stroke-width="0.8"/>
<line x1="105" y1="72.4" x2="105" y2="76" stroke="#161616" stroke-width="0.8"/>
<line x1="107.5" y1="72.4" x2="107.5" y2="76" stroke="#161616" stroke-width="0.8"/>
<line x1="117" y1="72.4" x2="117" y2="76" stroke="#161616" stroke-width="0.8"/>
<line x1="119.5" y1="72.4" x2="119.5" y2="76" stroke="#161616" stroke-width="0.8"/>
<rect x="-15.85" y="80.6" width="157.15" height="70.65" fill="#fff" stroke="#161616" stroke-width="1.9"/>
<path d="M-8 80.6L-0.6 77L-0.6 76.25" fill="none" stroke="#161616" stroke-width="1.2"/>
<path d="M134 80.6L127.5 77L127.5 76.25" fill="none" stroke="#161616" stroke-width="1.2"/>
<path d="M38.2 80.6L43.8 76.25L82.5 76.25L88.1 80.6Z" fill="#fff" stroke="none" stroke-width="1"/>
<line x1="38.8" y1="81.2" x2="87.5" y2="81.2" stroke="#fff" stroke-width="2.4"/>
<path d="M37.5 80.6L43.8 76.25L82.5 76.25L88.8 80.6" fill="none" stroke="#161616" stroke-width="1.6"/>
<circle cx="11.3" cy="123.1" r="19.5" fill="#fff" stroke="#161616" stroke-width="1.7"/>
<circle cx="11.3" cy="123.1" r="16.2" fill="none" stroke="#161616" stroke-width="1.4"/>
<line x1="-8.2" y1="123.1" x2="30.8" y2="123.1" stroke="#161616" stroke-width="1.3"/>
<circle cx="62.9" cy="103.75" r="19.5" fill="#fff" stroke="#161616" stroke-width="1.7"/>
<circle cx="62.9" cy="103.75" r="16.2" fill="none" stroke="#161616" stroke-width="1.4"/>
<line x1="43.4" y1="103.75" x2="82.4" y2="103.75" stroke="#161616" stroke-width="1.3"/>
<line x1="57.3" y1="88.55" x2="57.3" y2="118.95" stroke="#161616" stroke-width="1"/>
<line x1="62.9" y1="87.55" x2="62.9" y2="119.95" stroke="#161616" stroke-width="1"/>
<line x1="68.7" y1="88.62" x2="68.7" y2="118.88" stroke="#161616" stroke-width="1"/>
<circle cx="114.4" cy="123.1" r="19.5" fill="#fff" stroke="#161616" stroke-width="1.7"/>
<circle cx="114.4" cy="123.1" r="16.2" fill="none" stroke="#161616" stroke-width="1.4"/>
<line x1="94.9" y1="123.1" x2="133.9" y2="123.1" stroke="#161616" stroke-width="1.3"/>
<line x1="110.7" y1="107.33" x2="110.7" y2="138.87" stroke="#161616" stroke-width="1"/>
<line x1="114.4" y1="106.9" x2="114.4" y2="139.3" stroke="#161616" stroke-width="1"/>
<line x1="10.65" y1="64.4" x2="10.65" y2="104" stroke="#161616" stroke-width="1.3"/>
<line x1="15" y1="64.4" x2="15" y2="104.4" stroke="#161616" stroke-width="1.3"/>
</g>
<line x1="901.27" y1="400.32" x2="903.75" y2="437.5" stroke="#161616" stroke-width="1"/>
<circle cx="900.5" cy="388.75" r="11.6" fill="#fff" stroke="#161616" stroke-width="1.3"/>
<text transform="translate(900.5 395.25) scale(0.93 1)" font-family="'Liberation Sans',sans-serif" font-weight="bold" font-size="18" text-anchor="middle" fill="#161616">6</text>
<line x1="940.32" y1="400.27" x2="946" y2="450" stroke="#161616" stroke-width="1"/>
<circle cx="939" cy="388.75" r="11.6" fill="#fff" stroke="#161616" stroke-width="1.3"/>
<text transform="translate(939 395.25) scale(0.93 1)" font-family="'Liberation Sans',sans-serif" font-weight="bold" font-size="18" text-anchor="middle" fill="#161616">5</text>
<line x1="998.07" y1="399.75" x2="968.75" y2="487.5" stroke="#161616" stroke-width="1"/>
<circle cx="1001.75" cy="388.75" r="11.6" fill="#fff" stroke="#161616" stroke-width="1.3"/>
<text transform="translate(1001.75 395.25) scale(0.93 1)" font-family="'Liberation Sans',sans-serif" font-weight="bold" font-size="18" text-anchor="middle" fill="#161616">4</text>
<line x1="1037.34" y1="399.91" x2="1017.5" y2="470" stroke="#161616" stroke-width="1"/>
<circle cx="1040.5" cy="388.75" r="11.6" fill="#fff" stroke="#161616" stroke-width="1.3"/>
<text transform="translate(1040.5 395.25) scale(0.93 1)" font-family="'Liberation Sans',sans-serif" font-weight="bold" font-size="18" text-anchor="middle" fill="#161616">1</text>
<line x1="1081.41" y1="400.35" x2="1078.75" y2="492.5" stroke="#161616" stroke-width="1"/>
<circle cx="1081.75" cy="388.75" r="11.6" fill="#fff" stroke="#161616" stroke-width="1.3"/>
<text transform="translate(1081.75 395.25) scale(0.93 1)" font-family="'Liberation Sans',sans-serif" font-weight="bold" font-size="18" text-anchor="middle" fill="#161616">2</text>
<line x1="1125.59" y1="400.19" x2="1113.75" y2="471" stroke="#161616" stroke-width="1"/>
<circle cx="1127.5" cy="388.75" r="11.6" fill="#fff" stroke="#161616" stroke-width="1.3"/>
<text transform="translate(1127.5 395.25) scale(0.93 1)" font-family="'Liberation Sans',sans-serif" font-weight="bold" font-size="18" text-anchor="middle" fill="#161616">3</text>
<line x1="1182.51" y1="554.58" x2="1116" y2="563.75" stroke="#161616" stroke-width="1"/>
<circle cx="1194" cy="553" r="11.6" fill="#fff" stroke="#161616" stroke-width="1.3"/>
<text transform="translate(1194 559.5) scale(0.93 1)" font-family="'Liberation Sans',sans-serif" font-weight="bold" font-size="18" text-anchor="middle" fill="#161616">7</text>
<g transform="translate(935.5 875.25)">
<g transform="translate(-122.5 -28.5)">
<path d="M13.6 62.75L16.3 66.5L16.3 81.5L19.4 84L19.4 101.5L71.3 101.5L71.3 62.75" fill="#fff" stroke="#161616" stroke-width="1.7"/>
<path d="M1.6 0L67.5 0L70.65 3.4L70.65 62.75L0 62.75L0 1.6Q0 0 1.6 0Z" fill="#fff" stroke="#161616" stroke-width="1.8" stroke-linejoin="round"/>
<line x1="19.4" y1="0" x2="19.4" y2="101.5" stroke="#161616" stroke-width="1.5"/>
<line x1="71.3" y1="13" x2="71.3" y2="101.5" stroke="#161616" stroke-width="1.6"/>
<rect x="19.4" y="77.1" width="11.25" height="11.3" fill="none" stroke="#161616" stroke-width="1.4"/>
<path d="M28.2 78.5Q26.2 82.7 28.2 87" fill="none" stroke="#161616" stroke-width="1.2"/>
<rect x="23.8" y="66.5" width="41.85" height="5" fill="#fff" stroke="#161616" stroke-width="1.5"/>
<rect x="41.3" y="71.8" width="7.5" height="2.8" fill="none" stroke="#777" stroke-width="0.8"/>
<path d="M0 42.75L-31.6 42.75L-31.6 64.6L-3.1 64.6L0 62.75" fill="#fff" stroke="#161616" stroke-width="1.6"/>
<line x1="-18.7" y1="42.75" x2="-18.7" y2="64.6" stroke="#555" stroke-width="0.9"/>
<line x1="-31.6" y1="57.75" x2="-18.7" y2="57.75" stroke="#161616" stroke-width="1.5"/>
<path d="M-31.4 39.9Q-34.9 39.3 -34.9 43L-34.9 64.4Q-34.9 68.1 -31.4 67.5" fill="#fff" stroke="#161616" stroke-width="1.9" stroke-linecap="round"/>
<line x1="-31.6" y1="40" x2="-31.6" y2="67.4" stroke="#444" stroke-width="0.9"/>
<path d="M-34.6 42.75L-37.6 42.75L-37.6 57.75L-34.6 57.75" fill="none" stroke="#161616" stroke-width="1.3"/>
<line x1="-67.7" y1="52.4" x2="-63" y2="52.4" stroke="#555" stroke-width="1.2"/>
<path d="M-64.8 52.4L-63.6 50.9L-55 50.9L-55 53.9L-63.6 53.9Z" fill="#8a8a8a" stroke="#222" stroke-width="1"/>
<rect x="-55" y="49.6" width="6.6" height="5.8" fill="#fff" stroke="#161616" stroke-width="1.4"/>
<line x1="-55" y1="52.5" x2="-48.4" y2="52.5" stroke="#333" stroke-width="0.9"/>
<line x1="-48.4" y1="52.4" x2="-45.8" y2="52.4" stroke="#161616" stroke-width="1"/>
<rect x="-45.8" y="49.6" width="7.8" height="5.8" fill="#fff" stroke="#161616" stroke-width="1.4"/>
<line x1="-45.8" y1="52.5" x2="-38" y2="52.5" stroke="#333" stroke-width="0.9"/>
</g>
<path d="M-22.9 0.3C-27 6 -30.5 20 -31.8 36.9C-32.8 50 -32.2 62 -30.6 70.6 L0 70.6 L0 0.3Z" fill="#fff" stroke="none"/>
<path d="M-22.9 0.3C-25 3.5 -27.3 9 -28.6 14.6L0 14.6L0 0.3Z" fill="#e7e6e7" stroke="none"/>
<path d="M-22.9 0.3C-27 6 -30.5 20 -31.8 36.9C-32.8 50 -32.2 62 -30.6 70.6" fill="none" stroke="#161616" stroke-width="1.2"/>
<path d="M-19.5 0.8C-26.5 10 -30 30 -29.6 48C-29.4 56 -29 62 -28.4 64.6" fill="none" stroke="#444" stroke-width="0.8"/>
<path d="M-51.2 -15.1L-27.2 -15.1L-22.9 0.3L0 0.3" fill="none" stroke="#161616" stroke-width="2" stroke-linejoin="round"/>
<line x1="-51.2" y1="70.6" x2="0" y2="70.6" stroke="#161616" stroke-width="1.8"/>
<path d="M-26.8 15.2L-3 15.2Q-0.6 15.2 0 18.5" fill="none" stroke="#161616" stroke-width="1.5"/>
<line x1="-27.5" y1="12.7" x2="0" y2="12.7" stroke="#555" stroke-width="0.8"/>
<rect x="-22.9" y="19.2" width="8.5" height="30.4" fill="#fff" stroke="#161616" stroke-width="1.9"/>
<rect x="-22" y="19.8" width="6.7" height="2.8" fill="#161616" stroke="none" stroke-width="1"/>
<rect x="-22" y="46.4" width="6.7" height="2.8" fill="#161616" stroke="none" stroke-width="1"/>
<line x1="-9.3" y1="19.4" x2="-9.3" y2="49.6" stroke="#161616" stroke-width="1"/>
<line x1="-2.8" y1="19.4" x2="-2.8" y2="49.6" stroke="#161616" stroke-width="1"/>
<line x1="-14.4" y1="19.8" x2="-2.8" y2="19.8" stroke="#444" stroke-width="0.8"/>
<line x1="-9.3" y1="25.5" x2="-2.8" y2="25.5" stroke="#161616" stroke-width="0.9"/>
<line x1="-9.3" y1="43.4" x2="-2.8" y2="43.4" stroke="#161616" stroke-width="0.9"/>
<line x1="-26.5" y1="49.8" x2="0" y2="49.8" stroke="#161616" stroke-width="1.7"/>
<path d="M-22.9 51.6L-3.5 51.6Q-1 51.4 0 49.8" fill="none" stroke="#161616" stroke-width="0.9"/>
<rect x="-22.9" y="53.2" width="22.3" height="10.8" fill="#fff" stroke="#161616" stroke-width="1.3"/>
<line x1="-22.9" y1="66.6" x2="-0.6" y2="66.6" stroke="#555" stroke-width="0.8"/>
<rect x="-28.8" y="41.5" width="4" height="29.1" fill="#fff" stroke="#161616" stroke-width="1.2"/>
<line x1="-28.8" y1="64.1" x2="-24.8" y2="64.1" stroke="#161616" stroke-width="1"/>
<g transform="translate(125.65 0)">
<g transform="scale(-1 1)">
<g transform="translate(-122.5 -28.5)">
<path d="M13.6 62.75L16.3 66.5L16.3 81.5L19.4 84L19.4 101.5L71.3 101.5L71.3 62.75" fill="#fff" stroke="#161616" stroke-width="1.7"/>
<path d="M1.6 0L67.5 0L70.65 3.4L70.65 62.75L0 62.75L0 1.6Q0 0 1.6 0Z" fill="#fff" stroke="#161616" stroke-width="1.8" stroke-linejoin="round"/>
<line x1="19.4" y1="0" x2="19.4" y2="101.5" stroke="#161616" stroke-width="1.5"/>
<line x1="71.3" y1="13" x2="71.3" y2="101.5" stroke="#161616" stroke-width="1.6"/>
<rect x="19.4" y="77.1" width="11.25" height="11.3" fill="none" stroke="#161616" stroke-width="1.4"/>
<path d="M28.2 78.5Q26.2 82.7 28.2 87" fill="none" stroke="#161616" stroke-width="1.2"/>
<rect x="23.8" y="66.5" width="41.85" height="5" fill="#fff" stroke="#161616" stroke-width="1.5"/>
<rect x="41.3" y="71.8" width="7.5" height="2.8" fill="none" stroke="#777" stroke-width="0.8"/>
<path d="M0 42.75L-31.6 42.75L-31.6 64.6L-3.1 64.6L0 62.75" fill="#fff" stroke="#161616" stroke-width="1.6"/>
<line x1="-18.7" y1="42.75" x2="-18.7" y2="64.6" stroke="#555" stroke-width="0.9"/>
<line x1="-31.6" y1="57.75" x2="-18.7" y2="57.75" stroke="#161616" stroke-width="1.5"/>
<path d="M-31.4 39.9Q-34.9 39.3 -34.9 43L-34.9 64.4Q-34.9 68.1 -31.4 67.5" fill="#fff" stroke="#161616" stroke-width="1.9" stroke-linecap="round"/>
<line x1="-31.6" y1="40" x2="-31.6" y2="67.4" stroke="#444" stroke-width="0.9"/>
<path d="M-34.6 42.75L-37.6 42.75L-37.6 57.75L-34.6 57.75" fill="none" stroke="#161616" stroke-width="1.3"/>
<line x1="-67.7" y1="52.4" x2="-63" y2="52.4" stroke="#555" stroke-width="1.2"/>
<path d="M-64.8 52.4L-63.6 50.9L-55 50.9L-55 53.9L-63.6 53.9Z" fill="#8a8a8a" stroke="#222" stroke-width="1"/>
<rect x="-55" y="49.6" width="6.6" height="5.8" fill="#fff" stroke="#161616" stroke-width="1.4"/>
<line x1="-55" y1="52.5" x2="-48.4" y2="52.5" stroke="#333" stroke-width="0.9"/>
<line x1="-48.4" y1="52.4" x2="-45.8" y2="52.4" stroke="#161616" stroke-width="1"/>
<rect x="-45.8" y="49.6" width="7.8" height="5.8" fill="#fff" stroke="#161616" stroke-width="1.4"/>
<line x1="-45.8" y1="52.5" x2="-38" y2="52.5" stroke="#333" stroke-width="0.9"/>
</g>
<path d="M-22.9 0.3C-27 6 -30.5 20 -31.8 36.9C-32.8 50 -32.2 62 -30.6 70.6 L0 70.6 L0 0.3Z" fill="#fff" stroke="none"/>
<path d="M-22.9 0.3C-25 3.5 -27.3 9 -28.6 14.6L0 14.6L0 0.3Z" fill="#e7e6e7" stroke="none"/>
<path d="M-22.9 0.3C-27 6 -30.5 20 -31.8 36.9C-32.8 50 -32.2 62 -30.6 70.6" fill="none" stroke="#161616" stroke-width="1.2"/>
<path d="M-19.5 0.8C-26.5 10 -30 30 -29.6 48C-29.4 56 -29 62 -28.4 64.6" fill="none" stroke="#444" stroke-width="0.8"/>
<path d="M-51.2 -15.1L-27.2 -15.1L-22.9 0.3L0 0.3" fill="none" stroke="#161616" stroke-width="2" stroke-linejoin="round"/>
<line x1="-51.2" y1="70.6" x2="0" y2="70.6" stroke="#161616" stroke-width="1.8"/>
<path d="M-26.8 15.2L-3 15.2Q-0.6 15.2 0 18.5" fill="none" stroke="#161616" stroke-width="1.5"/>
<line x1="-27.5" y1="12.7" x2="0" y2="12.7" stroke="#555" stroke-width="0.8"/>
<rect x="-22.9" y="19.2" width="8.5" height="30.4" fill="#fff" stroke="#161616" stroke-width="1.9"/>
<rect x="-22" y="19.8" width="6.7" height="2.8" fill="#161616" stroke="none" stroke-width="1"/>
<rect x="-22" y="46.4" width="6.7" height="2.8" fill="#161616" stroke="none" stroke-width="1"/>
<line x1="-9.3" y1="19.4" x2="-9.3" y2="49.6" stroke="#161616" stroke-width="1"/>
<line x1="-2.8" y1="19.4" x2="-2.8" y2="49.6" stroke="#161616" stroke-width="1"/>
<line x1="-14.4" y1="19.8" x2="-2.8" y2="19.8" stroke="#444" stroke-width="0.8"/>
<line x1="-9.3" y1="25.5" x2="-2.8" y2="25.5" stroke="#161616" stroke-width="0.9"/>
<line x1="-9.3" y1="43.4" x2="-2.8" y2="43.4" stroke="#161616" stroke-width="0.9"/>
<line x1="-26.5" y1="49.8" x2="0" y2="49.8" stroke="#161616" stroke-width="1.7"/>
<path d="M-22.9 51.6L-3.5 51.6Q-1 51.4 0 49.8" fill="none" stroke="#161616" stroke-width="0.9"/>
<rect x="-22.9" y="53.2" width="22.3" height="10.8" fill="#fff" stroke="#161616" stroke-width="1.3"/>
<line x1="-22.9" y1="66.6" x2="-0.6" y2="66.6" stroke="#555" stroke-width="0.8"/>
<rect x="-28.8" y="41.5" width="4" height="29.1" fill="#fff" stroke="#161616" stroke-width="1.2"/>
<line x1="-28.8" y1="64.1" x2="-24.8" y2="64.1" stroke="#161616" stroke-width="1"/>
</g>
</g>
<rect x="0" y="0" width="125.65" height="71.9" fill="#e7e6e7" stroke="none" stroke-width="1"/>
<line x1="-22.9" y1="0.3" x2="126.2" y2="0.3" stroke="#161616" stroke-width="1.9"/>
<line x1="-0.5" y1="71.9" x2="126.2" y2="71.9" stroke="#161616" stroke-width="1.7"/>
<line x1="0" y1="0" x2="0" y2="71.9" stroke="#161616" stroke-width="1.1"/>
<line x1="125.65" y1="0" x2="125.65" y2="71.9" stroke="#161616" stroke-width="1.1"/>
<rect x="-0.5" y="24.4" width="125.5" height="20" fill="#fff" stroke="none" stroke-width="1"/>
<line x1="0" y1="24.4" x2="125.65" y2="24.4" stroke="#161616" stroke-width="1.1"/>
<line x1="0" y1="44.4" x2="125.65" y2="44.4" stroke="#161616" stroke-width="1.1"/>
<rect x="20" y="19.6" width="38.8" height="5.4" fill="#fff" stroke="none" stroke-width="1"/>
<rect x="66.9" y="19.6" width="38.6" height="5.4" fill="#fff" stroke="none" stroke-width="1"/>
<path d="M20 24.4L21.3 19.6L21.3 13.1L31.9 13.1L31.9 19.6L33.5 22.6L38.4 22.6L40 19.6L40 13.1L50.65 13.1L50.65 19.6L58.8 19.6" fill="#fff" stroke="#161616" stroke-width="1.2"/>
<path d="M66.9 19.6L75 19.6L75 13.1L85 13.1L85 19.6L86.6 22.6L91.5 22.6L93.15 19.6L93.15 13.1L104.4 13.1L104.4 19.6L105.6 24.4" fill="#fff" stroke="#161616" stroke-width="1.2"/>
<path d="M58.8 25L58.8 7.6Q58.8 4.4 62.85 4.4Q66.9 4.4 66.9 7.6L66.9 25" fill="#fff" stroke="#161616" stroke-width="1.2"/>
<path d="M20.65 44.4L20.65 56.25L16.3 61.25L16.3 71.9L110 71.9L110 61.25L105 56.25L105 44.4" fill="#fff" stroke="#161616" stroke-width="1.2"/>
<rect x="34.4" y="47.5" width="6.25" height="24.4" fill="#ebebeb" stroke="#161616" stroke-width="1.1"/>
<rect x="51.3" y="47.5" width="5.6" height="24.4" fill="#ebebeb" stroke="#161616" stroke-width="1.1"/>
<rect x="68.15" y="47.5" width="5.65" height="24.4" fill="#ebebeb" stroke="#161616" stroke-width="1.1"/>
<rect x="85.65" y="47.5" width="5.65" height="24.4" fill="#ebebeb" stroke="#161616" stroke-width="1.1"/>
<line x1="28" y1="47.5" x2="47" y2="47.5" stroke="#161616" stroke-width="1"/>
<line x1="80" y1="47.5" x2="97" y2="47.5" stroke="#161616" stroke-width="1"/>
<line x1="45.5" y1="50.5" x2="62" y2="50.5" stroke="#161616" stroke-width="0.9"/>
<line x1="64" y1="50.5" x2="79.5" y2="50.5" stroke="#161616" stroke-width="0.9"/>
<rect x="0.3" y="4.4" width="2.8" height="5" fill="#fff" stroke="#161616" stroke-width="0.8"/>
<rect x="122.5" y="4.4" width="2.8" height="5" fill="#fff" stroke="#161616" stroke-width="0.8"/>
<rect x="0.3" y="60" width="2.8" height="5" fill="#fff" stroke="#161616" stroke-width="0.8"/>
<rect x="122.5" y="60" width="2.8" height="5" fill="#fff" stroke="#161616" stroke-width="0.8"/>
<rect x="-3" y="27.2" width="115" height="14.4" fill="#fff" stroke="#161616" stroke-width="1.2"/>
<line x1="-3" y1="30.7" x2="112" y2="30.7" stroke="#555" stroke-width="0.7"/>
<line x1="-3" y1="38.1" x2="112" y2="38.1" stroke="#555" stroke-width="0.7"/>
<rect x="2.5" y="25" width="2.6" height="2.8" fill="#161616" stroke="none" stroke-width="1"/>
<rect x="2.5" y="41" width="2.6" height="2.8" fill="#161616" stroke="none" stroke-width="1"/>
<rect x="9" y="25" width="2.6" height="2.8" fill="#161616" stroke="none" stroke-width="1"/>
<rect x="9" y="41" width="2.6" height="2.8" fill="#161616" stroke="none" stroke-width="1"/>
<rect x="28.5" y="25" width="2.6" height="2.8" fill="#161616" stroke="none" stroke-width="1"/>
<rect x="28.5" y="41" width="2.6" height="2.8" fill="#161616" stroke="none" stroke-width="1"/>
<rect x="53.3" y="25" width="2.6" height="2.8" fill="#161616" stroke="none" stroke-width="1"/>
<rect x="53.3" y="41" width="2.6" height="2.8" fill="#161616" stroke="none" stroke-width="1"/>
<rect x="62.5" y="25" width="2.6" height="2.8" fill="#161616" stroke="none" stroke-width="1"/>
<rect x="62.5" y="41" width="2.6" height="2.8" fill="#161616" stroke="none" stroke-width="1"/>
<rect x="87.5" y="25" width="2.6" height="2.8" fill="#161616" stroke="none" stroke-width="1"/>
<rect x="87.5" y="41" width="2.6" height="2.8" fill="#161616" stroke="none" stroke-width="1"/>
<rect x="111" y="25" width="2.6" height="2.8" fill="#161616" stroke="none" stroke-width="1"/>
<rect x="111" y="41" width="2.6" height="2.8" fill="#161616" stroke="none" stroke-width="1"/>
<line x1="62.9" y1="0" x2="62.9" y2="71.9" stroke="#161616" stroke-width="1"/>
<line x1="-34" y1="34.4" x2="128" y2="34.4" stroke="#333" stroke-width="0.7"/>
<text transform="translate(26.3 71.6) scale(0.92 1)" font-family="'Liberation Sans',sans-serif" font-weight="bold" font-size="15.8" text-anchor="middle" fill="#161616">5</text>
<text transform="translate(45.65 71.6) scale(0.92 1)" font-family="'Liberation Sans',sans-serif" font-weight="bold" font-size="15.8" text-anchor="middle" fill="#161616">4</text>
<text transform="translate(61.3 71.6) scale(0.92 1)" font-family="'Liberation Sans',sans-serif" font-weight="bold" font-size="15.8" text-anchor="middle" fill="#161616">1</text>
<text transform="translate(79.4 71.6) scale(0.92 1)" font-family="'Liberation Sans',sans-serif" font-weight="bold" font-size="15.8" text-anchor="middle" fill="#161616">2</text>
<text transform="translate(99.4 71.6) scale(0.92 1)" font-family="'Liberation Sans',sans-serif" font-weight="bold" font-size="15.8" text-anchor="middle" fill="#161616">3</text>
<rect x="114" y="29" width="5" height="2.6" fill="#fff" stroke="#161616" stroke-width="0.8"/>
<rect x="114" y="32.8" width="5" height="2.6" fill="#fff" stroke="#161616" stroke-width="0.8"/>
<rect x="114" y="36.6" width="5" height="2.6" fill="#fff" stroke="#161616" stroke-width="0.8"/>
<rect x="-0.6" y="71.9" width="128.1" height="4.35" fill="#fff" stroke="#161616" stroke-width="1.1"/>
<line x1="6" y1="72.4" x2="6" y2="76" stroke="#161616" stroke-width="0.8"/>
<line x1="8.5" y1="72.4" x2="8.5" y2="76" stroke="#161616" stroke-width="0.8"/>
<line x1="20" y1="72.4" x2="20" y2="76" stroke="#161616" stroke-width="0.8"/>
<line x1="22.5" y1="72.4" x2="22.5" y2="76" stroke="#161616" stroke-width="0.8"/>
<line x1="105" y1="72.4" x2="105" y2="76" stroke="#161616" stroke-width="0.8"/>
<line x1="107.5" y1="72.4" x2="107.5" y2="76" stroke="#161616" stroke-width="0.8"/>
<line x1="117" y1="72.4" x2="117" y2="76" stroke="#161616" stroke-width="0.8"/>
<line x1="119.5" y1="72.4" x2="119.5" y2="76" stroke="#161616" stroke-width="0.8"/>
<rect x="-15.85" y="80.6" width="157.15" height="70.65" fill="#fff" stroke="#161616" stroke-width="1.9"/>
<path d="M-8 80.6L-0.6 77L-0.6 76.25" fill="none" stroke="#161616" stroke-width="1.2"/>
<path d="M134 80.6L127.5 77L127.5 76.25" fill="none" stroke="#161616" stroke-width="1.2"/>
<path d="M38.2 80.6L43.8 76.25L82.5 76.25L88.1 80.6Z" fill="#fff" stroke="none" stroke-width="1"/>
<line x1="38.8" y1="81.2" x2="87.5" y2="81.2" stroke="#fff" stroke-width="2.4"/>
<path d="M37.5 80.6L43.8 76.25L82.5 76.25L88.8 80.6" fill="none" stroke="#161616" stroke-width="1.6"/>
<circle cx="11.3" cy="123.1" r="19.5" fill="#fff" stroke="#161616" stroke-width="1.7"/>
<circle cx="11.3" cy="123.1" r="16.2" fill="none" stroke="#161616" stroke-width="1.4"/>
<line x1="-8.2" y1="123.1" x2="30.8" y2="123.1" stroke="#161616" stroke-width="1.3"/>
<line x1="7.6" y1="107.33" x2="7.6" y2="138.87" stroke="#161616" stroke-width="1"/>
<line x1="11.3" y1="106.9" x2="11.3" y2="139.3" stroke="#161616" stroke-width="1"/>
<circle cx="62.9" cy="103.75" r="19.5" fill="#fff" stroke="#161616" stroke-width="1.7"/>
<circle cx="62.9" cy="103.75" r="16.2" fill="none" stroke="#161616" stroke-width="1.4"/>
<line x1="43.4" y1="103.75" x2="82.4" y2="103.75" stroke="#161616" stroke-width="1.3"/>
<line x1="57.3" y1="88.55" x2="57.3" y2="118.95" stroke="#161616" stroke-width="1"/>
<line x1="62.9" y1="87.55" x2="62.9" y2="119.95" stroke="#161616" stroke-width="1"/>
<line x1="68.7" y1="88.62" x2="68.7" y2="118.88" stroke="#161616" stroke-width="1"/>
<circle cx="114.4" cy="123.1" r="19.5" fill="#fff" stroke="#161616" stroke-width="1.7"/>
<circle cx="114.4" cy="123.1" r="16.2" fill="none" stroke="#161616" stroke-width="1.4"/>
<line x1="94.9" y1="123.1" x2="133.9" y2="123.1" stroke="#161616" stroke-width="1.3"/>
<line x1="110.7" y1="107.33" x2="110.7" y2="138.87" stroke="#161616" stroke-width="1"/>
<line x1="114.4" y1="106.9" x2="114.4" y2="139.3" stroke="#161616" stroke-width="1"/>
</g>
<line x1="856.58" y1="811.57" x2="859.25" y2="849" stroke="#161616" stroke-width="1"/>
<circle cx="855.75" cy="800" r="11.6" fill="#fff" stroke="#161616" stroke-width="1.3"/>
<text transform="translate(855.75 806.5) scale(0.93 1)" font-family="'Liberation Sans',sans-serif" font-weight="bold" font-size="18" text-anchor="middle" fill="#161616">6</text>
<line x1="894.18" y1="811.48" x2="901.5" y2="861.5" stroke="#161616" stroke-width="1"/>
<circle cx="892.5" cy="800" r="11.6" fill="#fff" stroke="#161616" stroke-width="1.3"/>
<text transform="translate(892.5 806.5) scale(0.93 1)" font-family="'Liberation Sans',sans-serif" font-weight="bold" font-size="18" text-anchor="middle" fill="#161616">5</text>
<line x1="953.13" y1="811.02" x2="924.25" y2="899" stroke="#161616" stroke-width="1"/>
<circle cx="956.75" cy="800" r="11.6" fill="#fff" stroke="#161616" stroke-width="1.3"/>
<text transform="translate(956.75 806.5) scale(0.93 1)" font-family="'Liberation Sans',sans-serif" font-weight="bold" font-size="18" text-anchor="middle" fill="#161616">4</text>
<line x1="994.82" y1="811.08" x2="973" y2="881.5" stroke="#161616" stroke-width="1"/>
<circle cx="998.25" cy="800" r="11.6" fill="#fff" stroke="#161616" stroke-width="1.3"/>
<text transform="translate(998.25 806.5) scale(0.93 1)" font-family="'Liberation Sans',sans-serif" font-weight="bold" font-size="18" text-anchor="middle" fill="#161616">1</text>
<line x1="1037.14" y1="811.59" x2="1034.25" y2="904" stroke="#161616" stroke-width="1"/>
<circle cx="1037.5" cy="800" r="11.6" fill="#fff" stroke="#161616" stroke-width="1.3"/>
<text transform="translate(1037.5 806.5) scale(0.93 1)" font-family="'Liberation Sans',sans-serif" font-weight="bold" font-size="18" text-anchor="middle" fill="#161616">2</text>
<line x1="1136.72" y1="1000.52" x2="1072.5" y2="985" stroke="#161616" stroke-width="1"/>
<circle cx="1148" cy="1003.25" r="11.6" fill="#fff" stroke="#161616" stroke-width="1.3"/>
<text transform="translate(1148 1009.75) scale(0.93 1)" font-family="'Liberation Sans',sans-serif" font-weight="bold" font-size="18" text-anchor="middle" fill="#161616">7</text>
<g transform="translate(919.5 1290.75)">
<g transform="translate(-122.5 -28.5)">
<path d="M13.6 62.75L16.3 66.5L16.3 81.5L19.4 84L19.4 101.5L71.3 101.5L71.3 62.75" fill="#fff" stroke="#161616" stroke-width="1.7"/>
<path d="M1.6 0L67.5 0L70.65 3.4L70.65 62.75L0 62.75L0 1.6Q0 0 1.6 0Z" fill="#fff" stroke="#161616" stroke-width="1.8" stroke-linejoin="round"/>
<line x1="19.4" y1="0" x2="19.4" y2="101.5" stroke="#161616" stroke-width="1.5"/>
<line x1="71.3" y1="13" x2="71.3" y2="101.5" stroke="#161616" stroke-width="1.6"/>
<rect x="19.4" y="77.1" width="11.25" height="11.3" fill="none" stroke="#161616" stroke-width="1.4"/>
<path d="M28.2 78.5Q26.2 82.7 28.2 87" fill="none" stroke="#161616" stroke-width="1.2"/>
<rect x="23.8" y="66.5" width="41.85" height="5" fill="#fff" stroke="#161616" stroke-width="1.5"/>
<rect x="41.3" y="71.8" width="7.5" height="2.8" fill="none" stroke="#777" stroke-width="0.8"/>
<path d="M0 42.75L-31.6 42.75L-31.6 64.6L-3.1 64.6L0 62.75" fill="#fff" stroke="#161616" stroke-width="1.6"/>
<line x1="-18.7" y1="42.75" x2="-18.7" y2="64.6" stroke="#555" stroke-width="0.9"/>
<line x1="-31.6" y1="57.75" x2="-18.7" y2="57.75" stroke="#161616" stroke-width="1.5"/>
<path d="M-31.4 39.9Q-34.9 39.3 -34.9 43L-34.9 64.4Q-34.9 68.1 -31.4 67.5" fill="#fff" stroke="#161616" stroke-width="1.9" stroke-linecap="round"/>
<line x1="-31.6" y1="40" x2="-31.6" y2="67.4" stroke="#444" stroke-width="0.9"/>
<path d="M-34.6 42.75L-37.6 42.75L-37.6 57.75L-34.6 57.75" fill="none" stroke="#161616" stroke-width="1.3"/>
<line x1="-67.7" y1="52.4" x2="-63" y2="52.4" stroke="#555" stroke-width="1.2"/>
<path d="M-64.8 52.4L-63.6 50.9L-55 50.9L-55 53.9L-63.6 53.9Z" fill="#8a8a8a" stroke="#222" stroke-width="1"/>
<rect x="-55" y="49.6" width="6.6" height="5.8" fill="#fff" stroke="#161616" stroke-width="1.4"/>
<line x1="-55" y1="52.5" x2="-48.4" y2="52.5" stroke="#333" stroke-width="0.9"/>
<line x1="-48.4" y1="52.4" x2="-45.8" y2="52.4" stroke="#161616" stroke-width="1"/>
<rect x="-45.8" y="49.6" width="7.8" height="5.8" fill="#fff" stroke="#161616" stroke-width="1.4"/>
<line x1="-45.8" y1="52.5" x2="-38" y2="52.5" stroke="#333" stroke-width="0.9"/>
</g>
<path d="M-22.9 0.3C-27 6 -30.5 20 -31.8 36.9C-32.8 50 -32.2 62 -30.6 70.6 L0 70.6 L0 0.3Z" fill="#fff" stroke="none"/>
<path d="M-22.9 0.3C-25 3.5 -27.3 9 -28.6 14.6L0 14.6L0 0.3Z" fill="#e7e6e7" stroke="none"/>
<path d="M-22.9 0.3C-27 6 -30.5 20 -31.8 36.9C-32.8 50 -32.2 62 -30.6 70.6" fill="none" stroke="#161616" stroke-width="1.2"/>
<path d="M-19.5 0.8C-26.5 10 -30 30 -29.6 48C-29.4 56 -29 62 -28.4 64.6" fill="none" stroke="#444" stroke-width="0.8"/>
<path d="M-51.2 -15.1L-27.2 -15.1L-22.9 0.3L0 0.3" fill="none" stroke="#161616" stroke-width="2" stroke-linejoin="round"/>
<line x1="-51.2" y1="70.6" x2="0" y2="70.6" stroke="#161616" stroke-width="1.8"/>
<path d="M-26.8 15.2L-3 15.2Q-0.6 15.2 0 18.5" fill="none" stroke="#161616" stroke-width="1.5"/>
<line x1="-27.5" y1="12.7" x2="0" y2="12.7" stroke="#555" stroke-width="0.8"/>
<rect x="-22.9" y="19.2" width="8.5" height="30.4" fill="#fff" stroke="#161616" stroke-width="1.9"/>
<rect x="-22" y="19.8" width="6.7" height="2.8" fill="#161616" stroke="none" stroke-width="1"/>
<rect x="-22" y="46.4" width="6.7" height="2.8" fill="#161616" stroke="none" stroke-width="1"/>
<line x1="-9.3" y1="19.4" x2="-9.3" y2="49.6" stroke="#161616" stroke-width="1"/>
<line x1="-2.8" y1="19.4" x2="-2.8" y2="49.6" stroke="#161616" stroke-width="1"/>
<line x1="-14.4" y1="19.8" x2="-2.8" y2="19.8" stroke="#444" stroke-width="0.8"/>
<line x1="-9.3" y1="25.5" x2="-2.8" y2="25.5" stroke="#161616" stroke-width="0.9"/>
<line x1="-9.3" y1="43.4" x2="-2.8" y2="43.4" stroke="#161616" stroke-width="0.9"/>
<line x1="-26.5" y1="49.8" x2="0" y2="49.8" stroke="#161616" stroke-width="1.7"/>
<path d="M-22.9 51.6L-3.5 51.6Q-1 51.4 0 49.8" fill="none" stroke="#161616" stroke-width="0.9"/>
<rect x="-22.9" y="53.2" width="22.3" height="10.8" fill="#fff" stroke="#161616" stroke-width="1.3"/>
<line x1="-22.9" y1="66.6" x2="-0.6" y2="66.6" stroke="#555" stroke-width="0.8"/>
<rect x="-28.8" y="41.5" width="4" height="29.1" fill="#fff" stroke="#161616" stroke-width="1.2"/>
<line x1="-28.8" y1="64.1" x2="-24.8" y2="64.1" stroke="#161616" stroke-width="1"/>
<g transform="translate(125.65 0)">
<rect x="0" y="0.3" width="32.5" height="70.3" fill="#e7e6e7" stroke="#161616" stroke-width="1.2"/>
<rect x="0.5" y="17.5" width="30" height="32.5" fill="#fff" stroke="#161616" stroke-width="1.1"/>
<rect x="4" y="20.5" width="19" height="26.5" fill="#fff" stroke="#161616" stroke-width="1.1"/>
<rect x="5.5" y="20.8" width="16" height="3.2" fill="#161616" stroke="none" stroke-width="1"/>
<rect x="5.5" y="43.6" width="16" height="3.2" fill="#161616" stroke="none" stroke-width="1"/>
<rect x="9" y="24" width="9" height="19.6" fill="#fff" stroke="#161616" stroke-width="0.9"/>
<rect x="23" y="29" width="4.5" height="10.5" fill="#fff" stroke="#161616" stroke-width="1"/>
<rect x="27.5" y="31.5" width="3" height="5.5" fill="#fff" stroke="#161616" stroke-width="0.9"/>
<rect x="0.5" y="52.5" width="30" height="16.6" fill="#fff" stroke="#161616" stroke-width="1.1"/>
<rect x="0.3" y="3" width="2.3" height="5.5" fill="#fff" stroke="#161616" stroke-width="0.8"/>
<rect x="0.3" y="60" width="2.3" height="5" fill="#fff" stroke="#161616" stroke-width="0.8"/>
</g>
<g transform="translate(32.5 0)">
<g transform="translate(125.65 0) scale(-1 1)">
<g transform="translate(-122.5 -28.5)">
<path d="M13.6 62.75L16.3 66.5L16.3 81.5L19.4 84L19.4 101.5L71.3 101.5L71.3 62.75" fill="#fff" stroke="#161616" stroke-width="1.7"/>
<path d="M1.6 0L67.5 0L70.65 3.4L70.65 62.75L0 62.75L0 1.6Q0 0 1.6 0Z" fill="#fff" stroke="#161616" stroke-width="1.8" stroke-linejoin="round"/>
<line x1="19.4" y1="0" x2="19.4" y2="101.5" stroke="#161616" stroke-width="1.5"/>
<line x1="71.3" y1="13" x2="71.3" y2="101.5" stroke="#161616" stroke-width="1.6"/>
<rect x="19.4" y="77.1" width="11.25" height="11.3" fill="none" stroke="#161616" stroke-width="1.4"/>
<path d="M28.2 78.5Q26.2 82.7 28.2 87" fill="none" stroke="#161616" stroke-width="1.2"/>
<rect x="23.8" y="66.5" width="41.85" height="5" fill="#fff" stroke="#161616" stroke-width="1.5"/>
<rect x="41.3" y="71.8" width="7.5" height="2.8" fill="none" stroke="#777" stroke-width="0.8"/>
<path d="M0 42.75L-31.6 42.75L-31.6 64.6L-3.1 64.6L0 62.75" fill="#fff" stroke="#161616" stroke-width="1.6"/>
<line x1="-18.7" y1="42.75" x2="-18.7" y2="64.6" stroke="#555" stroke-width="0.9"/>
<line x1="-31.6" y1="57.75" x2="-18.7" y2="57.75" stroke="#161616" stroke-width="1.5"/>
<path d="M-31.4 39.9Q-34.9 39.3 -34.9 43L-34.9 64.4Q-34.9 68.1 -31.4 67.5" fill="#fff" stroke="#161616" stroke-width="1.9" stroke-linecap="round"/>
<line x1="-31.6" y1="40" x2="-31.6" y2="67.4" stroke="#444" stroke-width="0.9"/>
<path d="M-34.6 42.75L-37.6 42.75L-37.6 57.75L-34.6 57.75" fill="none" stroke="#161616" stroke-width="1.3"/>
<line x1="-67.7" y1="52.4" x2="-63" y2="52.4" stroke="#555" stroke-width="1.2"/>
<path d="M-64.8 52.4L-63.6 50.9L-55 50.9L-55 53.9L-63.6 53.9Z" fill="#8a8a8a" stroke="#222" stroke-width="1"/>
<rect x="-55" y="49.6" width="6.6" height="5.8" fill="#fff" stroke="#161616" stroke-width="1.4"/>
<line x1="-55" y1="52.5" x2="-48.4" y2="52.5" stroke="#333" stroke-width="0.9"/>
<line x1="-48.4" y1="52.4" x2="-45.8" y2="52.4" stroke="#161616" stroke-width="1"/>
<rect x="-45.8" y="49.6" width="7.8" height="5.8" fill="#fff" stroke="#161616" stroke-width="1.4"/>
<line x1="-45.8" y1="52.5" x2="-38" y2="52.5" stroke="#333" stroke-width="0.9"/>
</g>
<path d="M-22.9 0.3C-27 6 -30.5 20 -31.8 36.9C-32.8 50 -32.2 62 -30.6 70.6 L0 70.6 L0 0.3Z" fill="#fff" stroke="none"/>
<path d="M-22.9 0.3C-25 3.5 -27.3 9 -28.6 14.6L0 14.6L0 0.3Z" fill="#e7e6e7" stroke="none"/>
<path d="M-22.9 0.3C-27 6 -30.5 20 -31.8 36.9C-32.8 50 -32.2 62 -30.6 70.6" fill="none" stroke="#161616" stroke-width="1.2"/>
<path d="M-19.5 0.8C-26.5 10 -30 30 -29.6 48C-29.4 56 -29 62 -28.4 64.6" fill="none" stroke="#444" stroke-width="0.8"/>
<path d="M-51.2 -15.1L-27.2 -15.1L-22.9 0.3L0 0.3" fill="none" stroke="#161616" stroke-width="2" stroke-linejoin="round"/>
<line x1="-51.2" y1="70.6" x2="0" y2="70.6" stroke="#161616" stroke-width="1.8"/>
<path d="M-26.8 15.2L-3 15.2Q-0.6 15.2 0 18.5" fill="none" stroke="#161616" stroke-width="1.5"/>
<line x1="-27.5" y1="12.7" x2="0" y2="12.7" stroke="#555" stroke-width="0.8"/>
<rect x="-22.9" y="19.2" width="8.5" height="30.4" fill="#fff" stroke="#161616" stroke-width="1.9"/>
<rect x="-22" y="19.8" width="6.7" height="2.8" fill="#161616" stroke="none" stroke-width="1"/>
<rect x="-22" y="46.4" width="6.7" height="2.8" fill="#161616" stroke="none" stroke-width="1"/>
<line x1="-9.3" y1="19.4" x2="-9.3" y2="49.6" stroke="#161616" stroke-width="1"/>
<line x1="-2.8" y1="19.4" x2="-2.8" y2="49.6" stroke="#161616" stroke-width="1"/>
<line x1="-14.4" y1="19.8" x2="-2.8" y2="19.8" stroke="#444" stroke-width="0.8"/>
<line x1="-9.3" y1="25.5" x2="-2.8" y2="25.5" stroke="#161616" stroke-width="0.9"/>
<line x1="-9.3" y1="43.4" x2="-2.8" y2="43.4" stroke="#161616" stroke-width="0.9"/>
<line x1="-26.5" y1="49.8" x2="0" y2="49.8" stroke="#161616" stroke-width="1.7"/>
<path d="M-22.9 51.6L-3.5 51.6Q-1 51.4 0 49.8" fill="none" stroke="#161616" stroke-width="0.9"/>
<rect x="-22.9" y="53.2" width="22.3" height="10.8" fill="#fff" stroke="#161616" stroke-width="1.3"/>
<line x1="-22.9" y1="66.6" x2="-0.6" y2="66.6" stroke="#555" stroke-width="0.8"/>
<rect x="-28.8" y="41.5" width="4" height="29.1" fill="#fff" stroke="#161616" stroke-width="1.2"/>
<line x1="-28.8" y1="64.1" x2="-24.8" y2="64.1" stroke="#161616" stroke-width="1"/>
</g>
</g>
<rect x="0" y="0" width="125.65" height="71.9" fill="#e7e6e7" stroke="none" stroke-width="1"/>
<line x1="-22.9" y1="0.3" x2="126.2" y2="0.3" stroke="#161616" stroke-width="1.9"/>
<line x1="-0.5" y1="71.9" x2="126.2" y2="71.9" stroke="#161616" stroke-width="1.7"/>
<line x1="0" y1="0" x2="0" y2="71.9" stroke="#161616" stroke-width="1.1"/>
<line x1="125.65" y1="0" x2="125.65" y2="71.9" stroke="#161616" stroke-width="1.1"/>
<rect x="-0.5" y="24.4" width="125.5" height="20" fill="#fff" stroke="none" stroke-width="1"/>
<line x1="0" y1="24.4" x2="125.65" y2="24.4" stroke="#161616" stroke-width="1.1"/>
<line x1="0" y1="44.4" x2="125.65" y2="44.4" stroke="#161616" stroke-width="1.1"/>
<rect x="20" y="19.6" width="38.8" height="5.4" fill="#fff" stroke="none" stroke-width="1"/>
<rect x="66.9" y="19.6" width="38.6" height="5.4" fill="#fff" stroke="none" stroke-width="1"/>
<path d="M20 24.4L21.3 19.6L21.3 13.1L31.9 13.1L31.9 19.6L33.5 22.6L38.4 22.6L40 19.6L40 13.1L50.65 13.1L50.65 19.6L58.8 19.6" fill="#fff" stroke="#161616" stroke-width="1.2"/>
<path d="M66.9 19.6L75 19.6L75 13.1L85 13.1L85 19.6L86.6 22.6L91.5 22.6L93.15 19.6L93.15 13.1L104.4 13.1L104.4 19.6L105.6 24.4" fill="#fff" stroke="#161616" stroke-width="1.2"/>
<path d="M58.8 25L58.8 7.6Q58.8 4.4 62.85 4.4Q66.9 4.4 66.9 7.6L66.9 25" fill="#fff" stroke="#161616" stroke-width="1.2"/>
<path d="M20.65 44.4L20.65 56.25L16.3 61.25L16.3 71.9L110 71.9L110 61.25L105 56.25L105 44.4" fill="#fff" stroke="#161616" stroke-width="1.2"/>
<rect x="34.4" y="47.5" width="6.25" height="24.4" fill="#ebebeb" stroke="#161616" stroke-width="1.1"/>
<rect x="51.3" y="47.5" width="5.6" height="24.4" fill="#ebebeb" stroke="#161616" stroke-width="1.1"/>
<rect x="68.15" y="47.5" width="5.65" height="24.4" fill="#ebebeb" stroke="#161616" stroke-width="1.1"/>
<rect x="85.65" y="47.5" width="5.65" height="24.4" fill="#ebebeb" stroke="#161616" stroke-width="1.1"/>
<line x1="28" y1="47.5" x2="47" y2="47.5" stroke="#161616" stroke-width="1"/>
<line x1="80" y1="47.5" x2="97" y2="47.5" stroke="#161616" stroke-width="1"/>
<line x1="45.5" y1="50.5" x2="62" y2="50.5" stroke="#161616" stroke-width="0.9"/>
<line x1="64" y1="50.5" x2="79.5" y2="50.5" stroke="#161616" stroke-width="0.9"/>
<rect x="0.3" y="4.4" width="2.8" height="5" fill="#fff" stroke="#161616" stroke-width="0.8"/>
<rect x="122.5" y="4.4" width="2.8" height="5" fill="#fff" stroke="#161616" stroke-width="0.8"/>
<rect x="0.3" y="60" width="2.8" height="5" fill="#fff" stroke="#161616" stroke-width="0.8"/>
<rect x="122.5" y="60" width="2.8" height="5" fill="#fff" stroke="#161616" stroke-width="0.8"/>
<rect x="-3" y="27.2" width="115" height="14.4" fill="#fff" stroke="#161616" stroke-width="1.2"/>
<line x1="-3" y1="30.7" x2="112" y2="30.7" stroke="#555" stroke-width="0.7"/>
<line x1="-3" y1="38.1" x2="112" y2="38.1" stroke="#555" stroke-width="0.7"/>
<rect x="2.5" y="25" width="2.6" height="2.8" fill="#161616" stroke="none" stroke-width="1"/>
<rect x="2.5" y="41" width="2.6" height="2.8" fill="#161616" stroke="none" stroke-width="1"/>
<rect x="9" y="25" width="2.6" height="2.8" fill="#161616" stroke="none" stroke-width="1"/>
<rect x="9" y="41" width="2.6" height="2.8" fill="#161616" stroke="none" stroke-width="1"/>
<rect x="28.5" y="25" width="2.6" height="2.8" fill="#161616" stroke="none" stroke-width="1"/>
<rect x="28.5" y="41" width="2.6" height="2.8" fill="#161616" stroke="none" stroke-width="1"/>
<rect x="53.3" y="25" width="2.6" height="2.8" fill="#161616" stroke="none" stroke-width="1"/>
<rect x="53.3" y="41" width="2.6" height="2.8" fill="#161616" stroke="none" stroke-width="1"/>
<rect x="62.5" y="25" width="2.6" height="2.8" fill="#161616" stroke="none" stroke-width="1"/>
<rect x="62.5" y="41" width="2.6" height="2.8" fill="#161616" stroke="none" stroke-width="1"/>
<rect x="87.5" y="25" width="2.6" height="2.8" fill="#161616" stroke="none" stroke-width="1"/>
<rect x="87.5" y="41" width="2.6" height="2.8" fill="#161616" stroke="none" stroke-width="1"/>
<rect x="111" y="25" width="2.6" height="2.8" fill="#161616" stroke="none" stroke-width="1"/>
<rect x="111" y="41" width="2.6" height="2.8" fill="#161616" stroke="none" stroke-width="1"/>
<line x1="62.9" y1="0" x2="62.9" y2="71.9" stroke="#161616" stroke-width="1"/>
<line x1="-34" y1="34.4" x2="128" y2="34.4" stroke="#333" stroke-width="0.7"/>
<text transform="translate(26.3 71.6) scale(0.92 1)" font-family="'Liberation Sans',sans-serif" font-weight="bold" font-size="15.8" text-anchor="middle" fill="#161616">5</text>
<text transform="translate(45.65 71.6) scale(0.92 1)" font-family="'Liberation Sans',sans-serif" font-weight="bold" font-size="15.8" text-anchor="middle" fill="#161616">4</text>
<text transform="translate(61.3 71.6) scale(0.92 1)" font-family="'Liberation Sans',sans-serif" font-weight="bold" font-size="15.8" text-anchor="middle" fill="#161616">1</text>
<text transform="translate(79.4 71.6) scale(0.92 1)" font-family="'Liberation Sans',sans-serif" font-weight="bold" font-size="15.8" text-anchor="middle" fill="#161616">2</text>
<text transform="translate(99.4 71.6) scale(0.92 1)" font-family="'Liberation Sans',sans-serif" font-weight="bold" font-size="15.8" text-anchor="middle" fill="#161616">3</text>
<rect x="114" y="29" width="5" height="2.6" fill="#fff" stroke="#161616" stroke-width="0.8"/>
<rect x="114" y="32.8" width="5" height="2.6" fill="#fff" stroke="#161616" stroke-width="0.8"/>
<rect x="114" y="36.6" width="5" height="2.6" fill="#fff" stroke="#161616" stroke-width="0.8"/>
<rect x="-0.6" y="71.9" width="128.1" height="4.35" fill="#fff" stroke="#161616" stroke-width="1.1"/>
<line x1="6" y1="72.4" x2="6" y2="76" stroke="#161616" stroke-width="0.8"/>
<line x1="8.5" y1="72.4" x2="8.5" y2="76" stroke="#161616" stroke-width="0.8"/>
<line x1="20" y1="72.4" x2="20" y2="76" stroke="#161616" stroke-width="0.8"/>
<line x1="22.5" y1="72.4" x2="22.5" y2="76" stroke="#161616" stroke-width="0.8"/>
<line x1="105" y1="72.4" x2="105" y2="76" stroke="#161616" stroke-width="0.8"/>
<line x1="107.5" y1="72.4" x2="107.5" y2="76" stroke="#161616" stroke-width="0.8"/>
<line x1="117" y1="72.4" x2="117" y2="76" stroke="#161616" stroke-width="0.8"/>
<line x1="119.5" y1="72.4" x2="119.5" y2="76" stroke="#161616" stroke-width="0.8"/>
<rect x="-15.85" y="80.6" width="157.15" height="70.65" fill="#fff" stroke="#161616" stroke-width="1.9"/>
<path d="M-8 80.6L-0.6 77L-0.6 76.25" fill="none" stroke="#161616" stroke-width="1.2"/>
<path d="M134 80.6L127.5 77L127.5 76.25" fill="none" stroke="#161616" stroke-width="1.2"/>
<path d="M38.2 80.6L43.8 76.25L82.5 76.25L88.1 80.6Z" fill="#fff" stroke="none" stroke-width="1"/>
<line x1="38.8" y1="81.2" x2="87.5" y2="81.2" stroke="#fff" stroke-width="2.4"/>
<path d="M37.5 80.6L43.8 76.25L82.5 76.25L88.8 80.6" fill="none" stroke="#161616" stroke-width="1.6"/>
<circle cx="11.3" cy="123.1" r="19.5" fill="#fff" stroke="#161616" stroke-width="1.7"/>
<circle cx="11.3" cy="123.1" r="16.2" fill="none" stroke="#161616" stroke-width="1.4"/>
<line x1="-8.2" y1="123.1" x2="30.8" y2="123.1" stroke="#161616" stroke-width="1.3"/>
<line x1="7.6" y1="107.33" x2="7.6" y2="138.87" stroke="#161616" stroke-width="1"/>
<line x1="11.3" y1="106.9" x2="11.3" y2="139.3" stroke="#161616" stroke-width="1"/>
<circle cx="62.9" cy="103.75" r="19.5" fill="#fff" stroke="#161616" stroke-width="1.7"/>
<circle cx="62.9" cy="103.75" r="16.2" fill="none" stroke="#161616" stroke-width="1.4"/>
<line x1="43.4" y1="103.75" x2="82.4" y2="103.75" stroke="#161616" stroke-width="1.3"/>
<line x1="57.3" y1="88.55" x2="57.3" y2="118.95" stroke="#161616" stroke-width="1"/>
<line x1="62.9" y1="87.55" x2="62.9" y2="119.95" stroke="#161616" stroke-width="1"/>
<line x1="68.7" y1="88.62" x2="68.7" y2="118.88" stroke="#161616" stroke-width="1"/>
<circle cx="114.4" cy="123.1" r="19.5" fill="#fff" stroke="#161616" stroke-width="1.7"/>
<circle cx="114.4" cy="123.1" r="16.2" fill="none" stroke="#161616" stroke-width="1.4"/>
<line x1="94.9" y1="123.1" x2="133.9" y2="123.1" stroke="#161616" stroke-width="1.3"/>
<line x1="110.7" y1="107.33" x2="110.7" y2="138.87" stroke="#161616" stroke-width="1"/>
<line x1="114.4" y1="106.9" x2="114.4" y2="139.3" stroke="#161616" stroke-width="1"/>
</g>
<line x1="839.75" y1="1227.06" x2="843" y2="1264.5" stroke="#161616" stroke-width="1"/>
<circle cx="838.75" cy="1215.5" r="11.6" fill="#fff" stroke="#161616" stroke-width="1.3"/>
<text transform="translate(838.75 1222) scale(0.93 1)" font-family="'Liberation Sans',sans-serif" font-weight="bold" font-size="18" text-anchor="middle" fill="#161616">6</text>
<line x1="877.32" y1="1226.96" x2="885.25" y2="1277" stroke="#161616" stroke-width="1"/>
<circle cx="875.5" cy="1215.5" r="11.6" fill="#fff" stroke="#161616" stroke-width="1.3"/>
<text transform="translate(875.5 1222) scale(0.93 1)" font-family="'Liberation Sans',sans-serif" font-weight="bold" font-size="18" text-anchor="middle" fill="#161616">5</text>
<line x1="936.43" y1="1226.54" x2="908" y2="1314.5" stroke="#161616" stroke-width="1"/>
<circle cx="940" cy="1215.5" r="11.6" fill="#fff" stroke="#161616" stroke-width="1.3"/>
<text transform="translate(940 1222) scale(0.93 1)" font-family="'Liberation Sans',sans-serif" font-weight="bold" font-size="18" text-anchor="middle" fill="#161616">4</text>
<line x1="977.91" y1="1226.61" x2="956.75" y2="1297" stroke="#161616" stroke-width="1"/>
<circle cx="981.25" cy="1215.5" r="11.6" fill="#fff" stroke="#161616" stroke-width="1.3"/>
<text transform="translate(981.25 1222) scale(0.93 1)" font-family="'Liberation Sans',sans-serif" font-weight="bold" font-size="18" text-anchor="middle" fill="#161616">1</text>
<line x1="1020.44" y1="1227.1" x2="1018" y2="1319.5" stroke="#161616" stroke-width="1"/>
<circle cx="1020.75" cy="1215.5" r="11.6" fill="#fff" stroke="#161616" stroke-width="1.3"/>
<text transform="translate(1020.75 1222) scale(0.93 1)" font-family="'Liberation Sans',sans-serif" font-weight="bold" font-size="18" text-anchor="middle" fill="#161616">2</text>
<line x1="1121.14" y1="1413.9" x2="1056.25" y2="1400.5" stroke="#161616" stroke-width="1"/>
<circle cx="1132.5" cy="1416.25" r="11.6" fill="#fff" stroke="#161616" stroke-width="1.3"/>
<text transform="translate(1132.5 1422.75) scale(0.93 1)" font-family="'Liberation Sans',sans-serif" font-weight="bold" font-size="18" text-anchor="middle" fill="#161616">7</text>
</svg>
</body></html>
